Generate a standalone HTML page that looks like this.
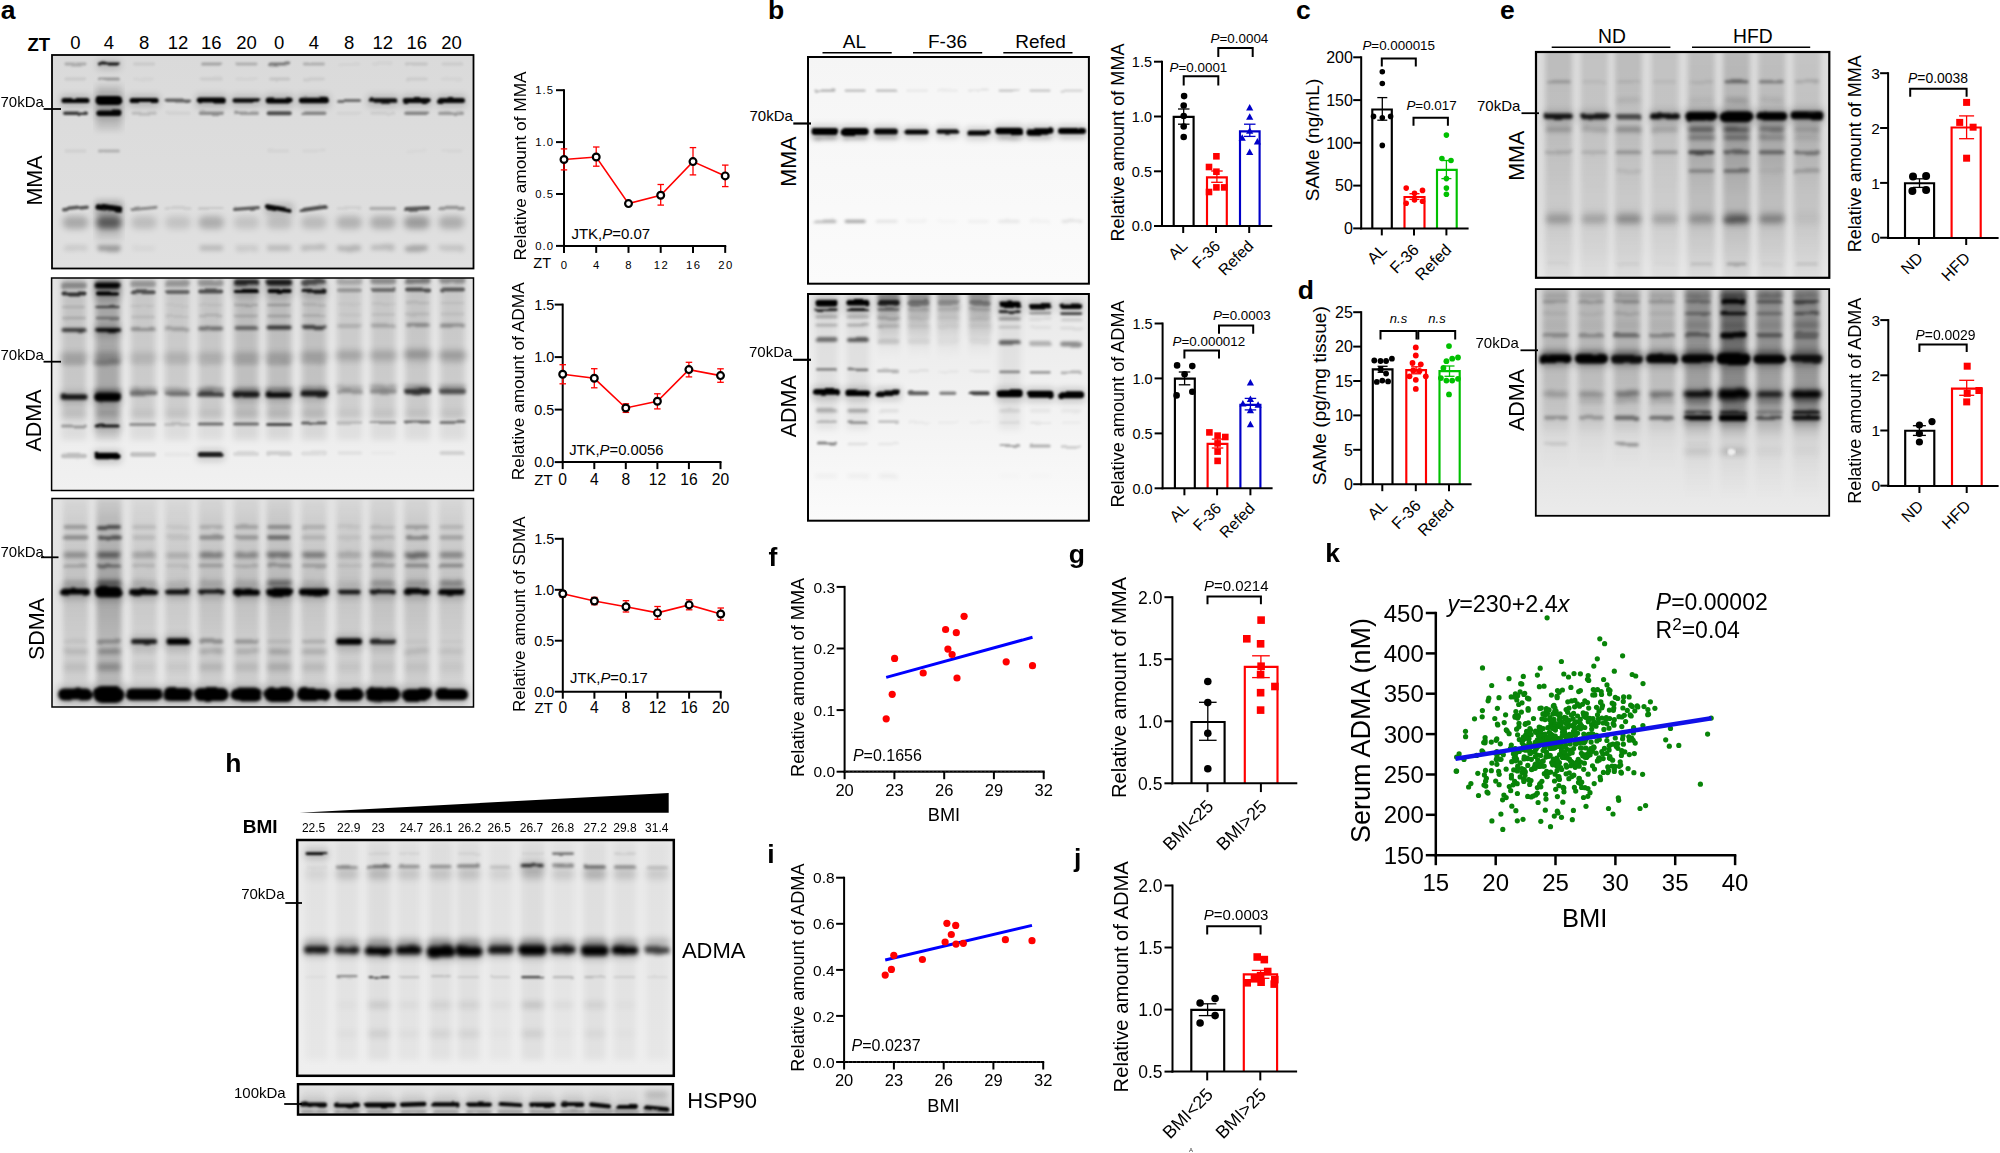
<!DOCTYPE html><html><head><meta charset="utf-8"><title>Figure</title><style>html,body{margin:0;padding:0;background:#fff;overflow:hidden}svg{display:block}</style></head><body>
<svg width="2000" height="1153" viewBox="0 0 2000 1153" font-family="Liberation Sans, Arial, sans-serif">
<defs>
<filter id="blur0.6" x="-10%" y="-400%" width="120%" height="900%" color-interpolation-filters="sRGB"><feTurbulence type="fractalNoise" baseFrequency="0.045 0.07" numOctaves="2" seed="6" result="n"/><feDisplacementMap in="SourceGraphic" in2="n" scale="3.2" xChannelSelector="R" yChannelSelector="G"/><feGaussianBlur stdDeviation="0.6"/></filter>
<filter id="blur0.8" x="-10%" y="-400%" width="120%" height="900%" color-interpolation-filters="sRGB"><feTurbulence type="fractalNoise" baseFrequency="0.045 0.07" numOctaves="2" seed="8" result="n"/><feDisplacementMap in="SourceGraphic" in2="n" scale="3.2" xChannelSelector="R" yChannelSelector="G"/><feGaussianBlur stdDeviation="0.8"/></filter>
<filter id="blur1" x="-10%" y="-400%" width="120%" height="900%" color-interpolation-filters="sRGB"><feTurbulence type="fractalNoise" baseFrequency="0.045 0.07" numOctaves="2" seed="10" result="n"/><feDisplacementMap in="SourceGraphic" in2="n" scale="3.2" xChannelSelector="R" yChannelSelector="G"/><feGaussianBlur stdDeviation="1"/></filter>
<filter id="blur1.2" x="-10%" y="-400%" width="120%" height="900%" color-interpolation-filters="sRGB"><feTurbulence type="fractalNoise" baseFrequency="0.045 0.07" numOctaves="2" seed="12" result="n"/><feDisplacementMap in="SourceGraphic" in2="n" scale="3.2" xChannelSelector="R" yChannelSelector="G"/><feGaussianBlur stdDeviation="1.2"/></filter>
<filter id="blur1.3" x="-10%" y="-400%" width="120%" height="900%" color-interpolation-filters="sRGB"><feTurbulence type="fractalNoise" baseFrequency="0.045 0.07" numOctaves="2" seed="13" result="n"/><feDisplacementMap in="SourceGraphic" in2="n" scale="3.2" xChannelSelector="R" yChannelSelector="G"/><feGaussianBlur stdDeviation="1.3"/></filter>
<filter id="blur1.4" x="-10%" y="-400%" width="120%" height="900%" color-interpolation-filters="sRGB"><feTurbulence type="fractalNoise" baseFrequency="0.045 0.07" numOctaves="2" seed="14" result="n"/><feDisplacementMap in="SourceGraphic" in2="n" scale="3.2" xChannelSelector="R" yChannelSelector="G"/><feGaussianBlur stdDeviation="1.4"/></filter>
<filter id="blur1.5" x="-10%" y="-400%" width="120%" height="900%" color-interpolation-filters="sRGB"><feTurbulence type="fractalNoise" baseFrequency="0.045 0.07" numOctaves="2" seed="15" result="n"/><feDisplacementMap in="SourceGraphic" in2="n" scale="3.2" xChannelSelector="R" yChannelSelector="G"/><feGaussianBlur stdDeviation="1.5"/></filter>
<filter id="blur1.6" x="-10%" y="-400%" width="120%" height="900%" color-interpolation-filters="sRGB"><feTurbulence type="fractalNoise" baseFrequency="0.045 0.07" numOctaves="2" seed="16" result="n"/><feDisplacementMap in="SourceGraphic" in2="n" scale="3.2" xChannelSelector="R" yChannelSelector="G"/><feGaussianBlur stdDeviation="1.6"/></filter>
<filter id="blur1.8" x="-10%" y="-400%" width="120%" height="900%" color-interpolation-filters="sRGB"><feTurbulence type="fractalNoise" baseFrequency="0.045 0.07" numOctaves="2" seed="18" result="n"/><feDisplacementMap in="SourceGraphic" in2="n" scale="3.2" xChannelSelector="R" yChannelSelector="G"/><feGaussianBlur stdDeviation="1.8"/></filter>
<filter id="blur2" x="-10%" y="-400%" width="120%" height="900%" color-interpolation-filters="sRGB"><feTurbulence type="fractalNoise" baseFrequency="0.045 0.07" numOctaves="2" seed="20" result="n"/><feDisplacementMap in="SourceGraphic" in2="n" scale="3.2" xChannelSelector="R" yChannelSelector="G"/><feGaussianBlur stdDeviation="2"/></filter>
<filter id="blur2.2" x="-10%" y="-400%" width="120%" height="900%" color-interpolation-filters="sRGB"><feTurbulence type="fractalNoise" baseFrequency="0.045 0.07" numOctaves="2" seed="22" result="n"/><feDisplacementMap in="SourceGraphic" in2="n" scale="3.2" xChannelSelector="R" yChannelSelector="G"/><feGaussianBlur stdDeviation="2.2"/></filter>
<filter id="blur2.5" x="-10%" y="-400%" width="120%" height="900%" color-interpolation-filters="sRGB"><feGaussianBlur stdDeviation="2.5"/></filter>
<filter id="blur3" x="-10%" y="-400%" width="120%" height="900%" color-interpolation-filters="sRGB"><feGaussianBlur stdDeviation="3"/></filter>
<filter id="blur3.5" x="-10%" y="-400%" width="120%" height="900%" color-interpolation-filters="sRGB"><feGaussianBlur stdDeviation="3.5"/></filter>
<filter id="blur4" x="-10%" y="-400%" width="120%" height="900%" color-interpolation-filters="sRGB"><feGaussianBlur stdDeviation="4"/></filter>
<filter id="blur5" x="-10%" y="-400%" width="120%" height="900%" color-interpolation-filters="sRGB"><feGaussianBlur stdDeviation="5"/></filter>
<filter id="blur6" x="-10%" y="-400%" width="120%" height="900%" color-interpolation-filters="sRGB"><feGaussianBlur stdDeviation="6"/></filter>
<filter id="blur3x" x="-5%" y="-5%" width="110%" height="110%"><feGaussianBlur stdDeviation="4 2"/></filter>
</defs>
<rect x="0.0" y="0.0" width="2000.0" height="1153.0" fill="#fff"/>
<text x="0.8" y="19.0" font-size="26.5" font-weight="bold">a</text>
<text x="27.5" y="50.5" font-size="18.5" font-weight="bold">ZT</text>
<text x="75.5" y="48.5" font-size="18.5" text-anchor="middle">0</text>
<text x="108.9" y="48.5" font-size="18.5" text-anchor="middle">4</text>
<text x="144.1" y="48.5" font-size="18.5" text-anchor="middle">8</text>
<text x="178.0" y="48.5" font-size="18.5" text-anchor="middle">12</text>
<text x="211.3" y="48.5" font-size="18.5" text-anchor="middle">16</text>
<text x="246.5" y="48.5" font-size="18.5" text-anchor="middle">20</text>
<text x="279.2" y="48.5" font-size="18.5" text-anchor="middle">0</text>
<text x="313.9" y="48.5" font-size="18.5" text-anchor="middle">4</text>
<text x="349.1" y="48.5" font-size="18.5" text-anchor="middle">8</text>
<text x="382.8" y="48.5" font-size="18.5" text-anchor="middle">12</text>
<text x="416.8" y="48.5" font-size="18.5" text-anchor="middle">16</text>
<text x="451.5" y="48.5" font-size="18.5" text-anchor="middle">20</text>
<clipPath id="cp1"><rect x="52" y="55" width="421.5" height="213.5"/></clipPath>
<linearGradient id="bg1" x1="0" y1="0" x2="0" y2="1"><stop offset="0" stop-color="#dadada"/><stop offset="1" stop-color="#e0e0e0"/></linearGradient>
<rect x="52.0" y="55.0" width="421.5" height="213.5" fill="url(#bg1)"/>
<g clip-path="url(#cp1)">
<g filter="url(#blur3)">
<rect x="95.9" y="85.0" width="26.0" height="45.0" fill="#000" opacity="0.12"/>
<rect x="95.9" y="200.0" width="26.0" height="40.0" fill="#000" opacity="0.12"/>
</g>
<g filter="url(#blur3)">
<rect x="96.9" y="59.1" width="24.0" height="10.8" rx="4" fill="#000" opacity="0.14"/>
<rect x="60.5" y="94.4" width="30.0" height="13.2" rx="4" fill="#000" opacity="0.16"/>
<rect x="94.4" y="92.5" width="29.0" height="17.0" rx="4" fill="#000" opacity="0.16"/>
<rect x="128.6" y="94.4" width="31.0" height="13.2" rx="4" fill="#000" opacity="0.16"/>
<rect x="195.8" y="94.0" width="31.0" height="14.0" rx="4" fill="#000" opacity="0.16"/>
<rect x="231.5" y="94.7" width="30.0" height="12.6" rx="4" fill="#000" opacity="0.15"/>
<rect x="264.7" y="94.0" width="29.0" height="14.0" rx="4" fill="#000" opacity="0.16"/>
<rect x="297.9" y="94.3" width="32.0" height="13.4" rx="4" fill="#000" opacity="0.16"/>
<rect x="367.3" y="94.7" width="31.0" height="12.6" rx="4" fill="#000" opacity="0.15"/>
<rect x="401.8" y="94.5" width="30.0" height="13.0" rx="4" fill="#000" opacity="0.15"/>
<rect x="437.0" y="94.5" width="29.0" height="13.0" rx="4" fill="#000" opacity="0.15"/>
<rect x="95.4" y="107.0" width="27.0" height="13.5" rx="4" fill="#000" opacity="0.16"/>
<rect x="94.4" y="202.2" width="29.0" height="13.5" rx="4" fill="#000" opacity="0.16"/>
<rect x="264.7" y="202.7" width="29.0" height="12.6" rx="4" fill="#000" opacity="0.16"/>
</g>
<g filter="url(#blur1.3)">
<rect x="64.5" y="62.6" width="22.0" height="2.8" rx="1.4" fill="#000" opacity="0.22"/>
<rect x="97.9" y="62.6" width="22.0" height="2.8" rx="1.4" fill="#000" opacity="0.90"/>
<rect x="133.1" y="62.6" width="22.0" height="2.8" rx="1.4" fill="#000" opacity="0.08"/>
<rect x="200.3" y="62.6" width="22.0" height="2.8" rx="1.4" fill="#000" opacity="0.25"/>
<rect x="235.5" y="62.6" width="22.0" height="2.8" rx="1.4" fill="#000" opacity="0.20"/>
<rect x="268.2" y="62.6" width="22.0" height="2.8" rx="1.4" fill="#000" opacity="0.45"/>
<rect x="302.9" y="62.6" width="22.0" height="2.8" rx="1.4" fill="#000" opacity="0.20"/>
<rect x="338.1" y="62.6" width="22.0" height="2.8" rx="1.4" fill="#000" opacity="0.04"/>
<rect x="371.8" y="62.6" width="22.0" height="2.8" rx="1.4" fill="#000" opacity="0.04"/>
<rect x="405.8" y="62.6" width="22.0" height="2.8" rx="1.4" fill="#000" opacity="0.10"/>
<rect x="440.5" y="62.6" width="22.0" height="2.8" rx="1.4" fill="#000" opacity="0.07"/>
</g>
<g filter="url(#blur1.3)">
<rect x="64.5" y="77.5" width="22.0" height="3.0" rx="1.5" fill="#000" opacity="0.08"/>
<rect x="97.9" y="77.5" width="22.0" height="3.0" rx="1.5" fill="#000" opacity="0.30"/>
<rect x="133.1" y="77.5" width="22.0" height="3.0" rx="1.5" fill="#000" opacity="0.03"/>
<rect x="200.3" y="77.5" width="22.0" height="3.0" rx="1.5" fill="#000" opacity="0.07"/>
<rect x="235.5" y="77.5" width="22.0" height="3.0" rx="1.5" fill="#000" opacity="0.04"/>
<rect x="268.2" y="77.5" width="22.0" height="3.0" rx="1.5" fill="#000" opacity="0.10"/>
<rect x="302.9" y="77.5" width="22.0" height="3.0" rx="1.5" fill="#000" opacity="0.07"/>
<rect x="405.8" y="77.5" width="22.0" height="3.0" rx="1.5" fill="#000" opacity="0.07"/>
<rect x="440.5" y="77.5" width="22.0" height="3.0" rx="1.5" fill="#000" opacity="0.03"/>
</g>
<g filter="url(#blur1.3)">
<rect x="61.5" y="97.9" width="28.0" height="5.2" rx="2.6" fill="#000" opacity="0.97"/>
<rect x="95.4" y="96.0" width="27.0" height="9.0" rx="4.5" fill="#000" opacity="1.00"/>
<rect x="129.6" y="97.9" width="29.0" height="5.2" rx="2.6" fill="#000" opacity="0.97"/>
<rect x="165.5" y="98.5" width="25.0" height="4.0" rx="2.0" fill="#000" opacity="0.55"/>
<rect x="196.8" y="97.5" width="29.0" height="6.0" rx="3.0" fill="#000" opacity="0.98"/>
<rect x="232.5" y="98.2" width="28.0" height="4.6" rx="2.3" fill="#000" opacity="0.93"/>
<rect x="265.7" y="97.5" width="27.0" height="6.0" rx="3.0" fill="#000" opacity="0.98"/>
<rect x="298.9" y="97.8" width="30.0" height="5.4" rx="2.7" fill="#000" opacity="0.97"/>
<rect x="337.1" y="98.9" width="24.0" height="3.2" rx="1.6" fill="#000" opacity="0.50"/>
<rect x="368.3" y="98.2" width="29.0" height="4.6" rx="2.3" fill="#000" opacity="0.93"/>
<rect x="402.8" y="98.0" width="28.0" height="5.0" rx="2.5" fill="#000" opacity="0.95"/>
<rect x="438.0" y="98.0" width="27.0" height="5.0" rx="2.5" fill="#000" opacity="0.95"/>
</g>
<g filter="url(#blur1.3)">
<rect x="63.0" y="111.5" width="25.0" height="3.6" rx="1.8" fill="#000" opacity="0.75"/>
<rect x="96.4" y="110.5" width="25.0" height="5.5" rx="2.8" fill="#000" opacity="0.97"/>
<rect x="131.6" y="111.8" width="25.0" height="3.0" rx="1.5" fill="#000" opacity="0.15"/>
<rect x="165.5" y="111.8" width="25.0" height="3.0" rx="1.5" fill="#000" opacity="0.05"/>
<rect x="198.8" y="111.5" width="25.0" height="3.6" rx="1.8" fill="#000" opacity="0.35"/>
<rect x="234.0" y="111.6" width="25.0" height="3.4" rx="1.7" fill="#000" opacity="0.30"/>
<rect x="266.7" y="111.3" width="25.0" height="4.0" rx="2.0" fill="#000" opacity="0.65"/>
<rect x="301.4" y="111.6" width="25.0" height="3.4" rx="1.7" fill="#000" opacity="0.40"/>
<rect x="336.6" y="111.8" width="25.0" height="3.0" rx="1.5" fill="#000" opacity="0.04"/>
<rect x="370.3" y="111.8" width="25.0" height="3.0" rx="1.5" fill="#000" opacity="0.07"/>
<rect x="404.3" y="111.5" width="25.0" height="3.6" rx="1.8" fill="#000" opacity="0.40"/>
<rect x="439.0" y="111.6" width="25.0" height="3.4" rx="1.7" fill="#000" opacity="0.30"/>
</g>
<g filter="url(#blur1.3)">
<rect x="64.5" y="149.5" width="22.0" height="3.0" rx="1.5" fill="#000" opacity="0.06"/>
<rect x="97.9" y="149.5" width="22.0" height="3.0" rx="1.5" fill="#000" opacity="0.20"/>
<rect x="268.2" y="149.5" width="22.0" height="3.0" rx="1.5" fill="#000" opacity="0.04"/>
<rect x="302.9" y="149.5" width="22.0" height="3.0" rx="1.5" fill="#000" opacity="0.03"/>
<rect x="405.8" y="149.5" width="22.0" height="3.0" rx="1.5" fill="#000" opacity="0.02"/>
<rect x="440.5" y="149.5" width="22.0" height="3.0" rx="1.5" fill="#000" opacity="0.03"/>
</g>
<g filter="url(#blur1.2)">
<rect x="62.0" y="206.8" width="27.0" height="3.4" rx="1.7" fill="#000" opacity="0.62" transform="rotate(-6 75.5 208.5)"/>
<rect x="95.4" y="205.8" width="27.0" height="5.5" rx="2.8" fill="#000" opacity="0.97" transform="rotate(8 108.9 208.5)"/>
<rect x="130.6" y="207.0" width="27.0" height="3.0" rx="1.5" fill="#000" opacity="0.38" transform="rotate(-6 144.1 208.5)"/>
<rect x="164.5" y="207.0" width="27.0" height="3.0" rx="1.5" fill="#000" opacity="0.08"/>
<rect x="197.8" y="207.0" width="27.0" height="3.0" rx="1.5" fill="#000" opacity="0.10"/>
<rect x="233.0" y="206.8" width="27.0" height="3.4" rx="1.7" fill="#000" opacity="0.60" transform="rotate(-4 246.5 208.5)"/>
<rect x="265.7" y="206.2" width="27.0" height="4.6" rx="2.3" fill="#000" opacity="0.97" transform="rotate(10 279.2 208.5)"/>
<rect x="300.4" y="206.7" width="27.0" height="3.6" rx="1.8" fill="#000" opacity="0.65" transform="rotate(-8 313.9 208.5)"/>
<rect x="335.6" y="207.0" width="27.0" height="3.0" rx="1.5" fill="#000" opacity="0.06"/>
<rect x="369.3" y="206.8" width="27.0" height="3.4" rx="1.7" fill="#000" opacity="0.22"/>
<rect x="403.3" y="206.5" width="27.0" height="4.0" rx="2.0" fill="#000" opacity="0.60" transform="rotate(-3 416.8 208.5)"/>
<rect x="438.0" y="206.8" width="27.0" height="3.4" rx="1.7" fill="#000" opacity="0.33"/>
</g>
<g filter="url(#blur3)">
<rect x="62.5" y="216.0" width="26.0" height="13.0" rx="6.5" fill="#000" opacity="0.24"/>
<rect x="95.9" y="216.0" width="26.0" height="13.0" rx="6.5" fill="#000" opacity="0.55"/>
<rect x="131.1" y="216.0" width="26.0" height="13.0" rx="6.5" fill="#000" opacity="0.15"/>
<rect x="165.0" y="216.0" width="26.0" height="13.0" rx="6.5" fill="#000" opacity="0.12"/>
<rect x="198.3" y="216.0" width="26.0" height="13.0" rx="6.5" fill="#000" opacity="0.22"/>
<rect x="233.5" y="216.0" width="26.0" height="13.0" rx="6.5" fill="#000" opacity="0.12"/>
<rect x="266.2" y="216.0" width="26.0" height="13.0" rx="6.5" fill="#000" opacity="0.15"/>
<rect x="300.9" y="216.0" width="26.0" height="13.0" rx="6.5" fill="#000" opacity="0.16"/>
<rect x="336.1" y="216.0" width="26.0" height="13.0" rx="6.5" fill="#000" opacity="0.20"/>
<rect x="369.8" y="216.0" width="26.0" height="13.0" rx="6.5" fill="#000" opacity="0.22"/>
<rect x="403.8" y="216.0" width="26.0" height="13.0" rx="6.5" fill="#000" opacity="0.30"/>
<rect x="438.5" y="216.0" width="26.0" height="13.0" rx="6.5" fill="#000" opacity="0.22"/>
</g>
<g filter="url(#blur2)">
<rect x="63.5" y="245.0" width="24.0" height="6.0" rx="3.0" fill="#000" opacity="0.09"/>
<rect x="96.9" y="245.0" width="24.0" height="6.0" rx="3.0" fill="#000" opacity="0.30"/>
<rect x="132.1" y="245.0" width="24.0" height="6.0" rx="3.0" fill="#000" opacity="0.04"/>
<rect x="199.3" y="245.0" width="24.0" height="6.0" rx="3.0" fill="#000" opacity="0.16"/>
<rect x="234.5" y="245.0" width="24.0" height="6.0" rx="3.0" fill="#000" opacity="0.09"/>
<rect x="267.2" y="245.0" width="24.0" height="6.0" rx="3.0" fill="#000" opacity="0.16"/>
<rect x="301.9" y="245.0" width="24.0" height="6.0" rx="3.0" fill="#000" opacity="0.17"/>
<rect x="337.1" y="245.0" width="24.0" height="6.0" rx="3.0" fill="#000" opacity="0.20"/>
<rect x="370.8" y="245.0" width="24.0" height="6.0" rx="3.0" fill="#000" opacity="0.17"/>
<rect x="404.8" y="245.0" width="24.0" height="6.0" rx="3.0" fill="#000" opacity="0.25"/>
<rect x="439.5" y="245.0" width="24.0" height="6.0" rx="3.0" fill="#000" opacity="0.12"/>
</g>
</g>
<rect x="52.0" y="55.0" width="421.5" height="213.5" fill="none" stroke="#000" stroke-width="1.8"/>
<text x="0.5" y="107.0" font-size="15">70kDa</text>
<line x1="43.5" y1="109.0" x2="61.0" y2="109.0" stroke="#000" stroke-width="1.8"/>
<text x="41.5" y="180.5" font-size="21.5" text-anchor="middle" transform="rotate(-90 41.5 180.5)">MMA</text>
<clipPath id="cp2"><rect x="51.6" y="278" width="421.9" height="212.5"/></clipPath>
<linearGradient id="bg2" x1="0" y1="0" x2="0" y2="1"><stop offset="0" stop-color="#e4e4e4"/><stop offset="1" stop-color="#f1f1f1"/></linearGradient>
<rect x="51.6" y="278.0" width="421.9" height="212.5" fill="url(#bg2)"/>
<g clip-path="url(#cp2)">
<g filter="url(#blur3)">
<rect x="61.5" y="276.0" width="25.0" height="142.0" fill="#000" opacity="0.15"/>
<rect x="95.1" y="276.0" width="25.0" height="142.0" fill="#000" opacity="0.28"/>
<rect x="130.6" y="276.0" width="25.0" height="142.0" fill="#000" opacity="0.13"/>
<rect x="164.7" y="276.0" width="25.0" height="142.0" fill="#000" opacity="0.13"/>
<rect x="198.2" y="276.0" width="25.0" height="142.0" fill="#000" opacity="0.14"/>
<rect x="233.6" y="276.0" width="25.0" height="142.0" fill="#000" opacity="0.18"/>
<rect x="266.6" y="276.0" width="25.0" height="142.0" fill="#000" opacity="0.18"/>
<rect x="301.5" y="276.0" width="25.0" height="142.0" fill="#000" opacity="0.17"/>
<rect x="336.9" y="276.0" width="25.0" height="142.0" fill="#000" opacity="0.12"/>
<rect x="370.8" y="276.0" width="25.0" height="142.0" fill="#000" opacity="0.13"/>
<rect x="405.1" y="276.0" width="25.0" height="142.0" fill="#000" opacity="0.14"/>
<rect x="440.0" y="276.0" width="25.0" height="142.0" fill="#000" opacity="0.13"/>
<rect x="61.5" y="410.0" width="25.0" height="30.0" fill="#000" opacity="0.07"/>
<rect x="95.1" y="410.0" width="25.0" height="30.0" fill="#000" opacity="0.14"/>
<rect x="130.6" y="410.0" width="25.0" height="30.0" fill="#000" opacity="0.07"/>
<rect x="164.7" y="410.0" width="25.0" height="30.0" fill="#000" opacity="0.07"/>
<rect x="198.2" y="410.0" width="25.0" height="30.0" fill="#000" opacity="0.07"/>
<rect x="233.6" y="410.0" width="25.0" height="30.0" fill="#000" opacity="0.09"/>
<rect x="266.6" y="410.0" width="25.0" height="30.0" fill="#000" opacity="0.09"/>
<rect x="301.5" y="410.0" width="25.0" height="30.0" fill="#000" opacity="0.09"/>
<rect x="336.9" y="410.0" width="25.0" height="30.0" fill="#000" opacity="0.06"/>
<rect x="370.8" y="410.0" width="25.0" height="30.0" fill="#000" opacity="0.07"/>
<rect x="405.1" y="410.0" width="25.0" height="30.0" fill="#000" opacity="0.07"/>
<rect x="440.0" y="410.0" width="25.0" height="30.0" fill="#000" opacity="0.07"/>
</g>
<g filter="url(#blur3)">
<rect x="93.6" y="279.0" width="28.0" height="14.0" rx="4" fill="#000" opacity="0.16"/>
<rect x="232.1" y="276.0" width="28.0" height="14.0" rx="4" fill="#000" opacity="0.13"/>
<rect x="265.1" y="276.0" width="28.0" height="14.0" rx="4" fill="#000" opacity="0.14"/>
<rect x="94.1" y="288.0" width="27.0" height="12.0" rx="4" fill="#000" opacity="0.16"/>
<rect x="232.6" y="285.6" width="27.0" height="12.0" rx="4" fill="#000" opacity="0.15"/>
<rect x="265.6" y="285.6" width="27.0" height="12.0" rx="4" fill="#000" opacity="0.15"/>
<rect x="300.5" y="285.2" width="27.0" height="12.0" rx="4" fill="#000" opacity="0.14"/>
<rect x="94.1" y="324.4" width="27.0" height="12.2" rx="4" fill="#000" opacity="0.15"/>
<rect x="59.5" y="390.8" width="29.0" height="13.5" rx="4" fill="#000" opacity="0.14"/>
<rect x="93.1" y="389.0" width="29.0" height="17.0" rx="4" fill="#000" opacity="0.16"/>
<rect x="231.6" y="388.0" width="29.0" height="14.0" rx="4" fill="#000" opacity="0.14"/>
<rect x="264.6" y="387.8" width="29.0" height="14.5" rx="4" fill="#000" opacity="0.15"/>
<rect x="299.5" y="387.0" width="29.0" height="14.0" rx="4" fill="#000" opacity="0.14"/>
<rect x="93.6" y="420.9" width="28.0" height="11.2" rx="4" fill="#000" opacity="0.14"/>
<rect x="93.6" y="449.2" width="28.0" height="14.5" rx="4" fill="#000" opacity="0.16"/>
<rect x="196.7" y="448.5" width="28.0" height="13.0" rx="4" fill="#000" opacity="0.14"/>
</g>
<g filter="url(#blur1.8)">
<rect x="61.0" y="282.5" width="26.0" height="6.0" rx="3.0" fill="#000" opacity="0.30"/>
<rect x="94.6" y="282.5" width="26.0" height="6.0" rx="3.0" fill="#000" opacity="1.00"/>
<rect x="130.1" y="281.0" width="26.0" height="6.0" rx="3.0" fill="#000" opacity="0.25"/>
<rect x="164.2" y="280.5" width="26.0" height="6.0" rx="3.0" fill="#000" opacity="0.25"/>
<rect x="197.7" y="280.0" width="26.0" height="6.0" rx="3.0" fill="#000" opacity="0.25"/>
<rect x="233.1" y="279.5" width="26.0" height="6.0" rx="3.0" fill="#000" opacity="0.80"/>
<rect x="266.1" y="279.5" width="26.0" height="6.0" rx="3.0" fill="#000" opacity="0.85"/>
<rect x="301.0" y="279.0" width="26.0" height="6.0" rx="3.0" fill="#000" opacity="0.60"/>
<rect x="336.4" y="278.5" width="26.0" height="6.0" rx="3.0" fill="#000" opacity="0.18"/>
<rect x="370.3" y="278.0" width="26.0" height="6.0" rx="3.0" fill="#000" opacity="0.30"/>
<rect x="404.6" y="277.5" width="26.0" height="6.0" rx="3.0" fill="#000" opacity="0.40"/>
<rect x="439.5" y="277.5" width="26.0" height="6.0" rx="3.0" fill="#000" opacity="0.30"/>
</g>
<g filter="url(#blur1.3)">
<rect x="61.5" y="291.5" width="25.0" height="4.0" rx="2.0" fill="#000" opacity="0.75"/>
<rect x="95.1" y="291.5" width="25.0" height="4.0" rx="2.0" fill="#000" opacity="1.00"/>
<rect x="130.6" y="290.3" width="25.0" height="4.0" rx="2.0" fill="#000" opacity="0.60"/>
<rect x="164.7" y="289.9" width="25.0" height="4.0" rx="2.0" fill="#000" opacity="0.50"/>
<rect x="198.2" y="289.5" width="25.0" height="4.0" rx="2.0" fill="#000" opacity="0.60"/>
<rect x="233.6" y="289.1" width="25.0" height="4.0" rx="2.0" fill="#000" opacity="0.95"/>
<rect x="266.6" y="289.1" width="25.0" height="4.0" rx="2.0" fill="#000" opacity="0.95"/>
<rect x="301.5" y="288.7" width="25.0" height="4.0" rx="2.0" fill="#000" opacity="0.85"/>
<rect x="336.9" y="288.3" width="25.0" height="4.0" rx="2.0" fill="#000" opacity="0.25"/>
<rect x="370.8" y="287.9" width="25.0" height="4.0" rx="2.0" fill="#000" opacity="0.45"/>
<rect x="405.1" y="287.5" width="25.0" height="4.0" rx="2.0" fill="#000" opacity="0.60"/>
<rect x="440.0" y="287.5" width="25.0" height="4.0" rx="2.0" fill="#000" opacity="0.55"/>
</g>
<g filter="url(#blur1.3)">
<rect x="62.0" y="305.8" width="24.0" height="2.5" rx="1.2" fill="#000" opacity="0.10"/>
<rect x="95.6" y="305.8" width="24.0" height="2.5" rx="1.2" fill="#000" opacity="0.55"/>
<rect x="131.1" y="304.8" width="24.0" height="2.5" rx="1.2" fill="#000" opacity="0.05"/>
<rect x="165.2" y="304.2" width="24.0" height="2.5" rx="1.2" fill="#000" opacity="0.03"/>
<rect x="198.7" y="303.8" width="24.0" height="2.5" rx="1.2" fill="#000" opacity="0.05"/>
<rect x="234.1" y="303.8" width="24.0" height="2.5" rx="1.2" fill="#000" opacity="0.15"/>
<rect x="267.1" y="303.8" width="24.0" height="2.5" rx="1.2" fill="#000" opacity="0.20"/>
<rect x="302.0" y="303.2" width="24.0" height="2.5" rx="1.2" fill="#000" opacity="0.10"/>
<rect x="337.4" y="302.8" width="24.0" height="2.5" rx="1.2" fill="#000" opacity="0.03"/>
<rect x="371.3" y="302.2" width="24.0" height="2.5" rx="1.2" fill="#000" opacity="0.05"/>
<rect x="405.6" y="301.8" width="24.0" height="2.5" rx="1.2" fill="#000" opacity="0.08"/>
<rect x="440.5" y="301.8" width="24.0" height="2.5" rx="1.2" fill="#000" opacity="0.05"/>
</g>
<g filter="url(#blur1.3)">
<rect x="62.0" y="316.5" width="24.0" height="3.0" rx="1.5" fill="#000" opacity="0.12"/>
<rect x="95.6" y="316.5" width="24.0" height="3.0" rx="1.5" fill="#000" opacity="0.30"/>
<rect x="131.1" y="315.5" width="24.0" height="3.0" rx="1.5" fill="#000" opacity="0.08"/>
<rect x="165.2" y="315.0" width="24.0" height="3.0" rx="1.5" fill="#000" opacity="0.06"/>
<rect x="198.7" y="314.5" width="24.0" height="3.0" rx="1.5" fill="#000" opacity="0.10"/>
<rect x="234.1" y="314.5" width="24.0" height="3.0" rx="1.5" fill="#000" opacity="0.12"/>
<rect x="267.1" y="314.5" width="24.0" height="3.0" rx="1.5" fill="#000" opacity="0.15"/>
<rect x="302.0" y="314.0" width="24.0" height="3.0" rx="1.5" fill="#000" opacity="0.10"/>
<rect x="337.4" y="313.5" width="24.0" height="3.0" rx="1.5" fill="#000" opacity="0.04"/>
<rect x="371.3" y="313.0" width="24.0" height="3.0" rx="1.5" fill="#000" opacity="0.06"/>
<rect x="405.6" y="312.5" width="24.0" height="3.0" rx="1.5" fill="#000" opacity="0.08"/>
<rect x="440.5" y="312.5" width="24.0" height="3.0" rx="1.5" fill="#000" opacity="0.06"/>
</g>
<g filter="url(#blur1.6)">
<rect x="61.5" y="327.9" width="25.0" height="4.2" rx="2.1" fill="#000" opacity="0.70"/>
<rect x="95.1" y="327.9" width="25.0" height="4.2" rx="2.1" fill="#000" opacity="0.95"/>
<rect x="130.6" y="326.9" width="25.0" height="4.2" rx="2.1" fill="#000" opacity="0.30"/>
<rect x="164.7" y="326.9" width="25.0" height="4.2" rx="2.1" fill="#000" opacity="0.22"/>
<rect x="198.2" y="326.4" width="25.0" height="4.2" rx="2.1" fill="#000" opacity="0.45"/>
<rect x="233.6" y="325.9" width="25.0" height="4.2" rx="2.1" fill="#000" opacity="0.50"/>
<rect x="266.6" y="325.4" width="25.0" height="4.2" rx="2.1" fill="#000" opacity="0.75"/>
<rect x="301.5" y="324.9" width="25.0" height="4.2" rx="2.1" fill="#000" opacity="0.70"/>
<rect x="336.9" y="323.9" width="25.0" height="4.2" rx="2.1" fill="#000" opacity="0.14"/>
<rect x="370.8" y="323.4" width="25.0" height="4.2" rx="2.1" fill="#000" opacity="0.20"/>
<rect x="405.1" y="322.9" width="25.0" height="4.2" rx="2.1" fill="#000" opacity="0.32"/>
<rect x="440.0" y="323.4" width="25.0" height="4.2" rx="2.1" fill="#000" opacity="0.32"/>
</g>
<g filter="url(#blur3)">
<rect x="60.0" y="352.5" width="28.0" height="10.0" rx="5.0" fill="#000" opacity="0.20"/>
<rect x="93.6" y="352.5" width="28.0" height="10.0" rx="5.0" fill="#000" opacity="0.23"/>
<rect x="129.1" y="352.5" width="28.0" height="10.0" rx="5.0" fill="#000" opacity="0.12"/>
<rect x="163.2" y="352.5" width="28.0" height="10.0" rx="5.0" fill="#000" opacity="0.14"/>
<rect x="196.7" y="352.5" width="28.0" height="10.0" rx="5.0" fill="#000" opacity="0.15"/>
<rect x="232.1" y="352.5" width="28.0" height="10.0" rx="5.0" fill="#000" opacity="0.19"/>
<rect x="265.1" y="352.5" width="28.0" height="10.0" rx="5.0" fill="#000" opacity="0.20"/>
<rect x="300.0" y="351.5" width="28.0" height="10.0" rx="5.0" fill="#000" opacity="0.20"/>
<rect x="335.4" y="350.5" width="28.0" height="10.0" rx="5.0" fill="#000" opacity="0.20"/>
<rect x="369.3" y="350.5" width="28.0" height="10.0" rx="5.0" fill="#000" opacity="0.19"/>
<rect x="403.6" y="349.5" width="28.0" height="10.0" rx="5.0" fill="#000" opacity="0.27"/>
<rect x="438.5" y="350.5" width="28.0" height="10.0" rx="5.0" fill="#000" opacity="0.24"/>
</g>
<g filter="url(#blur2)">
<rect x="61.0" y="361.0" width="26.0" height="4.0" rx="2.0" fill="#000" opacity="0.12"/>
<rect x="94.6" y="361.0" width="26.0" height="4.0" rx="2.0" fill="#000" opacity="0.30"/>
<rect x="130.1" y="361.0" width="26.0" height="4.0" rx="2.0" fill="#000" opacity="0.04"/>
<rect x="164.2" y="361.0" width="26.0" height="4.0" rx="2.0" fill="#000" opacity="0.04"/>
<rect x="197.7" y="361.0" width="26.0" height="4.0" rx="2.0" fill="#000" opacity="0.05"/>
<rect x="233.1" y="361.0" width="26.0" height="4.0" rx="2.0" fill="#000" opacity="0.08"/>
<rect x="266.1" y="361.0" width="26.0" height="4.0" rx="2.0" fill="#000" opacity="0.12"/>
<rect x="301.0" y="361.0" width="26.0" height="4.0" rx="2.0" fill="#000" opacity="0.08"/>
<rect x="336.4" y="361.0" width="26.0" height="4.0" rx="2.0" fill="#000" opacity="0.02"/>
<rect x="370.3" y="361.0" width="26.0" height="4.0" rx="2.0" fill="#000" opacity="0.02"/>
<rect x="404.6" y="361.0" width="26.0" height="4.0" rx="2.0" fill="#000" opacity="0.03"/>
<rect x="439.5" y="361.0" width="26.0" height="4.0" rx="2.0" fill="#000" opacity="0.03"/>
</g>
<g filter="url(#blur2)">
<rect x="94.1" y="389.0" width="27.0" height="4.0" rx="2.0" fill="#000" opacity="0.30"/>
<rect x="129.6" y="388.0" width="27.0" height="4.0" rx="2.0" fill="#000" opacity="0.30"/>
<rect x="163.7" y="388.0" width="27.0" height="4.0" rx="2.0" fill="#000" opacity="0.28"/>
<rect x="197.2" y="388.0" width="27.0" height="4.0" rx="2.0" fill="#000" opacity="0.40"/>
<rect x="232.6" y="388.0" width="27.0" height="4.0" rx="2.0" fill="#000" opacity="0.35"/>
<rect x="265.6" y="388.0" width="27.0" height="4.0" rx="2.0" fill="#000" opacity="0.35"/>
<rect x="300.5" y="387.0" width="27.0" height="4.0" rx="2.0" fill="#000" opacity="0.30"/>
<rect x="335.9" y="386.0" width="27.0" height="4.0" rx="2.0" fill="#000" opacity="0.22"/>
<rect x="369.8" y="385.0" width="27.0" height="4.0" rx="2.0" fill="#000" opacity="0.30"/>
<rect x="404.1" y="385.0" width="27.0" height="4.0" rx="2.0" fill="#000" opacity="0.35"/>
<rect x="439.0" y="385.0" width="27.0" height="4.0" rx="2.0" fill="#000" opacity="0.30"/>
</g>
<g filter="url(#blur1.6)">
<rect x="60.5" y="394.2" width="27.0" height="5.5" rx="2.8" fill="#000" opacity="0.88"/>
<rect x="94.1" y="392.5" width="27.0" height="9.0" rx="4.5" fill="#000" opacity="1.00"/>
<rect x="129.6" y="391.8" width="27.0" height="4.5" rx="2.2" fill="#000" opacity="0.42"/>
<rect x="163.7" y="391.8" width="27.0" height="4.5" rx="2.2" fill="#000" opacity="0.40"/>
<rect x="197.2" y="391.2" width="27.0" height="5.5" rx="2.8" fill="#000" opacity="0.68"/>
<rect x="232.6" y="391.5" width="27.0" height="6.0" rx="3.0" fill="#000" opacity="0.85"/>
<rect x="265.6" y="391.2" width="27.0" height="6.5" rx="3.2" fill="#000" opacity="0.95"/>
<rect x="300.5" y="390.5" width="27.0" height="6.0" rx="3.0" fill="#000" opacity="0.85"/>
<rect x="335.9" y="389.8" width="27.0" height="4.5" rx="2.2" fill="#000" opacity="0.25"/>
<rect x="369.8" y="389.2" width="27.0" height="4.5" rx="2.2" fill="#000" opacity="0.30"/>
<rect x="404.1" y="387.8" width="27.0" height="6.5" rx="3.2" fill="#000" opacity="0.75"/>
<rect x="439.0" y="388.8" width="27.0" height="5.5" rx="2.8" fill="#000" opacity="0.60"/>
</g>
<g filter="url(#blur1.3)">
<rect x="61.0" y="424.4" width="26.0" height="3.2" rx="1.6" fill="#000" opacity="0.30"/>
<rect x="94.6" y="424.4" width="26.0" height="3.2" rx="1.6" fill="#000" opacity="0.85"/>
<rect x="130.1" y="422.9" width="26.0" height="3.2" rx="1.6" fill="#000" opacity="0.35"/>
<rect x="164.2" y="422.9" width="26.0" height="3.2" rx="1.6" fill="#000" opacity="0.15"/>
<rect x="197.7" y="422.4" width="26.0" height="3.2" rx="1.6" fill="#000" opacity="0.50"/>
<rect x="233.1" y="422.4" width="26.0" height="3.2" rx="1.6" fill="#000" opacity="0.50"/>
<rect x="266.1" y="422.9" width="26.0" height="3.2" rx="1.6" fill="#000" opacity="0.65"/>
<rect x="301.0" y="421.4" width="26.0" height="3.2" rx="1.6" fill="#000" opacity="0.55"/>
<rect x="336.4" y="420.9" width="26.0" height="3.2" rx="1.6" fill="#000" opacity="0.15"/>
<rect x="370.3" y="420.9" width="26.0" height="3.2" rx="1.6" fill="#000" opacity="0.30"/>
<rect x="404.6" y="420.4" width="26.0" height="3.2" rx="1.6" fill="#000" opacity="0.50"/>
<rect x="439.5" y="420.9" width="26.0" height="3.2" rx="1.6" fill="#000" opacity="0.45"/>
</g>
<g filter="url(#blur1.3)">
<rect x="61.0" y="453.8" width="26.0" height="4.5" rx="2.2" fill="#000" opacity="0.20"/>
<rect x="94.6" y="452.8" width="26.0" height="6.5" rx="3.2" fill="#000" opacity="1.00"/>
<rect x="130.1" y="452.2" width="26.0" height="4.5" rx="2.2" fill="#000" opacity="0.20"/>
<rect x="164.2" y="452.5" width="26.0" height="4.0" rx="2.0" fill="#000" opacity="0.03"/>
<rect x="197.7" y="452.0" width="26.0" height="5.0" rx="2.5" fill="#000" opacity="0.85"/>
<rect x="233.1" y="452.0" width="26.0" height="4.0" rx="2.0" fill="#000" opacity="0.10"/>
<rect x="266.1" y="452.0" width="26.0" height="4.0" rx="2.0" fill="#000" opacity="0.13"/>
<rect x="301.0" y="451.5" width="26.0" height="4.0" rx="2.0" fill="#000" opacity="0.08"/>
<rect x="336.4" y="451.0" width="26.0" height="4.0" rx="2.0" fill="#000" opacity="0.05"/>
<rect x="370.3" y="451.0" width="26.0" height="4.0" rx="2.0" fill="#000" opacity="0.02"/>
<rect x="439.5" y="451.0" width="26.0" height="4.0" rx="2.0" fill="#000" opacity="0.12"/>
</g>
</g>
<rect x="51.6" y="278.0" width="421.9" height="212.5" fill="none" stroke="#000" stroke-width="1.5"/>
<text x="0.5" y="360.0" font-size="15">70kDa</text>
<line x1="43.5" y1="361.7" x2="61.0" y2="361.7" stroke="#000" stroke-width="1.8"/>
<text x="40.5" y="420.5" font-size="21.5" text-anchor="middle" transform="rotate(-90 40.5 420.5)">ADMA</text>
<clipPath id="cp3"><rect x="52" y="498.5" width="421.5" height="208.5"/></clipPath>
<linearGradient id="bg3" x1="0" y1="0" x2="0" y2="1"><stop offset="-0.002" stop-color="#e3e3e3"/><stop offset="0.487" stop-color="#e2e2e2"/><stop offset="1.000" stop-color="#e8e8e8"/></linearGradient>
<rect x="52.0" y="498.5" width="421.5" height="208.5" fill="url(#bg3)"/>
<g clip-path="url(#cp3)">
<g filter="url(#blur2.5)">
<linearGradient id="lp3_0" gradientUnits="userSpaceOnUse" x1="0" y1="498" x2="0" y2="707"><stop offset="0.000" stop-color="#000" stop-opacity="0.050"/><stop offset="0.105" stop-color="#000" stop-opacity="0.090"/><stop offset="0.297" stop-color="#000" stop-opacity="0.120"/><stop offset="0.416" stop-color="#000" stop-opacity="0.150"/><stop offset="0.488" stop-color="#000" stop-opacity="0.130"/><stop offset="0.656" stop-color="#000" stop-opacity="0.100"/><stop offset="0.847" stop-color="#000" stop-opacity="0.110"/><stop offset="0.909" stop-color="#000" stop-opacity="0.060"/><stop offset="1.000" stop-color="#000" stop-opacity="0.030"/></linearGradient>
<rect x="63.0" y="498" width="25.0" height="209" fill="url(#lp3_0)"/>
<linearGradient id="lp3_1" gradientUnits="userSpaceOnUse" x1="0" y1="498" x2="0" y2="707"><stop offset="0.000" stop-color="#000" stop-opacity="0.100"/><stop offset="0.105" stop-color="#000" stop-opacity="0.180"/><stop offset="0.297" stop-color="#000" stop-opacity="0.240"/><stop offset="0.416" stop-color="#000" stop-opacity="0.300"/><stop offset="0.488" stop-color="#000" stop-opacity="0.260"/><stop offset="0.656" stop-color="#000" stop-opacity="0.200"/><stop offset="0.847" stop-color="#000" stop-opacity="0.220"/><stop offset="0.909" stop-color="#000" stop-opacity="0.120"/><stop offset="1.000" stop-color="#000" stop-opacity="0.060"/></linearGradient>
<rect x="96.4" y="498" width="25.0" height="209" fill="url(#lp3_1)"/>
<linearGradient id="lp3_2" gradientUnits="userSpaceOnUse" x1="0" y1="498" x2="0" y2="707"><stop offset="0.000" stop-color="#000" stop-opacity="0.043"/><stop offset="0.105" stop-color="#000" stop-opacity="0.076"/><stop offset="0.297" stop-color="#000" stop-opacity="0.102"/><stop offset="0.416" stop-color="#000" stop-opacity="0.128"/><stop offset="0.488" stop-color="#000" stop-opacity="0.111"/><stop offset="0.656" stop-color="#000" stop-opacity="0.085"/><stop offset="0.847" stop-color="#000" stop-opacity="0.093"/><stop offset="0.909" stop-color="#000" stop-opacity="0.051"/><stop offset="1.000" stop-color="#000" stop-opacity="0.025"/></linearGradient>
<rect x="131.6" y="498" width="25.0" height="209" fill="url(#lp3_2)"/>
<linearGradient id="lp3_3" gradientUnits="userSpaceOnUse" x1="0" y1="498" x2="0" y2="707"><stop offset="0.000" stop-color="#000" stop-opacity="0.043"/><stop offset="0.105" stop-color="#000" stop-opacity="0.076"/><stop offset="0.297" stop-color="#000" stop-opacity="0.102"/><stop offset="0.416" stop-color="#000" stop-opacity="0.128"/><stop offset="0.488" stop-color="#000" stop-opacity="0.111"/><stop offset="0.656" stop-color="#000" stop-opacity="0.085"/><stop offset="0.847" stop-color="#000" stop-opacity="0.093"/><stop offset="0.909" stop-color="#000" stop-opacity="0.051"/><stop offset="1.000" stop-color="#000" stop-opacity="0.025"/></linearGradient>
<rect x="165.5" y="498" width="25.0" height="209" fill="url(#lp3_3)"/>
<linearGradient id="lp3_4" gradientUnits="userSpaceOnUse" x1="0" y1="498" x2="0" y2="707"><stop offset="0.000" stop-color="#000" stop-opacity="0.055"/><stop offset="0.105" stop-color="#000" stop-opacity="0.099"/><stop offset="0.297" stop-color="#000" stop-opacity="0.132"/><stop offset="0.416" stop-color="#000" stop-opacity="0.165"/><stop offset="0.488" stop-color="#000" stop-opacity="0.143"/><stop offset="0.656" stop-color="#000" stop-opacity="0.110"/><stop offset="0.847" stop-color="#000" stop-opacity="0.121"/><stop offset="0.909" stop-color="#000" stop-opacity="0.066"/><stop offset="1.000" stop-color="#000" stop-opacity="0.033"/></linearGradient>
<rect x="198.8" y="498" width="25.0" height="209" fill="url(#lp3_4)"/>
<linearGradient id="lp3_5" gradientUnits="userSpaceOnUse" x1="0" y1="498" x2="0" y2="707"><stop offset="0.000" stop-color="#000" stop-opacity="0.055"/><stop offset="0.105" stop-color="#000" stop-opacity="0.099"/><stop offset="0.297" stop-color="#000" stop-opacity="0.132"/><stop offset="0.416" stop-color="#000" stop-opacity="0.165"/><stop offset="0.488" stop-color="#000" stop-opacity="0.143"/><stop offset="0.656" stop-color="#000" stop-opacity="0.110"/><stop offset="0.847" stop-color="#000" stop-opacity="0.121"/><stop offset="0.909" stop-color="#000" stop-opacity="0.066"/><stop offset="1.000" stop-color="#000" stop-opacity="0.033"/></linearGradient>
<rect x="234.0" y="498" width="25.0" height="209" fill="url(#lp3_5)"/>
<linearGradient id="lp3_6" gradientUnits="userSpaceOnUse" x1="0" y1="498" x2="0" y2="707"><stop offset="0.000" stop-color="#000" stop-opacity="0.065"/><stop offset="0.105" stop-color="#000" stop-opacity="0.117"/><stop offset="0.297" stop-color="#000" stop-opacity="0.156"/><stop offset="0.416" stop-color="#000" stop-opacity="0.195"/><stop offset="0.488" stop-color="#000" stop-opacity="0.169"/><stop offset="0.656" stop-color="#000" stop-opacity="0.130"/><stop offset="0.847" stop-color="#000" stop-opacity="0.143"/><stop offset="0.909" stop-color="#000" stop-opacity="0.078"/><stop offset="1.000" stop-color="#000" stop-opacity="0.039"/></linearGradient>
<rect x="266.7" y="498" width="25.0" height="209" fill="url(#lp3_6)"/>
<linearGradient id="lp3_7" gradientUnits="userSpaceOnUse" x1="0" y1="498" x2="0" y2="707"><stop offset="0.000" stop-color="#000" stop-opacity="0.050"/><stop offset="0.105" stop-color="#000" stop-opacity="0.090"/><stop offset="0.297" stop-color="#000" stop-opacity="0.120"/><stop offset="0.416" stop-color="#000" stop-opacity="0.150"/><stop offset="0.488" stop-color="#000" stop-opacity="0.130"/><stop offset="0.656" stop-color="#000" stop-opacity="0.100"/><stop offset="0.847" stop-color="#000" stop-opacity="0.110"/><stop offset="0.909" stop-color="#000" stop-opacity="0.060"/><stop offset="1.000" stop-color="#000" stop-opacity="0.030"/></linearGradient>
<rect x="301.4" y="498" width="25.0" height="209" fill="url(#lp3_7)"/>
<linearGradient id="lp3_8" gradientUnits="userSpaceOnUse" x1="0" y1="498" x2="0" y2="707"><stop offset="0.000" stop-color="#000" stop-opacity="0.048"/><stop offset="0.105" stop-color="#000" stop-opacity="0.085"/><stop offset="0.297" stop-color="#000" stop-opacity="0.114"/><stop offset="0.416" stop-color="#000" stop-opacity="0.142"/><stop offset="0.488" stop-color="#000" stop-opacity="0.123"/><stop offset="0.656" stop-color="#000" stop-opacity="0.095"/><stop offset="0.847" stop-color="#000" stop-opacity="0.104"/><stop offset="0.909" stop-color="#000" stop-opacity="0.057"/><stop offset="1.000" stop-color="#000" stop-opacity="0.028"/></linearGradient>
<rect x="336.6" y="498" width="25.0" height="209" fill="url(#lp3_8)"/>
<linearGradient id="lp3_9" gradientUnits="userSpaceOnUse" x1="0" y1="498" x2="0" y2="707"><stop offset="0.000" stop-color="#000" stop-opacity="0.055"/><stop offset="0.105" stop-color="#000" stop-opacity="0.099"/><stop offset="0.297" stop-color="#000" stop-opacity="0.132"/><stop offset="0.416" stop-color="#000" stop-opacity="0.165"/><stop offset="0.488" stop-color="#000" stop-opacity="0.143"/><stop offset="0.656" stop-color="#000" stop-opacity="0.110"/><stop offset="0.847" stop-color="#000" stop-opacity="0.121"/><stop offset="0.909" stop-color="#000" stop-opacity="0.066"/><stop offset="1.000" stop-color="#000" stop-opacity="0.033"/></linearGradient>
<rect x="370.3" y="498" width="25.0" height="209" fill="url(#lp3_9)"/>
<linearGradient id="lp3_10" gradientUnits="userSpaceOnUse" x1="0" y1="498" x2="0" y2="707"><stop offset="0.000" stop-color="#000" stop-opacity="0.055"/><stop offset="0.105" stop-color="#000" stop-opacity="0.099"/><stop offset="0.297" stop-color="#000" stop-opacity="0.132"/><stop offset="0.416" stop-color="#000" stop-opacity="0.165"/><stop offset="0.488" stop-color="#000" stop-opacity="0.143"/><stop offset="0.656" stop-color="#000" stop-opacity="0.110"/><stop offset="0.847" stop-color="#000" stop-opacity="0.121"/><stop offset="0.909" stop-color="#000" stop-opacity="0.066"/><stop offset="1.000" stop-color="#000" stop-opacity="0.033"/></linearGradient>
<rect x="404.3" y="498" width="25.0" height="209" fill="url(#lp3_10)"/>
<linearGradient id="lp3_11" gradientUnits="userSpaceOnUse" x1="0" y1="498" x2="0" y2="707"><stop offset="0.000" stop-color="#000" stop-opacity="0.048"/><stop offset="0.105" stop-color="#000" stop-opacity="0.085"/><stop offset="0.297" stop-color="#000" stop-opacity="0.114"/><stop offset="0.416" stop-color="#000" stop-opacity="0.142"/><stop offset="0.488" stop-color="#000" stop-opacity="0.123"/><stop offset="0.656" stop-color="#000" stop-opacity="0.095"/><stop offset="0.847" stop-color="#000" stop-opacity="0.104"/><stop offset="0.909" stop-color="#000" stop-opacity="0.057"/><stop offset="1.000" stop-color="#000" stop-opacity="0.028"/></linearGradient>
<rect x="439.0" y="498" width="25.0" height="209" fill="url(#lp3_11)"/>
</g>
<g filter="url(#blur3)">
<rect x="60.0" y="585.0" width="31.0" height="15.0" rx="4" fill="#000" opacity="0.16"/>
<rect x="93.9" y="583.0" width="30.0" height="19.0" rx="4" fill="#000" opacity="0.16"/>
<rect x="128.1" y="585.5" width="32.0" height="14.0" rx="4" fill="#000" opacity="0.16"/>
<rect x="165.0" y="586.0" width="26.0" height="13.0" rx="4" fill="#000" opacity="0.15"/>
<rect x="196.8" y="586.0" width="29.0" height="13.0" rx="4" fill="#000" opacity="0.14"/>
<rect x="232.0" y="585.0" width="29.0" height="15.0" rx="4" fill="#000" opacity="0.16"/>
<rect x="265.2" y="584.2" width="28.0" height="16.5" rx="4" fill="#000" opacity="0.16"/>
<rect x="297.9" y="585.0" width="32.0" height="15.0" rx="4" fill="#000" opacity="0.16"/>
<rect x="336.6" y="586.2" width="25.0" height="12.5" rx="4" fill="#000" opacity="0.14"/>
<rect x="368.8" y="586.1" width="28.0" height="12.8" rx="4" fill="#000" opacity="0.14"/>
<rect x="402.8" y="585.5" width="28.0" height="14.0" rx="4" fill="#000" opacity="0.16"/>
<rect x="437.5" y="585.5" width="28.0" height="14.0" rx="4" fill="#000" opacity="0.16"/>
<rect x="130.1" y="635.5" width="28.0" height="13.0" rx="4" fill="#000" opacity="0.14"/>
<rect x="164.5" y="634.8" width="27.0" height="14.5" rx="4" fill="#000" opacity="0.16"/>
<rect x="335.1" y="634.8" width="28.0" height="14.5" rx="4" fill="#000" opacity="0.16"/>
<rect x="368.8" y="635.2" width="28.0" height="13.5" rx="4" fill="#000" opacity="0.13"/>
<rect x="57.0" y="685.0" width="37.0" height="20.0" rx="4" fill="#000" opacity="0.16"/>
<rect x="92.4" y="682.5" width="33.0" height="25.0" rx="4" fill="#000" opacity="0.16"/>
<rect x="124.6" y="685.0" width="39.0" height="20.0" rx="4" fill="#000" opacity="0.16"/>
<rect x="162.5" y="684.5" width="31.0" height="21.0" rx="4" fill="#000" opacity="0.16"/>
<rect x="192.8" y="684.5" width="37.0" height="21.0" rx="4" fill="#000" opacity="0.16"/>
<rect x="229.5" y="684.0" width="34.0" height="22.0" rx="4" fill="#000" opacity="0.16"/>
<rect x="263.2" y="683.5" width="32.0" height="23.0" rx="4" fill="#000" opacity="0.16"/>
<rect x="295.9" y="684.5" width="36.0" height="21.0" rx="4" fill="#000" opacity="0.16"/>
<rect x="333.6" y="684.5" width="31.0" height="21.0" rx="4" fill="#000" opacity="0.16"/>
<rect x="364.3" y="684.0" width="37.0" height="22.0" rx="4" fill="#000" opacity="0.16"/>
<rect x="400.3" y="684.5" width="33.0" height="21.0" rx="4" fill="#000" opacity="0.16"/>
<rect x="434.0" y="685.5" width="35.0" height="19.0" rx="4" fill="#000" opacity="0.16"/>
</g>
<g filter="url(#blur1.8)">
<rect x="63.5" y="525.0" width="24.0" height="4.0" rx="2.0" fill="#000" opacity="0.25"/>
<rect x="96.9" y="525.0" width="24.0" height="4.0" rx="2.0" fill="#000" opacity="0.60"/>
<rect x="132.1" y="525.0" width="24.0" height="4.0" rx="2.0" fill="#000" opacity="0.10"/>
<rect x="166.0" y="525.0" width="24.0" height="4.0" rx="2.0" fill="#000" opacity="0.06"/>
<rect x="199.3" y="525.0" width="24.0" height="4.0" rx="2.0" fill="#000" opacity="0.15"/>
<rect x="234.5" y="525.0" width="24.0" height="4.0" rx="2.0" fill="#000" opacity="0.20"/>
<rect x="267.2" y="525.0" width="24.0" height="4.0" rx="2.0" fill="#000" opacity="0.30"/>
<rect x="301.9" y="525.0" width="24.0" height="4.0" rx="2.0" fill="#000" opacity="0.15"/>
<rect x="337.1" y="525.0" width="24.0" height="4.0" rx="2.0" fill="#000" opacity="0.06"/>
<rect x="370.8" y="525.0" width="24.0" height="4.0" rx="2.0" fill="#000" opacity="0.10"/>
<rect x="404.8" y="525.0" width="24.0" height="4.0" rx="2.0" fill="#000" opacity="0.22"/>
<rect x="439.5" y="525.0" width="24.0" height="4.0" rx="2.0" fill="#000" opacity="0.12"/>
</g>
<g filter="url(#blur1.8)">
<rect x="63.5" y="535.2" width="24.0" height="4.5" rx="2.2" fill="#000" opacity="0.30"/>
<rect x="96.9" y="535.2" width="24.0" height="4.5" rx="2.2" fill="#000" opacity="0.55"/>
<rect x="132.1" y="535.2" width="24.0" height="4.5" rx="2.2" fill="#000" opacity="0.10"/>
<rect x="166.0" y="535.2" width="24.0" height="4.5" rx="2.2" fill="#000" opacity="0.07"/>
<rect x="199.3" y="535.2" width="24.0" height="4.5" rx="2.2" fill="#000" opacity="0.30"/>
<rect x="234.5" y="535.2" width="24.0" height="4.5" rx="2.2" fill="#000" opacity="0.25"/>
<rect x="267.2" y="535.2" width="24.0" height="4.5" rx="2.2" fill="#000" opacity="0.45"/>
<rect x="301.9" y="535.2" width="24.0" height="4.5" rx="2.2" fill="#000" opacity="0.12"/>
<rect x="337.1" y="535.2" width="24.0" height="4.5" rx="2.2" fill="#000" opacity="0.06"/>
<rect x="370.8" y="535.2" width="24.0" height="4.5" rx="2.2" fill="#000" opacity="0.12"/>
<rect x="404.8" y="535.2" width="24.0" height="4.5" rx="2.2" fill="#000" opacity="0.35"/>
<rect x="439.5" y="535.2" width="24.0" height="4.5" rx="2.2" fill="#000" opacity="0.20"/>
</g>
<g filter="url(#blur2)">
<rect x="63.5" y="552.0" width="24.0" height="6.0" rx="3.0" fill="#000" opacity="0.30"/>
<rect x="96.9" y="552.0" width="24.0" height="6.0" rx="3.0" fill="#000" opacity="0.50"/>
<rect x="132.1" y="552.0" width="24.0" height="6.0" rx="3.0" fill="#000" opacity="0.22"/>
<rect x="166.0" y="552.0" width="24.0" height="6.0" rx="3.0" fill="#000" opacity="0.18"/>
<rect x="199.3" y="552.0" width="24.0" height="6.0" rx="3.0" fill="#000" opacity="0.40"/>
<rect x="234.5" y="552.0" width="24.0" height="6.0" rx="3.0" fill="#000" opacity="0.35"/>
<rect x="267.2" y="552.0" width="24.0" height="6.0" rx="3.0" fill="#000" opacity="0.45"/>
<rect x="301.9" y="552.0" width="24.0" height="6.0" rx="3.0" fill="#000" opacity="0.40"/>
<rect x="337.1" y="552.0" width="24.0" height="6.0" rx="3.0" fill="#000" opacity="0.18"/>
<rect x="370.8" y="552.0" width="24.0" height="6.0" rx="3.0" fill="#000" opacity="0.30"/>
<rect x="404.8" y="552.0" width="24.0" height="6.0" rx="3.0" fill="#000" opacity="0.50"/>
<rect x="439.5" y="552.0" width="24.0" height="6.0" rx="3.0" fill="#000" opacity="0.35"/>
</g>
<g filter="url(#blur1.8)">
<rect x="63.5" y="563.5" width="24.0" height="4.0" rx="2.0" fill="#000" opacity="0.20"/>
<rect x="96.9" y="563.5" width="24.0" height="4.0" rx="2.0" fill="#000" opacity="0.42"/>
<rect x="132.1" y="563.5" width="24.0" height="4.0" rx="2.0" fill="#000" opacity="0.12"/>
<rect x="166.0" y="563.5" width="24.0" height="4.0" rx="2.0" fill="#000" opacity="0.08"/>
<rect x="199.3" y="563.5" width="24.0" height="4.0" rx="2.0" fill="#000" opacity="0.20"/>
<rect x="234.5" y="563.5" width="24.0" height="4.0" rx="2.0" fill="#000" opacity="0.15"/>
<rect x="267.2" y="563.5" width="24.0" height="4.0" rx="2.0" fill="#000" opacity="0.25"/>
<rect x="301.9" y="563.5" width="24.0" height="4.0" rx="2.0" fill="#000" opacity="0.20"/>
<rect x="337.1" y="563.5" width="24.0" height="4.0" rx="2.0" fill="#000" opacity="0.08"/>
<rect x="370.8" y="563.5" width="24.0" height="4.0" rx="2.0" fill="#000" opacity="0.20"/>
<rect x="404.8" y="563.5" width="24.0" height="4.0" rx="2.0" fill="#000" opacity="0.30"/>
<rect x="439.5" y="563.5" width="24.0" height="4.0" rx="2.0" fill="#000" opacity="0.30"/>
</g>
<g filter="url(#blur2.2)">
<rect x="63.5" y="580.0" width="24.0" height="6.0" rx="3.0" fill="#000" opacity="0.15"/>
<rect x="96.9" y="580.0" width="24.0" height="6.0" rx="3.0" fill="#000" opacity="0.45"/>
<rect x="132.1" y="580.0" width="24.0" height="6.0" rx="3.0" fill="#000" opacity="0.10"/>
<rect x="166.0" y="580.0" width="24.0" height="6.0" rx="3.0" fill="#000" opacity="0.08"/>
<rect x="199.3" y="580.0" width="24.0" height="6.0" rx="3.0" fill="#000" opacity="0.12"/>
<rect x="234.5" y="580.0" width="24.0" height="6.0" rx="3.0" fill="#000" opacity="0.10"/>
<rect x="267.2" y="580.0" width="24.0" height="6.0" rx="3.0" fill="#000" opacity="0.42"/>
<rect x="301.9" y="580.0" width="24.0" height="6.0" rx="3.0" fill="#000" opacity="0.08"/>
<rect x="337.1" y="580.0" width="24.0" height="6.0" rx="3.0" fill="#000" opacity="0.05"/>
<rect x="370.8" y="580.0" width="24.0" height="6.0" rx="3.0" fill="#000" opacity="0.22"/>
<rect x="404.8" y="580.0" width="24.0" height="6.0" rx="3.0" fill="#000" opacity="0.18"/>
<rect x="439.5" y="580.0" width="24.0" height="6.0" rx="3.0" fill="#000" opacity="0.32"/>
</g>
<g filter="url(#blur1.5)">
<rect x="61.0" y="588.5" width="29.0" height="7.0" rx="3.5" fill="#000" opacity="1.00"/>
<rect x="94.9" y="586.5" width="28.0" height="11.0" rx="5.5" fill="#000" opacity="1.00"/>
<rect x="129.1" y="589.0" width="30.0" height="6.0" rx="3.0" fill="#000" opacity="0.97"/>
<rect x="166.0" y="589.5" width="24.0" height="5.0" rx="2.5" fill="#000" opacity="0.93"/>
<rect x="197.8" y="589.5" width="27.0" height="5.0" rx="2.5" fill="#000" opacity="0.90"/>
<rect x="233.0" y="588.5" width="27.0" height="7.0" rx="3.5" fill="#000" opacity="1.00"/>
<rect x="266.2" y="587.8" width="26.0" height="8.5" rx="4.2" fill="#000" opacity="1.00"/>
<rect x="298.9" y="588.5" width="30.0" height="7.0" rx="3.5" fill="#000" opacity="1.00"/>
<rect x="337.6" y="589.8" width="23.0" height="4.5" rx="2.2" fill="#000" opacity="0.88"/>
<rect x="369.8" y="589.6" width="26.0" height="4.8" rx="2.4" fill="#000" opacity="0.88"/>
<rect x="403.8" y="589.0" width="26.0" height="6.0" rx="3.0" fill="#000" opacity="0.97"/>
<rect x="438.5" y="589.0" width="26.0" height="6.0" rx="3.0" fill="#000" opacity="0.97"/>
</g>
<g filter="url(#blur1.5)">
<rect x="63.5" y="639.5" width="24.0" height="4.0" rx="2.0" fill="#000" opacity="0.05"/>
<rect x="96.9" y="639.5" width="24.0" height="4.0" rx="2.0" fill="#000" opacity="0.25"/>
<rect x="131.1" y="639.0" width="26.0" height="5.0" rx="2.5" fill="#000" opacity="0.85"/>
<rect x="165.5" y="638.2" width="25.0" height="6.5" rx="3.2" fill="#000" opacity="1.00"/>
<rect x="199.3" y="639.2" width="24.0" height="4.5" rx="2.2" fill="#000" opacity="0.30"/>
<rect x="234.5" y="639.2" width="24.0" height="4.5" rx="2.2" fill="#000" opacity="0.25"/>
<rect x="267.2" y="639.5" width="24.0" height="4.0" rx="2.0" fill="#000" opacity="0.08"/>
<rect x="301.9" y="639.5" width="24.0" height="4.0" rx="2.0" fill="#000" opacity="0.15"/>
<rect x="336.1" y="638.2" width="26.0" height="6.5" rx="3.2" fill="#000" opacity="1.00"/>
<rect x="369.8" y="638.8" width="26.0" height="5.5" rx="2.8" fill="#000" opacity="0.80"/>
<rect x="404.8" y="639.5" width="24.0" height="4.0" rx="2.0" fill="#000" opacity="0.03"/>
<rect x="439.5" y="639.5" width="24.0" height="4.0" rx="2.0" fill="#000" opacity="0.02"/>
</g>
<g filter="url(#blur2)">
<rect x="63.5" y="649.2" width="24.0" height="4.5" rx="2.2" fill="#000" opacity="0.12"/>
<rect x="96.9" y="649.2" width="24.0" height="4.5" rx="2.2" fill="#000" opacity="0.30"/>
<rect x="132.1" y="649.2" width="24.0" height="4.5" rx="2.2" fill="#000" opacity="0.05"/>
<rect x="166.0" y="649.2" width="24.0" height="4.5" rx="2.2" fill="#000" opacity="0.03"/>
<rect x="199.3" y="649.2" width="24.0" height="4.5" rx="2.2" fill="#000" opacity="0.20"/>
<rect x="234.5" y="649.2" width="24.0" height="4.5" rx="2.2" fill="#000" opacity="0.18"/>
<rect x="267.2" y="649.2" width="24.0" height="4.5" rx="2.2" fill="#000" opacity="0.22"/>
<rect x="301.9" y="649.2" width="24.0" height="4.5" rx="2.2" fill="#000" opacity="0.18"/>
<rect x="337.1" y="649.2" width="24.0" height="4.5" rx="2.2" fill="#000" opacity="0.03"/>
<rect x="370.8" y="649.2" width="24.0" height="4.5" rx="2.2" fill="#000" opacity="0.03"/>
<rect x="404.8" y="649.2" width="24.0" height="4.5" rx="2.2" fill="#000" opacity="0.12"/>
<rect x="439.5" y="649.2" width="24.0" height="4.5" rx="2.2" fill="#000" opacity="0.08"/>
</g>
<g filter="url(#blur2.5)">
<rect x="63.5" y="663.5" width="24.0" height="7.0" rx="3.5" fill="#000" opacity="0.08"/>
<rect x="96.9" y="663.5" width="24.0" height="7.0" rx="3.5" fill="#000" opacity="0.25"/>
<rect x="132.1" y="663.5" width="24.0" height="7.0" rx="3.5" fill="#000" opacity="0.05"/>
<rect x="166.0" y="663.5" width="24.0" height="7.0" rx="3.5" fill="#000" opacity="0.05"/>
<rect x="199.3" y="663.5" width="24.0" height="7.0" rx="3.5" fill="#000" opacity="0.12"/>
<rect x="234.5" y="663.5" width="24.0" height="7.0" rx="3.5" fill="#000" opacity="0.10"/>
<rect x="267.2" y="663.5" width="24.0" height="7.0" rx="3.5" fill="#000" opacity="0.15"/>
<rect x="301.9" y="663.5" width="24.0" height="7.0" rx="3.5" fill="#000" opacity="0.10"/>
<rect x="337.1" y="663.5" width="24.0" height="7.0" rx="3.5" fill="#000" opacity="0.05"/>
<rect x="370.8" y="663.5" width="24.0" height="7.0" rx="3.5" fill="#000" opacity="0.05"/>
<rect x="404.8" y="663.5" width="24.0" height="7.0" rx="3.5" fill="#000" opacity="0.06"/>
<rect x="439.5" y="663.5" width="24.0" height="7.0" rx="3.5" fill="#000" opacity="0.04"/>
</g>
<g filter="url(#blur1.6)">
<rect x="58.0" y="688.5" width="35.0" height="12.0" rx="6.0" fill="#000" opacity="1.00"/>
<rect x="93.4" y="686.0" width="31.0" height="17.0" rx="8.5" fill="#000" opacity="1.00"/>
<rect x="125.6" y="688.5" width="37.0" height="12.0" rx="6.0" fill="#000" opacity="1.00"/>
<rect x="163.5" y="688.0" width="29.0" height="13.0" rx="6.5" fill="#000" opacity="1.00"/>
<rect x="193.8" y="688.0" width="35.0" height="13.0" rx="6.5" fill="#000" opacity="1.00"/>
<rect x="230.5" y="687.5" width="32.0" height="14.0" rx="7.0" fill="#000" opacity="1.00"/>
<rect x="264.2" y="687.0" width="30.0" height="15.0" rx="7.5" fill="#000" opacity="1.00"/>
<rect x="296.9" y="688.0" width="34.0" height="13.0" rx="6.5" fill="#000" opacity="1.00"/>
<rect x="334.6" y="688.0" width="29.0" height="13.0" rx="6.5" fill="#000" opacity="1.00"/>
<rect x="365.3" y="687.5" width="35.0" height="14.0" rx="7.0" fill="#000" opacity="1.00"/>
<rect x="401.3" y="688.0" width="31.0" height="13.0" rx="6.5" fill="#000" opacity="1.00"/>
<rect x="435.0" y="689.0" width="33.0" height="11.0" rx="5.5" fill="#000" opacity="1.00"/>
</g>
</g>
<rect x="52.0" y="498.5" width="421.5" height="208.5" fill="none" stroke="#000" stroke-width="1.5"/>
<text x="0.5" y="556.5" font-size="15">70kDa</text>
<line x1="41.0" y1="557.3" x2="58.5" y2="557.3" stroke="#000" stroke-width="1.8"/>
<text x="43.5" y="629.0" font-size="21.5" text-anchor="middle" transform="rotate(-90 43.5 629.0)">SDMA</text>
<line x1="564.0" y1="89.2" x2="564.0" y2="246.9" stroke="#000" stroke-width="2"/>
<line x1="563.0" y1="245.9" x2="726.2" y2="245.9" stroke="#000" stroke-width="2"/>
<line x1="564.0" y1="245.9" x2="564.0" y2="252.9" stroke="#000" stroke-width="2"/>
<line x1="596.2" y1="245.9" x2="596.2" y2="252.9" stroke="#000" stroke-width="2"/>
<line x1="628.5" y1="245.9" x2="628.5" y2="252.9" stroke="#000" stroke-width="2"/>
<line x1="660.7" y1="245.9" x2="660.7" y2="252.9" stroke="#000" stroke-width="2"/>
<line x1="693.0" y1="245.9" x2="693.0" y2="252.9" stroke="#000" stroke-width="2"/>
<line x1="725.2" y1="245.9" x2="725.2" y2="252.9" stroke="#000" stroke-width="2"/>
<line x1="556.0" y1="245.9" x2="564.0" y2="245.9" stroke="#000" stroke-width="2"/>
<text x="554.0" y="249.9" font-size="11.3" text-anchor="end" letter-spacing="1">0.0</text>
<line x1="556.0" y1="194.0" x2="564.0" y2="194.0" stroke="#000" stroke-width="2"/>
<text x="554.0" y="198.0" font-size="11.3" text-anchor="end" letter-spacing="1">0.5</text>
<line x1="556.0" y1="142.1" x2="564.0" y2="142.1" stroke="#000" stroke-width="2"/>
<text x="554.0" y="146.1" font-size="11.3" text-anchor="end" letter-spacing="1">1.0</text>
<line x1="556.0" y1="90.2" x2="564.0" y2="90.2" stroke="#000" stroke-width="2"/>
<text x="554.0" y="94.2" font-size="11.3" text-anchor="end" letter-spacing="1">1.5</text>
<text x="564.7" y="268.8" font-size="11.3" text-anchor="middle" letter-spacing="1.4">0</text>
<text x="596.9" y="268.8" font-size="11.3" text-anchor="middle" letter-spacing="1.4">4</text>
<text x="629.2" y="268.8" font-size="11.3" text-anchor="middle" letter-spacing="1.4">8</text>
<text x="661.4" y="268.8" font-size="11.3" text-anchor="middle" letter-spacing="1.4">12</text>
<text x="693.7" y="268.8" font-size="11.3" text-anchor="middle" letter-spacing="1.4">16</text>
<text x="725.9" y="268.8" font-size="11.3" text-anchor="middle" letter-spacing="1.4">20</text>
<text x="551.0" y="267.8" font-size="14.5" text-anchor="end">ZT</text>
<text x="526.0" y="166.0" font-size="17.3" text-anchor="middle" transform="rotate(-90 526.0 166.0)">Relative amount of MMA</text>
<text x="571.4" y="239.0" font-size="15">JTK,<tspan font-style="italic">P</tspan>=0.07</text>
<line x1="564.0" y1="148.9" x2="564.0" y2="169.9" stroke="#ff0000" stroke-width="1.3"/>
<line x1="560.8" y1="148.9" x2="567.2" y2="148.9" stroke="#ff0000" stroke-width="1.3"/>
<line x1="560.8" y1="169.9" x2="567.2" y2="169.9" stroke="#ff0000" stroke-width="1.3"/>
<line x1="596.2" y1="147.0" x2="596.2" y2="166.2" stroke="#ff0000" stroke-width="1.3"/>
<line x1="593.0" y1="147.0" x2="599.5" y2="147.0" stroke="#ff0000" stroke-width="1.3"/>
<line x1="593.0" y1="166.2" x2="599.5" y2="166.2" stroke="#ff0000" stroke-width="1.3"/>
<line x1="660.7" y1="184.5" x2="660.7" y2="205.1" stroke="#ff0000" stroke-width="1.3"/>
<line x1="657.5" y1="184.5" x2="664.0" y2="184.5" stroke="#ff0000" stroke-width="1.3"/>
<line x1="657.5" y1="205.1" x2="664.0" y2="205.1" stroke="#ff0000" stroke-width="1.3"/>
<line x1="693.0" y1="147.6" x2="693.0" y2="174.9" stroke="#ff0000" stroke-width="1.3"/>
<line x1="689.7" y1="147.6" x2="696.2" y2="147.6" stroke="#ff0000" stroke-width="1.3"/>
<line x1="689.7" y1="174.9" x2="696.2" y2="174.9" stroke="#ff0000" stroke-width="1.3"/>
<line x1="725.2" y1="165.1" x2="725.2" y2="186.6" stroke="#ff0000" stroke-width="1.3"/>
<line x1="722.0" y1="165.1" x2="728.5" y2="165.1" stroke="#ff0000" stroke-width="1.3"/>
<line x1="722.0" y1="186.6" x2="728.5" y2="186.6" stroke="#ff0000" stroke-width="1.3"/>
<polyline points="564.0,159.5 596.2,157.0 628.5,203.6 660.7,195.3 693.0,161.6 725.2,175.9" fill="none" stroke="#ff0000" stroke-width="1.6"/>
<circle cx="564.0" cy="159.5" r="3.4" fill="#fff" stroke="#000" stroke-width="2.2"/>
<circle cx="596.2" cy="157.0" r="3.4" fill="#fff" stroke="#000" stroke-width="2.2"/>
<circle cx="628.5" cy="203.6" r="3.4" fill="#fff" stroke="#000" stroke-width="2.2"/>
<circle cx="660.7" cy="195.3" r="3.4" fill="#fff" stroke="#000" stroke-width="2.2"/>
<circle cx="693.0" cy="161.6" r="3.4" fill="#fff" stroke="#000" stroke-width="2.2"/>
<circle cx="725.2" cy="175.9" r="3.4" fill="#fff" stroke="#000" stroke-width="2.2"/>
<line x1="562.7" y1="303.6" x2="562.7" y2="463.1" stroke="#000" stroke-width="2"/>
<line x1="561.7" y1="462.1" x2="721.5" y2="462.1" stroke="#000" stroke-width="2"/>
<line x1="562.7" y1="462.1" x2="562.7" y2="469.1" stroke="#000" stroke-width="2"/>
<line x1="594.3" y1="462.1" x2="594.3" y2="469.1" stroke="#000" stroke-width="2"/>
<line x1="625.8" y1="462.1" x2="625.8" y2="469.1" stroke="#000" stroke-width="2"/>
<line x1="657.4" y1="462.1" x2="657.4" y2="469.1" stroke="#000" stroke-width="2"/>
<line x1="688.9" y1="462.1" x2="688.9" y2="469.1" stroke="#000" stroke-width="2"/>
<line x1="720.5" y1="462.1" x2="720.5" y2="469.1" stroke="#000" stroke-width="2"/>
<line x1="554.7" y1="462.1" x2="562.7" y2="462.1" stroke="#000" stroke-width="2"/>
<text x="554.2" y="467.3" font-size="14.4" text-anchor="end">0.0</text>
<line x1="554.7" y1="409.6" x2="562.7" y2="409.6" stroke="#000" stroke-width="2"/>
<text x="554.2" y="414.8" font-size="14.4" text-anchor="end">0.5</text>
<line x1="554.7" y1="357.1" x2="562.7" y2="357.1" stroke="#000" stroke-width="2"/>
<text x="554.2" y="362.3" font-size="14.4" text-anchor="end">1.0</text>
<line x1="554.7" y1="304.6" x2="562.7" y2="304.6" stroke="#000" stroke-width="2"/>
<text x="554.2" y="309.8" font-size="14.4" text-anchor="end">1.5</text>
<text x="562.7" y="484.5" font-size="15.6" text-anchor="middle">0</text>
<text x="594.3" y="484.5" font-size="15.6" text-anchor="middle">4</text>
<text x="625.8" y="484.5" font-size="15.6" text-anchor="middle">8</text>
<text x="657.4" y="484.5" font-size="15.6" text-anchor="middle">12</text>
<text x="688.9" y="484.5" font-size="15.6" text-anchor="middle">16</text>
<text x="720.5" y="484.5" font-size="15.6" text-anchor="middle">20</text>
<text x="552.7" y="484.5" font-size="15" text-anchor="end">ZT</text>
<text x="524.5" y="381.2" font-size="17.3" text-anchor="middle" transform="rotate(-90 524.5 381.2)">Relative amount of ADMA</text>
<text x="569.2" y="454.8" font-size="14.8">JTK,<tspan font-style="italic">P</tspan>=0.0056</text>
<line x1="562.7" y1="364.7" x2="562.7" y2="383.8" stroke="#ff0000" stroke-width="1.3"/>
<line x1="559.5" y1="364.7" x2="566.0" y2="364.7" stroke="#ff0000" stroke-width="1.3"/>
<line x1="559.5" y1="383.8" x2="566.0" y2="383.8" stroke="#ff0000" stroke-width="1.3"/>
<line x1="594.3" y1="368.7" x2="594.3" y2="387.8" stroke="#ff0000" stroke-width="1.3"/>
<line x1="591.0" y1="368.7" x2="597.5" y2="368.7" stroke="#ff0000" stroke-width="1.3"/>
<line x1="591.0" y1="387.8" x2="597.5" y2="387.8" stroke="#ff0000" stroke-width="1.3"/>
<line x1="625.8" y1="403.8" x2="625.8" y2="412.4" stroke="#ff0000" stroke-width="1.3"/>
<line x1="622.6" y1="403.8" x2="629.1" y2="403.8" stroke="#ff0000" stroke-width="1.3"/>
<line x1="622.6" y1="412.4" x2="629.1" y2="412.4" stroke="#ff0000" stroke-width="1.3"/>
<line x1="657.4" y1="393.8" x2="657.4" y2="408.9" stroke="#ff0000" stroke-width="1.3"/>
<line x1="654.1" y1="393.8" x2="660.6" y2="393.8" stroke="#ff0000" stroke-width="1.3"/>
<line x1="654.1" y1="408.9" x2="660.6" y2="408.9" stroke="#ff0000" stroke-width="1.3"/>
<line x1="688.9" y1="362.3" x2="688.9" y2="376.9" stroke="#ff0000" stroke-width="1.3"/>
<line x1="685.7" y1="362.3" x2="692.2" y2="362.3" stroke="#ff0000" stroke-width="1.3"/>
<line x1="685.7" y1="376.9" x2="692.2" y2="376.9" stroke="#ff0000" stroke-width="1.3"/>
<line x1="720.5" y1="368.8" x2="720.5" y2="382.3" stroke="#ff0000" stroke-width="1.3"/>
<line x1="717.2" y1="368.8" x2="723.8" y2="368.8" stroke="#ff0000" stroke-width="1.3"/>
<line x1="717.2" y1="382.3" x2="723.8" y2="382.3" stroke="#ff0000" stroke-width="1.3"/>
<polyline points="562.7,374.3 594.3,378.3 625.8,408.0 657.4,401.3 688.9,369.6 720.5,375.6" fill="none" stroke="#ff0000" stroke-width="1.6"/>
<circle cx="562.7" cy="374.3" r="3.4" fill="#fff" stroke="#000" stroke-width="2.2"/>
<circle cx="594.3" cy="378.3" r="3.4" fill="#fff" stroke="#000" stroke-width="2.2"/>
<circle cx="625.8" cy="408.0" r="3.4" fill="#fff" stroke="#000" stroke-width="2.2"/>
<circle cx="657.4" cy="401.3" r="3.4" fill="#fff" stroke="#000" stroke-width="2.2"/>
<circle cx="688.9" cy="369.6" r="3.4" fill="#fff" stroke="#000" stroke-width="2.2"/>
<circle cx="720.5" cy="375.6" r="3.4" fill="#fff" stroke="#000" stroke-width="2.2"/>
<line x1="562.8" y1="537.8" x2="562.8" y2="692.7" stroke="#000" stroke-width="2"/>
<line x1="561.8" y1="691.7" x2="721.7" y2="691.7" stroke="#000" stroke-width="2"/>
<line x1="562.8" y1="691.7" x2="562.8" y2="698.7" stroke="#000" stroke-width="2"/>
<line x1="594.4" y1="691.7" x2="594.4" y2="698.7" stroke="#000" stroke-width="2"/>
<line x1="626.0" y1="691.7" x2="626.0" y2="698.7" stroke="#000" stroke-width="2"/>
<line x1="657.5" y1="691.7" x2="657.5" y2="698.7" stroke="#000" stroke-width="2"/>
<line x1="689.1" y1="691.7" x2="689.1" y2="698.7" stroke="#000" stroke-width="2"/>
<line x1="720.7" y1="691.7" x2="720.7" y2="698.7" stroke="#000" stroke-width="2"/>
<line x1="554.8" y1="691.7" x2="562.8" y2="691.7" stroke="#000" stroke-width="2"/>
<text x="554.3" y="696.9" font-size="14.4" text-anchor="end">0.0</text>
<line x1="554.8" y1="640.7" x2="562.8" y2="640.7" stroke="#000" stroke-width="2"/>
<text x="554.3" y="645.9" font-size="14.4" text-anchor="end">0.5</text>
<line x1="554.8" y1="589.8" x2="562.8" y2="589.8" stroke="#000" stroke-width="2"/>
<text x="554.3" y="595.0" font-size="14.4" text-anchor="end">1.0</text>
<line x1="554.8" y1="538.8" x2="562.8" y2="538.8" stroke="#000" stroke-width="2"/>
<text x="554.3" y="544.0" font-size="14.4" text-anchor="end">1.5</text>
<text x="562.8" y="713.0" font-size="15.6" text-anchor="middle">0</text>
<text x="594.4" y="713.0" font-size="15.6" text-anchor="middle">4</text>
<text x="626.0" y="713.0" font-size="15.6" text-anchor="middle">8</text>
<text x="657.5" y="713.0" font-size="15.6" text-anchor="middle">12</text>
<text x="689.1" y="713.0" font-size="15.6" text-anchor="middle">16</text>
<text x="720.7" y="713.0" font-size="15.6" text-anchor="middle">20</text>
<text x="552.8" y="713.0" font-size="15" text-anchor="end">ZT</text>
<text x="525.0" y="614.2" font-size="17.0" text-anchor="middle" transform="rotate(-90 525.0 614.2)">Relative amount of SDMA</text>
<text x="570.0" y="683.0" font-size="14.8">JTK,<tspan font-style="italic">P</tspan>=0.17</text>
<line x1="562.8" y1="590.7" x2="562.8" y2="597.0" stroke="#ff0000" stroke-width="1.3"/>
<line x1="559.5" y1="590.7" x2="566.0" y2="590.7" stroke="#ff0000" stroke-width="1.3"/>
<line x1="559.5" y1="597.0" x2="566.0" y2="597.0" stroke="#ff0000" stroke-width="1.3"/>
<line x1="594.4" y1="597.4" x2="594.4" y2="604.7" stroke="#ff0000" stroke-width="1.3"/>
<line x1="591.1" y1="597.4" x2="597.6" y2="597.4" stroke="#ff0000" stroke-width="1.3"/>
<line x1="591.1" y1="604.7" x2="597.6" y2="604.7" stroke="#ff0000" stroke-width="1.3"/>
<line x1="626.0" y1="600.7" x2="626.0" y2="612.0" stroke="#ff0000" stroke-width="1.3"/>
<line x1="622.7" y1="600.7" x2="629.2" y2="600.7" stroke="#ff0000" stroke-width="1.3"/>
<line x1="622.7" y1="612.0" x2="629.2" y2="612.0" stroke="#ff0000" stroke-width="1.3"/>
<line x1="657.5" y1="606.5" x2="657.5" y2="619.3" stroke="#ff0000" stroke-width="1.3"/>
<line x1="654.3" y1="606.5" x2="660.8" y2="606.5" stroke="#ff0000" stroke-width="1.3"/>
<line x1="654.3" y1="619.3" x2="660.8" y2="619.3" stroke="#ff0000" stroke-width="1.3"/>
<line x1="689.1" y1="599.8" x2="689.1" y2="609.8" stroke="#ff0000" stroke-width="1.3"/>
<line x1="685.9" y1="599.8" x2="692.4" y2="599.8" stroke="#ff0000" stroke-width="1.3"/>
<line x1="685.9" y1="609.8" x2="692.4" y2="609.8" stroke="#ff0000" stroke-width="1.3"/>
<line x1="720.7" y1="608.0" x2="720.7" y2="620.2" stroke="#ff0000" stroke-width="1.3"/>
<line x1="717.5" y1="608.0" x2="724.0" y2="608.0" stroke="#ff0000" stroke-width="1.3"/>
<line x1="717.5" y1="620.2" x2="724.0" y2="620.2" stroke="#ff0000" stroke-width="1.3"/>
<polyline points="562.8,593.8 594.4,601.0 626.0,606.7 657.5,612.9 689.1,604.9 720.7,614.0" fill="none" stroke="#ff0000" stroke-width="1.6"/>
<circle cx="562.8" cy="593.8" r="3.4" fill="#fff" stroke="#000" stroke-width="2.2"/>
<circle cx="594.4" cy="601.0" r="3.4" fill="#fff" stroke="#000" stroke-width="2.2"/>
<circle cx="626.0" cy="606.7" r="3.4" fill="#fff" stroke="#000" stroke-width="2.2"/>
<circle cx="657.5" cy="612.9" r="3.4" fill="#fff" stroke="#000" stroke-width="2.2"/>
<circle cx="689.1" cy="604.9" r="3.4" fill="#fff" stroke="#000" stroke-width="2.2"/>
<circle cx="720.7" cy="614.0" r="3.4" fill="#fff" stroke="#000" stroke-width="2.2"/>
<text x="768.0" y="19.0" font-size="26.5" font-weight="bold">b</text>
<text x="854.4" y="47.8" font-size="19" text-anchor="middle">AL</text>
<line x1="822.5" y1="52.8" x2="891.7" y2="52.8" stroke="#000" stroke-width="1.6"/>
<text x="947.5" y="47.8" font-size="19" text-anchor="middle">F-36</text>
<line x1="913.0" y1="52.8" x2="982.2" y2="52.8" stroke="#000" stroke-width="1.6"/>
<text x="1040.6" y="47.8" font-size="19" text-anchor="middle">Refed</text>
<line x1="1003.3" y1="52.8" x2="1072.5" y2="52.8" stroke="#000" stroke-width="1.6"/>
<clipPath id="cp4"><rect x="808" y="57" width="280.9000000000001" height="226.7"/></clipPath>
<linearGradient id="bg4" x1="0" y1="0" x2="0" y2="1"><stop offset="0" stop-color="#f5f5f5"/><stop offset="1" stop-color="#fbfbfb"/></linearGradient>
<rect x="808.0" y="57.0" width="280.9" height="226.7" fill="url(#bg4)"/>
<g clip-path="url(#cp4)">
<g filter="url(#blur3)">
<rect x="810.5" y="124.5" width="29.0" height="15.0" rx="4" fill="#000" opacity="0.16"/>
<rect x="840.7" y="124.5" width="29.0" height="15.0" rx="4" fill="#000" opacity="0.16"/>
<rect x="872.9" y="125.0" width="27.0" height="14.0" rx="4" fill="#000" opacity="0.16"/>
<rect x="903.6" y="126.0" width="26.0" height="13.0" rx="4" fill="#000" opacity="0.16"/>
<rect x="935.5" y="125.8" width="24.0" height="12.5" rx="4" fill="#000" opacity="0.15"/>
<rect x="965.4" y="127.0" width="26.0" height="13.0" rx="4" fill="#000" opacity="0.16"/>
<rect x="994.1" y="124.2" width="30.0" height="15.5" rx="4" fill="#000" opacity="0.16"/>
<rect x="1025.5" y="124.8" width="29.0" height="14.5" rx="4" fill="#000" opacity="0.16"/>
<rect x="1057.0" y="124.5" width="30.0" height="14.0" rx="4" fill="#000" opacity="0.16"/>
</g>
<g filter="url(#blur1.3)">
<rect x="814.5" y="89.4" width="21.0" height="2.4" rx="1.2" fill="#000" opacity="0.28"/>
<rect x="844.7" y="89.4" width="21.0" height="2.4" rx="1.2" fill="#000" opacity="0.24"/>
<rect x="875.9" y="89.4" width="21.0" height="2.4" rx="1.2" fill="#000" opacity="0.24"/>
<rect x="906.1" y="89.4" width="21.0" height="2.4" rx="1.2" fill="#000" opacity="0.06"/>
<rect x="937.0" y="89.4" width="21.0" height="2.4" rx="1.2" fill="#000" opacity="0.05"/>
<rect x="967.9" y="89.4" width="21.0" height="2.4" rx="1.2" fill="#000" opacity="0.08"/>
<rect x="998.6" y="89.4" width="21.0" height="2.4" rx="1.2" fill="#000" opacity="0.20"/>
<rect x="1029.5" y="89.4" width="21.0" height="2.4" rx="1.2" fill="#000" opacity="0.20"/>
<rect x="1061.5" y="89.4" width="21.0" height="2.4" rx="1.2" fill="#000" opacity="0.14"/>
</g>
<g filter="url(#blur1.3)">
<rect x="811.5" y="128.0" width="27.0" height="7.0" rx="3.5" fill="#000" opacity="1.00"/>
<rect x="841.7" y="128.0" width="27.0" height="7.0" rx="3.5" fill="#000" opacity="1.00"/>
<rect x="873.9" y="128.5" width="25.0" height="6.0" rx="3.0" fill="#000" opacity="0.97"/>
<rect x="904.6" y="129.5" width="24.0" height="5.0" rx="2.5" fill="#000" opacity="0.97"/>
<rect x="936.5" y="129.2" width="22.0" height="4.5" rx="2.2" fill="#000" opacity="0.93"/>
<rect x="966.4" y="130.5" width="24.0" height="5.0" rx="2.5" fill="#000" opacity="0.97"/>
<rect x="995.1" y="127.8" width="28.0" height="7.5" rx="3.8" fill="#000" opacity="1.00"/>
<rect x="1026.5" y="128.2" width="27.0" height="6.5" rx="3.2" fill="#000" opacity="1.00"/>
<rect x="1058.0" y="128.0" width="28.0" height="6.0" rx="3.0" fill="#000" opacity="1.00"/>
</g>
<g filter="url(#blur2)">
<rect x="813.0" y="135.0" width="24.0" height="4.0" rx="2.0" fill="#000" opacity="0.30"/>
<rect x="843.2" y="135.0" width="24.0" height="4.0" rx="2.0" fill="#000" opacity="0.25"/>
<rect x="874.4" y="135.0" width="24.0" height="4.0" rx="2.0" fill="#000" opacity="0.20"/>
<rect x="997.1" y="135.0" width="24.0" height="4.0" rx="2.0" fill="#000" opacity="0.20"/>
<rect x="1028.0" y="135.0" width="24.0" height="4.0" rx="2.0" fill="#000" opacity="0.12"/>
<rect x="1060.0" y="135.0" width="24.0" height="4.0" rx="2.0" fill="#000" opacity="0.06"/>
</g>
<g filter="url(#blur1.6)">
<rect x="814.5" y="219.7" width="21.0" height="3.2" rx="1.6" fill="#000" opacity="0.28"/>
<rect x="844.7" y="219.7" width="21.0" height="3.2" rx="1.6" fill="#000" opacity="0.33"/>
<rect x="875.9" y="219.7" width="21.0" height="3.2" rx="1.6" fill="#000" opacity="0.08"/>
<rect x="906.1" y="219.7" width="21.0" height="3.2" rx="1.6" fill="#000" opacity="0.03"/>
<rect x="937.0" y="219.7" width="21.0" height="3.2" rx="1.6" fill="#000" opacity="0.02"/>
<rect x="967.9" y="219.7" width="21.0" height="3.2" rx="1.6" fill="#000" opacity="0.04"/>
<rect x="998.6" y="219.7" width="21.0" height="3.2" rx="1.6" fill="#000" opacity="0.07"/>
<rect x="1029.5" y="219.7" width="21.0" height="3.2" rx="1.6" fill="#000" opacity="0.03"/>
<rect x="1061.5" y="219.7" width="21.0" height="3.2" rx="1.6" fill="#000" opacity="0.09"/>
</g>
</g>
<rect x="808.0" y="57.0" width="280.9" height="226.7" fill="none" stroke="#000" stroke-width="2"/>
<text x="749.5" y="120.7" font-size="15">70kDa</text>
<line x1="793.3" y1="123.5" x2="811.0" y2="123.5" stroke="#000" stroke-width="2.2"/>
<text x="796.5" y="161.6" font-size="21.5" text-anchor="middle" transform="rotate(-90 796.5 161.6)">MMA</text>
<clipPath id="cp5"><rect x="808" y="294" width="280.9000000000001" height="226.70000000000005"/></clipPath>
<linearGradient id="bg5" x1="0" y1="0" x2="0" y2="1"><stop offset="0" stop-color="#e9e9e9"/><stop offset="1" stop-color="#fbfbfb"/></linearGradient>
<rect x="808.0" y="294.0" width="280.9" height="226.7" fill="url(#bg5)"/>
<g clip-path="url(#cp5)">
<g filter="url(#blur2)">
<linearGradient id="lp5_0" gradientUnits="userSpaceOnUse" x1="0" y1="292" x2="0" y2="360"><stop offset="0.000" stop-color="#000" stop-opacity="0.420"/><stop offset="0.162" stop-color="#000" stop-opacity="0.360"/><stop offset="0.294" stop-color="#000" stop-opacity="0.240"/><stop offset="0.559" stop-color="#000" stop-opacity="0.130"/><stop offset="0.824" stop-color="#000" stop-opacity="0.020"/><stop offset="1.000" stop-color="#000" stop-opacity="0.000"/></linearGradient>
<rect x="877.5" y="292" width="22.0" height="68" fill="url(#lp5_0)"/>
<linearGradient id="lp5_1" gradientUnits="userSpaceOnUse" x1="0" y1="292" x2="0" y2="360"><stop offset="0.000" stop-color="#000" stop-opacity="0.399"/><stop offset="0.162" stop-color="#000" stop-opacity="0.342"/><stop offset="0.294" stop-color="#000" stop-opacity="0.228"/><stop offset="0.559" stop-color="#000" stop-opacity="0.123"/><stop offset="0.824" stop-color="#000" stop-opacity="0.020"/><stop offset="1.000" stop-color="#000" stop-opacity="0.000"/></linearGradient>
<rect x="907.8" y="292" width="22.0" height="68" fill="url(#lp5_1)"/>
<linearGradient id="lp5_2" gradientUnits="userSpaceOnUse" x1="0" y1="292" x2="0" y2="360"><stop offset="0.000" stop-color="#000" stop-opacity="0.315"/><stop offset="0.162" stop-color="#000" stop-opacity="0.270"/><stop offset="0.294" stop-color="#000" stop-opacity="0.180"/><stop offset="0.559" stop-color="#000" stop-opacity="0.098"/><stop offset="0.824" stop-color="#000" stop-opacity="0.020"/><stop offset="1.000" stop-color="#000" stop-opacity="0.000"/></linearGradient>
<rect x="937.3" y="292" width="22.0" height="68" fill="url(#lp5_2)"/>
<linearGradient id="lp5_3" gradientUnits="userSpaceOnUse" x1="0" y1="292" x2="0" y2="360"><stop offset="0.000" stop-color="#000" stop-opacity="0.399"/><stop offset="0.162" stop-color="#000" stop-opacity="0.342"/><stop offset="0.294" stop-color="#000" stop-opacity="0.228"/><stop offset="0.559" stop-color="#000" stop-opacity="0.123"/><stop offset="0.824" stop-color="#000" stop-opacity="0.020"/><stop offset="1.000" stop-color="#000" stop-opacity="0.000"/></linearGradient>
<rect x="968.7" y="292" width="22.0" height="68" fill="url(#lp5_3)"/>
</g>
<g filter="url(#blur3)">
<rect x="815.5" y="296.0" width="22.0" height="134.0" fill="#000" opacity="0.06"/>
<rect x="846.9" y="296.0" width="22.0" height="134.0" fill="#000" opacity="0.06"/>
<rect x="998.7" y="296.0" width="22.0" height="134.0" fill="#000" opacity="0.05"/>
</g>
<g filter="url(#blur3)">
<rect x="814.5" y="296.6" width="24.0" height="13.4" rx="4" fill="#000" opacity="0.16"/>
<rect x="845.4" y="296.6" width="25.0" height="13.4" rx="4" fill="#000" opacity="0.16"/>
<rect x="876.5" y="296.6" width="24.0" height="13.4" rx="4" fill="#000" opacity="0.13"/>
<rect x="997.7" y="298.1" width="24.0" height="13.4" rx="4" fill="#000" opacity="0.16"/>
<rect x="1027.7" y="299.6" width="25.0" height="13.4" rx="4" fill="#000" opacity="0.16"/>
<rect x="1059.2" y="300.1" width="24.0" height="13.4" rx="4" fill="#000" opacity="0.16"/>
<rect x="814.5" y="304.7" width="24.0" height="10.8" rx="4" fill="#000" opacity="0.13"/>
<rect x="845.9" y="304.7" width="24.0" height="10.8" rx="4" fill="#000" opacity="0.14"/>
<rect x="997.7" y="306.7" width="24.0" height="10.8" rx="4" fill="#000" opacity="0.13"/>
<rect x="812.0" y="385.4" width="29.0" height="14.8" rx="4" fill="#000" opacity="0.16"/>
<rect x="844.4" y="386.1" width="27.0" height="14.5" rx="4" fill="#000" opacity="0.16"/>
<rect x="875.5" y="387.1" width="26.0" height="13.5" rx="4" fill="#000" opacity="0.16"/>
<rect x="995.7" y="386.8" width="28.0" height="15.0" rx="4" fill="#000" opacity="0.16"/>
<rect x="1025.7" y="387.3" width="29.0" height="15.0" rx="4" fill="#000" opacity="0.16"/>
<rect x="1057.2" y="387.8" width="28.0" height="15.0" rx="4" fill="#000" opacity="0.16"/>
</g>
<g filter="url(#blur1.3)">
<rect x="815.5" y="300.1" width="22.0" height="5.4" rx="2.7" fill="#000" opacity="1.00"/>
<rect x="846.4" y="300.1" width="23.0" height="5.4" rx="2.7" fill="#000" opacity="1.00"/>
<rect x="877.5" y="300.1" width="22.0" height="5.4" rx="2.7" fill="#000" opacity="0.80"/>
<rect x="908.3" y="300.1" width="21.0" height="5.4" rx="2.7" fill="#000" opacity="0.30"/>
<rect x="937.8" y="300.1" width="21.0" height="5.4" rx="2.7" fill="#000" opacity="0.20"/>
<rect x="969.2" y="300.1" width="21.0" height="5.4" rx="2.7" fill="#000" opacity="0.28"/>
<rect x="998.7" y="301.6" width="22.0" height="5.4" rx="2.7" fill="#000" opacity="1.00"/>
<rect x="1028.7" y="303.1" width="23.0" height="5.4" rx="2.7" fill="#000" opacity="0.97"/>
<rect x="1060.2" y="303.6" width="22.0" height="5.4" rx="2.7" fill="#000" opacity="0.97"/>
</g>
<g filter="url(#blur1.3)">
<rect x="815.5" y="308.2" width="22.0" height="2.8" rx="1.4" fill="#000" opacity="0.80"/>
<rect x="846.9" y="308.2" width="22.0" height="2.8" rx="1.4" fill="#000" opacity="0.90"/>
<rect x="877.5" y="308.2" width="22.0" height="2.8" rx="1.4" fill="#000" opacity="0.35"/>
<rect x="907.8" y="308.2" width="22.0" height="2.8" rx="1.4" fill="#000" opacity="0.10"/>
<rect x="937.3" y="308.2" width="22.0" height="2.8" rx="1.4" fill="#000" opacity="0.08"/>
<rect x="968.7" y="308.2" width="22.0" height="2.8" rx="1.4" fill="#000" opacity="0.10"/>
<rect x="998.7" y="310.2" width="22.0" height="2.8" rx="1.4" fill="#000" opacity="0.80"/>
<rect x="1029.2" y="311.7" width="22.0" height="2.8" rx="1.4" fill="#000" opacity="0.30"/>
<rect x="1060.2" y="312.2" width="22.0" height="2.8" rx="1.4" fill="#000" opacity="0.70"/>
</g>
<g filter="url(#blur1.6)">
<rect x="815.5" y="315.7" width="22.0" height="2.4" rx="1.2" fill="#000" opacity="0.30"/>
<rect x="846.9" y="315.7" width="22.0" height="2.4" rx="1.2" fill="#000" opacity="0.25"/>
<rect x="877.5" y="316.7" width="22.0" height="2.4" rx="1.2" fill="#000" opacity="0.25"/>
<rect x="907.8" y="316.7" width="22.0" height="2.4" rx="1.2" fill="#000" opacity="0.08"/>
<rect x="937.3" y="316.7" width="22.0" height="2.4" rx="1.2" fill="#000" opacity="0.06"/>
<rect x="968.7" y="316.7" width="22.0" height="2.4" rx="1.2" fill="#000" opacity="0.08"/>
<rect x="998.7" y="317.7" width="22.0" height="2.4" rx="1.2" fill="#000" opacity="0.40"/>
<rect x="1029.2" y="318.2" width="22.0" height="2.4" rx="1.2" fill="#000" opacity="0.10"/>
<rect x="1060.2" y="318.7" width="22.0" height="2.4" rx="1.2" fill="#000" opacity="0.18"/>
</g>
<g filter="url(#blur1.6)">
<rect x="815.5" y="323.9" width="22.0" height="2.4" rx="1.2" fill="#000" opacity="0.28"/>
<rect x="846.9" y="323.9" width="22.0" height="2.4" rx="1.2" fill="#000" opacity="0.30"/>
<rect x="877.5" y="324.9" width="22.0" height="2.4" rx="1.2" fill="#000" opacity="0.20"/>
<rect x="907.8" y="324.9" width="22.0" height="2.4" rx="1.2" fill="#000" opacity="0.06"/>
<rect x="937.3" y="324.9" width="22.0" height="2.4" rx="1.2" fill="#000" opacity="0.05"/>
<rect x="968.7" y="324.9" width="22.0" height="2.4" rx="1.2" fill="#000" opacity="0.05"/>
<rect x="998.7" y="325.9" width="22.0" height="2.4" rx="1.2" fill="#000" opacity="0.18"/>
<rect x="1029.2" y="326.4" width="22.0" height="2.4" rx="1.2" fill="#000" opacity="0.07"/>
<rect x="1060.2" y="326.9" width="22.0" height="2.4" rx="1.2" fill="#000" opacity="0.10"/>
</g>
<g filter="url(#blur1.6)">
<rect x="815.5" y="337.1" width="22.0" height="5.0" rx="2.5" fill="#000" opacity="0.50"/>
<rect x="846.9" y="337.1" width="22.0" height="5.0" rx="2.5" fill="#000" opacity="0.60"/>
<rect x="877.5" y="339.1" width="22.0" height="5.0" rx="2.5" fill="#000" opacity="0.12"/>
<rect x="907.8" y="339.1" width="22.0" height="5.0" rx="2.5" fill="#000" opacity="0.05"/>
<rect x="937.3" y="339.1" width="22.0" height="5.0" rx="2.5" fill="#000" opacity="0.02"/>
<rect x="968.7" y="339.1" width="22.0" height="5.0" rx="2.5" fill="#000" opacity="0.03"/>
<rect x="998.7" y="340.1" width="22.0" height="5.0" rx="2.5" fill="#000" opacity="0.55"/>
<rect x="1029.2" y="341.1" width="22.0" height="5.0" rx="2.5" fill="#000" opacity="0.25"/>
<rect x="1060.2" y="341.6" width="22.0" height="5.0" rx="2.5" fill="#000" opacity="0.40"/>
</g>
<g filter="url(#blur1.3)">
<rect x="816.0" y="368.1" width="21.0" height="2.6" rx="1.3" fill="#000" opacity="0.40"/>
<rect x="847.4" y="368.6" width="21.0" height="2.6" rx="1.3" fill="#000" opacity="0.45"/>
<rect x="878.0" y="369.6" width="21.0" height="2.6" rx="1.3" fill="#000" opacity="0.25"/>
<rect x="908.3" y="370.1" width="21.0" height="2.6" rx="1.3" fill="#000" opacity="0.06"/>
<rect x="937.8" y="370.1" width="21.0" height="2.6" rx="1.3" fill="#000" opacity="0.04"/>
<rect x="969.2" y="370.1" width="21.0" height="2.6" rx="1.3" fill="#000" opacity="0.08"/>
<rect x="999.2" y="370.6" width="21.0" height="2.6" rx="1.3" fill="#000" opacity="0.40"/>
<rect x="1029.7" y="371.1" width="21.0" height="2.6" rx="1.3" fill="#000" opacity="0.35"/>
<rect x="1060.7" y="371.6" width="21.0" height="2.6" rx="1.3" fill="#000" opacity="0.25"/>
</g>
<g filter="url(#blur1.3)">
<rect x="813.0" y="388.9" width="27.0" height="6.8" rx="3.4" fill="#000" opacity="1.00"/>
<rect x="845.4" y="389.6" width="25.0" height="6.5" rx="3.2" fill="#000" opacity="1.00"/>
<rect x="876.5" y="390.6" width="24.0" height="5.5" rx="2.8" fill="#000" opacity="0.97"/>
<rect x="908.8" y="391.3" width="20.0" height="4.0" rx="2.0" fill="#000" opacity="0.60"/>
<rect x="939.3" y="391.5" width="18.0" height="3.6" rx="1.8" fill="#000" opacity="0.45"/>
<rect x="969.7" y="391.3" width="20.0" height="4.0" rx="2.0" fill="#000" opacity="0.72"/>
<rect x="996.7" y="390.3" width="26.0" height="7.0" rx="3.5" fill="#000" opacity="1.00"/>
<rect x="1026.7" y="390.8" width="27.0" height="7.0" rx="3.5" fill="#000" opacity="1.00"/>
<rect x="1058.2" y="391.3" width="26.0" height="7.0" rx="3.5" fill="#000" opacity="1.00"/>
</g>
<g filter="url(#blur1.6)">
<rect x="816.0" y="409.1" width="21.0" height="3.5" rx="1.8" fill="#000" opacity="0.25"/>
<rect x="847.4" y="409.1" width="21.0" height="3.5" rx="1.8" fill="#000" opacity="0.30"/>
<rect x="878.0" y="409.1" width="21.0" height="3.5" rx="1.8" fill="#000" opacity="0.08"/>
<rect x="999.2" y="409.1" width="21.0" height="3.5" rx="1.8" fill="#000" opacity="0.10"/>
<rect x="1029.7" y="409.1" width="21.0" height="3.5" rx="1.8" fill="#000" opacity="0.06"/>
<rect x="1060.7" y="409.1" width="21.0" height="3.5" rx="1.8" fill="#000" opacity="0.05"/>
</g>
<g filter="url(#blur1.3)">
<rect x="816.0" y="421.3" width="21.0" height="2.8" rx="1.4" fill="#000" opacity="0.20"/>
<rect x="847.4" y="421.3" width="21.0" height="2.8" rx="1.4" fill="#000" opacity="0.35"/>
<rect x="878.0" y="421.3" width="21.0" height="2.8" rx="1.4" fill="#000" opacity="0.20"/>
<rect x="908.3" y="421.3" width="21.0" height="2.8" rx="1.4" fill="#000" opacity="0.04"/>
<rect x="937.8" y="421.3" width="21.0" height="2.8" rx="1.4" fill="#000" opacity="0.03"/>
<rect x="969.2" y="421.3" width="21.0" height="2.8" rx="1.4" fill="#000" opacity="0.03"/>
<rect x="999.2" y="421.3" width="21.0" height="2.8" rx="1.4" fill="#000" opacity="0.05"/>
<rect x="1029.7" y="421.3" width="21.0" height="2.8" rx="1.4" fill="#000" opacity="0.06"/>
<rect x="1060.7" y="421.3" width="21.0" height="2.8" rx="1.4" fill="#000" opacity="0.03"/>
</g>
<g filter="url(#blur1.3)">
<rect x="816.0" y="441.4" width="21.0" height="3.2" rx="1.6" fill="#000" opacity="0.45"/>
<rect x="847.4" y="442.4" width="21.0" height="3.2" rx="1.6" fill="#000" opacity="0.08"/>
<rect x="878.0" y="442.4" width="21.0" height="3.2" rx="1.6" fill="#000" opacity="0.05"/>
<rect x="999.2" y="443.9" width="21.0" height="3.2" rx="1.6" fill="#000" opacity="0.30"/>
<rect x="1029.7" y="444.4" width="21.0" height="3.2" rx="1.6" fill="#000" opacity="0.28"/>
<rect x="1060.7" y="444.9" width="21.0" height="3.2" rx="1.6" fill="#000" opacity="0.15"/>
</g>
<g filter="url(#blur2)">
<rect x="816.0" y="474.5" width="21.0" height="3.0" rx="1.5" fill="#000" opacity="0.05"/>
<rect x="847.4" y="474.5" width="21.0" height="3.0" rx="1.5" fill="#000" opacity="0.06"/>
<rect x="878.0" y="474.5" width="21.0" height="3.0" rx="1.5" fill="#000" opacity="0.07"/>
<rect x="999.2" y="474.5" width="21.0" height="3.0" rx="1.5" fill="#000" opacity="0.02"/>
<rect x="1029.7" y="474.5" width="21.0" height="3.0" rx="1.5" fill="#000" opacity="0.02"/>
</g>
</g>
<rect x="808.0" y="294.0" width="280.9" height="226.7" fill="none" stroke="#000" stroke-width="2"/>
<text x="749.0" y="357.0" font-size="15">70kDa</text>
<line x1="793.0" y1="359.8" x2="811.0" y2="359.8" stroke="#000" stroke-width="2.2"/>
<text x="796.4" y="406.3" font-size="21.5" text-anchor="middle" transform="rotate(-90 796.4 406.3)">ADMA</text>
<polyline points="1173.7,226.0 1173.7,116.8 1193.6,116.8 1193.6,226.0" fill="none" stroke="#000" stroke-width="2.15"/>
<polyline points="1207.0,226.0 1207.0,177.4 1226.8,177.4 1226.8,226.0" fill="none" stroke="#ff0000" stroke-width="2.15"/>
<polyline points="1240.0,226.0 1240.0,131.3 1259.6,131.3 1259.6,226.0" fill="none" stroke="#0000c8" stroke-width="2.15"/>
<line x1="1162.0" y1="60.7" x2="1162.0" y2="227.0" stroke="#000" stroke-width="2"/>
<line x1="1161.0" y1="226.0" x2="1272.2" y2="226.0" stroke="#000" stroke-width="2"/>
<line x1="1154.0" y1="226.0" x2="1162.0" y2="226.0" stroke="#000" stroke-width="2"/>
<text x="1152.0" y="231.2" font-size="14.5" text-anchor="end">0.0</text>
<line x1="1154.0" y1="171.3" x2="1162.0" y2="171.3" stroke="#000" stroke-width="2"/>
<text x="1152.0" y="176.5" font-size="14.5" text-anchor="end">0.5</text>
<line x1="1154.0" y1="116.5" x2="1162.0" y2="116.5" stroke="#000" stroke-width="2"/>
<text x="1152.0" y="121.7" font-size="14.5" text-anchor="end">1.0</text>
<line x1="1154.0" y1="61.7" x2="1162.0" y2="61.7" stroke="#000" stroke-width="2"/>
<text x="1152.0" y="66.9" font-size="14.5" text-anchor="end">1.5</text>
<line x1="1183.2" y1="226.0" x2="1183.2" y2="233.0" stroke="#000" stroke-width="2"/>
<text x="1188.4" y="247.0" font-size="15.7" text-anchor="end" transform="rotate(-45 1188.4 247.0)">AL</text>
<line x1="1216.0" y1="226.0" x2="1216.0" y2="233.0" stroke="#000" stroke-width="2"/>
<text x="1221.2" y="247.0" font-size="15.7" text-anchor="end" transform="rotate(-45 1221.2 247.0)">F-36</text>
<line x1="1249.2" y1="226.0" x2="1249.2" y2="233.0" stroke="#000" stroke-width="2"/>
<text x="1254.4" y="247.0" font-size="15.7" text-anchor="end" transform="rotate(-45 1254.4 247.0)">Refed</text>
<text x="1123.5" y="142.5" font-size="18.1" text-anchor="middle" transform="rotate(-90 1123.5 142.5)">Relative amount of MMA</text>
<line x1="1183.7" y1="109.0" x2="1183.7" y2="124.2" stroke="#000" stroke-width="1.3"/>
<line x1="1178.0" y1="109.0" x2="1189.5" y2="109.0" stroke="#000" stroke-width="1.3"/>
<line x1="1178.0" y1="124.2" x2="1189.5" y2="124.2" stroke="#000" stroke-width="1.3"/>
<line x1="1216.9" y1="171.0" x2="1216.9" y2="182.3" stroke="#ff0000" stroke-width="1.3"/>
<line x1="1211.2" y1="171.0" x2="1222.7" y2="171.0" stroke="#ff0000" stroke-width="1.3"/>
<line x1="1211.2" y1="182.3" x2="1222.7" y2="182.3" stroke="#ff0000" stroke-width="1.3"/>
<line x1="1249.8" y1="124.2" x2="1249.8" y2="136.4" stroke="#0000c8" stroke-width="1.3"/>
<line x1="1244.0" y1="124.2" x2="1255.5" y2="124.2" stroke="#0000c8" stroke-width="1.3"/>
<line x1="1244.0" y1="136.4" x2="1255.5" y2="136.4" stroke="#0000c8" stroke-width="1.3"/>
<circle cx="1184.1" cy="96.1" r="3.3" fill="#000"/>
<circle cx="1183.7" cy="105.5" r="3.3" fill="#000"/>
<circle cx="1183.7" cy="116.0" r="3.3" fill="#000"/>
<circle cx="1183.7" cy="126.5" r="3.3" fill="#000"/>
<circle cx="1183.7" cy="137.0" r="3.3" fill="#000"/>
<rect x="1213.1" y="153.0" width="6.6" height="6.6" fill="#ff0000"/>
<rect x="1205.7" y="163.7" width="6.6" height="6.6" fill="#ff0000"/>
<rect x="1213.1" y="168.4" width="6.6" height="6.6" fill="#ff0000"/>
<rect x="1205.7" y="188.7" width="6.6" height="6.6" fill="#ff0000"/>
<rect x="1213.1" y="184.1" width="6.6" height="6.6" fill="#ff0000"/>
<rect x="1220.9" y="184.1" width="6.6" height="6.6" fill="#ff0000"/>
<polygon points="1249.7,103.9 1246.1,110.4 1253.3,110.4" fill="#0000c8"/>
<polygon points="1249.7,113.3 1246.1,119.8 1253.3,119.8" fill="#0000c8"/>
<polygon points="1249.7,127.3 1246.1,133.8 1253.3,133.8" fill="#0000c8"/>
<polygon points="1242.2,134.3 1238.6,140.8 1245.8,140.8" fill="#0000c8"/>
<polygon points="1257.4,137.9 1253.8,144.4 1261.0,144.4" fill="#0000c8"/>
<polygon points="1249.7,148.4 1246.1,154.9 1253.3,154.9" fill="#0000c8"/>
<text x="1169.6" y="71.5" font-size="13.4"><tspan font-style="italic">P</tspan>=0.0001</text>
<polyline points="1183.7,85.6 1183.7,76.2 1218.3,76.2 1218.3,85.6" fill="none" stroke="#000" stroke-width="2"/>
<text x="1210.6" y="43.4" font-size="13.4"><tspan font-style="italic">P</tspan>=0.0004</text>
<polyline points="1218.3,57.0 1218.3,48.1 1252.7,48.1 1252.7,57.0" fill="none" stroke="#000" stroke-width="2"/>
<polyline points="1174.9,488.3 1174.9,378.6 1194.8,378.6 1194.8,488.3" fill="none" stroke="#000" stroke-width="2.15"/>
<polyline points="1207.6,488.3 1207.6,443.9 1227.4,443.9 1227.4,488.3" fill="none" stroke="#ff0000" stroke-width="2.15"/>
<polyline points="1240.4,488.3 1240.4,404.8 1260.4,404.8 1260.4,488.3" fill="none" stroke="#0000c8" stroke-width="2.15"/>
<line x1="1162.6" y1="322.5" x2="1162.6" y2="489.3" stroke="#000" stroke-width="2"/>
<line x1="1161.6" y1="488.3" x2="1272.6" y2="488.3" stroke="#000" stroke-width="2"/>
<line x1="1154.6" y1="488.3" x2="1162.6" y2="488.3" stroke="#000" stroke-width="2"/>
<text x="1152.6" y="493.5" font-size="14.5" text-anchor="end">0.0</text>
<line x1="1154.6" y1="433.4" x2="1162.6" y2="433.4" stroke="#000" stroke-width="2"/>
<text x="1152.6" y="438.6" font-size="14.5" text-anchor="end">0.5</text>
<line x1="1154.6" y1="378.4" x2="1162.6" y2="378.4" stroke="#000" stroke-width="2"/>
<text x="1152.6" y="383.6" font-size="14.5" text-anchor="end">1.0</text>
<line x1="1154.6" y1="323.5" x2="1162.6" y2="323.5" stroke="#000" stroke-width="2"/>
<text x="1152.6" y="328.7" font-size="14.5" text-anchor="end">1.5</text>
<line x1="1184.4" y1="488.3" x2="1184.4" y2="495.3" stroke="#000" stroke-width="2"/>
<text x="1189.6" y="509.3" font-size="15.7" text-anchor="end" transform="rotate(-45 1189.6 509.3)">AL</text>
<line x1="1217.1" y1="488.3" x2="1217.1" y2="495.3" stroke="#000" stroke-width="2"/>
<text x="1222.3" y="509.3" font-size="15.7" text-anchor="end" transform="rotate(-45 1222.3 509.3)">F-36</text>
<line x1="1250.4" y1="488.3" x2="1250.4" y2="495.3" stroke="#000" stroke-width="2"/>
<text x="1255.6" y="509.3" font-size="15.7" text-anchor="end" transform="rotate(-45 1255.6 509.3)">Refed</text>
<text x="1123.5" y="404.0" font-size="18.1" text-anchor="middle" transform="rotate(-90 1123.5 404.0)">Relative amount of ADMA</text>
<line x1="1184.6" y1="372.0" x2="1184.6" y2="384.8" stroke="#000" stroke-width="1.3"/>
<line x1="1178.8" y1="372.0" x2="1190.3" y2="372.0" stroke="#000" stroke-width="1.3"/>
<line x1="1178.8" y1="384.8" x2="1190.3" y2="384.8" stroke="#000" stroke-width="1.3"/>
<line x1="1217.6" y1="439.1" x2="1217.6" y2="448.0" stroke="#ff0000" stroke-width="1.3"/>
<line x1="1211.8" y1="439.1" x2="1223.3" y2="439.1" stroke="#ff0000" stroke-width="1.3"/>
<line x1="1211.8" y1="448.0" x2="1223.3" y2="448.0" stroke="#ff0000" stroke-width="1.3"/>
<line x1="1250.4" y1="398.4" x2="1250.4" y2="409.9" stroke="#0000c8" stroke-width="1.3"/>
<line x1="1244.7" y1="398.4" x2="1256.2" y2="398.4" stroke="#0000c8" stroke-width="1.3"/>
<line x1="1244.7" y1="409.9" x2="1256.2" y2="409.9" stroke="#0000c8" stroke-width="1.3"/>
<circle cx="1177.1" cy="365.4" r="3.3" fill="#000"/>
<circle cx="1192.3" cy="366.1" r="3.3" fill="#000"/>
<circle cx="1184.6" cy="374.3" r="3.3" fill="#000"/>
<circle cx="1192.3" cy="391.8" r="3.3" fill="#000"/>
<circle cx="1176.6" cy="395.4" r="3.3" fill="#000"/>
<rect x="1206.1" y="429.1" width="6.6" height="6.6" fill="#ff0000"/>
<rect x="1214.3" y="432.3" width="6.6" height="6.6" fill="#ff0000"/>
<rect x="1222.0" y="433.7" width="6.6" height="6.6" fill="#ff0000"/>
<rect x="1214.3" y="440.1" width="6.6" height="6.6" fill="#ff0000"/>
<rect x="1214.3" y="448.3" width="6.6" height="6.6" fill="#ff0000"/>
<rect x="1214.3" y="457.6" width="6.6" height="6.6" fill="#ff0000"/>
<polygon points="1250.4,379.1 1246.8,385.6 1254.0,385.6" fill="#0000c8"/>
<polygon points="1250.4,395.4 1246.8,401.9 1254.0,401.9" fill="#0000c8"/>
<polygon points="1242.9,400.1 1239.3,406.6 1246.5,406.6" fill="#0000c8"/>
<polygon points="1258.1,401.3 1254.5,407.8 1261.7,407.8" fill="#0000c8"/>
<polygon points="1250.4,406.7 1246.8,413.2 1254.0,413.2" fill="#0000c8"/>
<polygon points="1250.4,420.7 1246.8,427.2 1254.0,427.2" fill="#0000c8"/>
<text x="1172.6" y="345.7" font-size="13.4"><tspan font-style="italic">P</tspan>=0.000012</text>
<polyline points="1184.4,358.4 1184.4,350.4 1219.0,350.4 1219.0,358.4" fill="none" stroke="#000" stroke-width="2"/>
<text x="1212.9" y="320.4" font-size="13.4"><tspan font-style="italic">P</tspan>=0.0003</text>
<polyline points="1219.0,333.8 1219.0,325.6 1253.2,325.6 1253.2,333.8" fill="none" stroke="#000" stroke-width="2"/>
<text x="1296.0" y="19.0" font-size="26.5" font-weight="bold">c</text>
<polyline points="1372.3,228.4 1372.3,109.5 1391.8,109.5 1391.8,228.4" fill="none" stroke="#000" stroke-width="2.15"/>
<polyline points="1404.5,228.4 1404.5,197.0 1424.5,197.0 1424.5,228.4" fill="none" stroke="#ff0000" stroke-width="2.15"/>
<polyline points="1437.0,228.4 1437.0,169.9 1456.7,169.9 1456.7,228.4" fill="none" stroke="#00c000" stroke-width="2.15"/>
<line x1="1361.2" y1="56.3" x2="1361.2" y2="229.4" stroke="#000" stroke-width="2"/>
<line x1="1360.2" y1="228.4" x2="1468.6" y2="228.4" stroke="#000" stroke-width="2"/>
<line x1="1353.2" y1="228.4" x2="1361.2" y2="228.4" stroke="#000" stroke-width="2"/>
<text x="1352.9" y="234.2" font-size="16" text-anchor="end">0</text>
<line x1="1353.2" y1="185.6" x2="1361.2" y2="185.6" stroke="#000" stroke-width="2"/>
<text x="1352.9" y="191.4" font-size="16" text-anchor="end">50</text>
<line x1="1353.2" y1="142.8" x2="1361.2" y2="142.8" stroke="#000" stroke-width="2"/>
<text x="1352.9" y="148.6" font-size="16" text-anchor="end">100</text>
<line x1="1353.2" y1="100.1" x2="1361.2" y2="100.1" stroke="#000" stroke-width="2"/>
<text x="1352.9" y="105.9" font-size="16" text-anchor="end">150</text>
<line x1="1353.2" y1="57.3" x2="1361.2" y2="57.3" stroke="#000" stroke-width="2"/>
<text x="1352.9" y="63.1" font-size="16" text-anchor="end">200</text>
<line x1="1381.8" y1="228.4" x2="1381.8" y2="235.4" stroke="#000" stroke-width="2"/>
<text x="1387.8" y="250.9" font-size="16.2" text-anchor="end" transform="rotate(-45 1387.8 250.9)">AL</text>
<line x1="1414.0" y1="228.4" x2="1414.0" y2="235.4" stroke="#000" stroke-width="2"/>
<text x="1420.0" y="250.9" font-size="16.2" text-anchor="end" transform="rotate(-45 1420.0 250.9)">F-36</text>
<line x1="1446.4" y1="228.4" x2="1446.4" y2="235.4" stroke="#000" stroke-width="2"/>
<text x="1452.4" y="250.9" font-size="16.2" text-anchor="end" transform="rotate(-45 1452.4 250.9)">Refed</text>
<text x="1318.8" y="140.0" font-size="19" text-anchor="middle" transform="rotate(-90 1318.8 140.0)">SAMe (ng/mL)</text>
<line x1="1382.3" y1="97.6" x2="1382.3" y2="120.2" stroke="#000" stroke-width="1.3"/>
<line x1="1377.3" y1="97.6" x2="1387.3" y2="97.6" stroke="#000" stroke-width="1.3"/>
<line x1="1377.3" y1="120.2" x2="1387.3" y2="120.2" stroke="#000" stroke-width="1.3"/>
<line x1="1414.5" y1="193.7" x2="1414.5" y2="199.4" stroke="#ff0000" stroke-width="1.3"/>
<line x1="1409.5" y1="193.7" x2="1419.5" y2="193.7" stroke="#ff0000" stroke-width="1.3"/>
<line x1="1409.5" y1="199.4" x2="1419.5" y2="199.4" stroke="#ff0000" stroke-width="1.3"/>
<line x1="1446.4" y1="160.5" x2="1446.4" y2="178.6" stroke="#00c000" stroke-width="1.3"/>
<line x1="1441.4" y1="160.5" x2="1451.4" y2="160.5" stroke="#00c000" stroke-width="1.3"/>
<line x1="1441.4" y1="178.6" x2="1451.4" y2="178.6" stroke="#00c000" stroke-width="1.3"/>
<circle cx="1382.3" cy="71.7" r="2.8" fill="#000"/>
<circle cx="1382.3" cy="83.5" r="2.8" fill="#000"/>
<circle cx="1373.5" cy="116.4" r="2.8" fill="#000"/>
<circle cx="1382.3" cy="117.7" r="2.8" fill="#000"/>
<circle cx="1390.6" cy="116.4" r="2.8" fill="#000"/>
<circle cx="1382.3" cy="145.4" r="2.8" fill="#000"/>
<circle cx="1406.2" cy="188.1" r="2.8" fill="#ff0000"/>
<circle cx="1414.5" cy="193.2" r="2.8" fill="#ff0000"/>
<circle cx="1422.5" cy="190.4" r="2.8" fill="#ff0000"/>
<circle cx="1414.5" cy="200.0" r="2.8" fill="#ff0000"/>
<circle cx="1406.2" cy="203.2" r="2.8" fill="#ff0000"/>
<circle cx="1422.5" cy="201.2" r="2.8" fill="#ff0000"/>
<circle cx="1446.4" cy="135.1" r="2.8" fill="#00c000"/>
<circle cx="1441.9" cy="158.5" r="2.8" fill="#00c000"/>
<circle cx="1451.0" cy="160.5" r="2.8" fill="#00c000"/>
<circle cx="1446.4" cy="178.6" r="2.8" fill="#00c000"/>
<circle cx="1446.4" cy="188.1" r="2.8" fill="#00c000"/>
<circle cx="1446.4" cy="194.2" r="2.8" fill="#00c000"/>
<text x="1362.4" y="49.5" font-size="13.4"><tspan font-style="italic">P</tspan>=0.000015</text>
<polyline points="1381.8,66.6 1381.8,58.4 1415.8,58.4 1415.8,66.6" fill="none" stroke="#000" stroke-width="2"/>
<text x="1406.4" y="109.9" font-size="13.4"><tspan font-style="italic">P</tspan>=0.017</text>
<polyline points="1413.5,125.8 1413.5,117.7 1447.9,117.7 1447.9,125.8" fill="none" stroke="#000" stroke-width="2"/>
<text x="1297.8" y="299.0" font-size="26.5" font-weight="bold">d</text>
<polyline points="1372.8,484.2 1372.8,369.4 1392.5,369.4 1392.5,484.2" fill="none" stroke="#000" stroke-width="2.15"/>
<polyline points="1406.3,484.2 1406.3,370.1 1426.0,370.1 1426.0,484.2" fill="none" stroke="#ff0000" stroke-width="2.15"/>
<polyline points="1439.5,484.2 1439.5,371.1 1459.7,371.1 1459.7,484.2" fill="none" stroke="#00c000" stroke-width="2.15"/>
<line x1="1361.2" y1="311.2" x2="1361.2" y2="485.2" stroke="#000" stroke-width="2"/>
<line x1="1360.2" y1="484.2" x2="1471.6" y2="484.2" stroke="#000" stroke-width="2"/>
<line x1="1353.2" y1="484.2" x2="1361.2" y2="484.2" stroke="#000" stroke-width="2"/>
<text x="1352.9" y="490.0" font-size="16" text-anchor="end">0</text>
<line x1="1353.2" y1="449.8" x2="1361.2" y2="449.8" stroke="#000" stroke-width="2"/>
<text x="1352.9" y="455.6" font-size="16" text-anchor="end">5</text>
<line x1="1353.2" y1="415.4" x2="1361.2" y2="415.4" stroke="#000" stroke-width="2"/>
<text x="1352.9" y="421.2" font-size="16" text-anchor="end">10</text>
<line x1="1353.2" y1="381.0" x2="1361.2" y2="381.0" stroke="#000" stroke-width="2"/>
<text x="1352.9" y="386.8" font-size="16" text-anchor="end">15</text>
<line x1="1353.2" y1="346.6" x2="1361.2" y2="346.6" stroke="#000" stroke-width="2"/>
<text x="1352.9" y="352.4" font-size="16" text-anchor="end">20</text>
<line x1="1353.2" y1="312.2" x2="1361.2" y2="312.2" stroke="#000" stroke-width="2"/>
<text x="1352.9" y="318.0" font-size="16" text-anchor="end">25</text>
<line x1="1382.3" y1="484.2" x2="1382.3" y2="491.2" stroke="#000" stroke-width="2"/>
<text x="1388.3" y="506.7" font-size="16.2" text-anchor="end" transform="rotate(-45 1388.3 506.7)">AL</text>
<line x1="1415.8" y1="484.2" x2="1415.8" y2="491.2" stroke="#000" stroke-width="2"/>
<text x="1421.8" y="506.7" font-size="16.2" text-anchor="end" transform="rotate(-45 1421.8 506.7)">F-36</text>
<line x1="1449.0" y1="484.2" x2="1449.0" y2="491.2" stroke="#000" stroke-width="2"/>
<text x="1455.0" y="506.7" font-size="16.2" text-anchor="end" transform="rotate(-45 1455.0 506.7)">Refed</text>
<text x="1326.5" y="395.7" font-size="19.2" text-anchor="middle" transform="rotate(-90 1326.5 395.7)">SAMe (pg/mg tissue)</text>
<line x1="1382.6" y1="366.3" x2="1382.6" y2="372.3" stroke="#000" stroke-width="1.3"/>
<line x1="1377.6" y1="366.3" x2="1387.6" y2="366.3" stroke="#000" stroke-width="1.3"/>
<line x1="1377.6" y1="372.3" x2="1387.6" y2="372.3" stroke="#000" stroke-width="1.3"/>
<line x1="1416.1" y1="366.8" x2="1416.1" y2="373.8" stroke="#ff0000" stroke-width="1.3"/>
<line x1="1411.1" y1="366.8" x2="1421.1" y2="366.8" stroke="#ff0000" stroke-width="1.3"/>
<line x1="1411.1" y1="373.8" x2="1421.1" y2="373.8" stroke="#ff0000" stroke-width="1.3"/>
<line x1="1449.5" y1="366.0" x2="1449.5" y2="376.3" stroke="#00c000" stroke-width="1.3"/>
<line x1="1444.5" y1="366.0" x2="1454.5" y2="366.0" stroke="#00c000" stroke-width="1.3"/>
<line x1="1444.5" y1="376.3" x2="1454.5" y2="376.3" stroke="#00c000" stroke-width="1.3"/>
<circle cx="1374.3" cy="360.5" r="2.9" fill="#000"/>
<circle cx="1380.5" cy="361.0" r="2.9" fill="#000"/>
<circle cx="1386.1" cy="361.0" r="2.9" fill="#000"/>
<circle cx="1391.9" cy="358.7" r="2.9" fill="#000"/>
<circle cx="1380.5" cy="369.3" r="2.9" fill="#000"/>
<circle cx="1386.1" cy="373.6" r="2.9" fill="#000"/>
<circle cx="1376.8" cy="381.9" r="2.9" fill="#000"/>
<circle cx="1382.3" cy="380.6" r="2.9" fill="#000"/>
<circle cx="1388.1" cy="381.4" r="2.9" fill="#000"/>
<circle cx="1415.8" cy="347.4" r="2.9" fill="#ff0000"/>
<circle cx="1415.8" cy="355.5" r="2.9" fill="#ff0000"/>
<circle cx="1412.5" cy="363.0" r="2.9" fill="#ff0000"/>
<circle cx="1420.8" cy="364.3" r="2.9" fill="#ff0000"/>
<circle cx="1409.5" cy="376.3" r="2.9" fill="#ff0000"/>
<circle cx="1425.8" cy="376.3" r="2.9" fill="#ff0000"/>
<circle cx="1415.8" cy="379.8" r="2.9" fill="#ff0000"/>
<circle cx="1415.8" cy="388.9" r="2.9" fill="#ff0000"/>
<circle cx="1413.2" cy="370.5" r="2.9" fill="#ff0000"/>
<circle cx="1419.5" cy="371.0" r="2.9" fill="#ff0000"/>
<circle cx="1449.0" cy="346.1" r="2.9" fill="#00c000"/>
<circle cx="1446.4" cy="361.2" r="2.9" fill="#00c000"/>
<circle cx="1452.2" cy="358.7" r="2.9" fill="#00c000"/>
<circle cx="1458.0" cy="357.5" r="2.9" fill="#00c000"/>
<circle cx="1443.4" cy="368.0" r="2.9" fill="#00c000"/>
<circle cx="1440.9" cy="378.1" r="2.9" fill="#00c000"/>
<circle cx="1446.4" cy="380.6" r="2.9" fill="#00c000"/>
<circle cx="1452.2" cy="380.6" r="2.9" fill="#00c000"/>
<circle cx="1458.0" cy="378.8" r="2.9" fill="#00c000"/>
<circle cx="1449.0" cy="394.4" r="2.9" fill="#00c000"/>
<text x="1389.8" y="322.8" font-size="13" font-style="italic">n.s</text>
<polyline points="1380.5,339.6 1380.5,331.1 1416.5,331.1 1416.5,339.6" fill="none" stroke="#000" stroke-width="2"/>
<text x="1428.3" y="322.8" font-size="13" font-style="italic">n.s</text>
<polyline points="1418.3,339.6 1418.3,331.1 1455.2,331.1 1455.2,339.6" fill="none" stroke="#000" stroke-width="2"/>
<text x="1499.9" y="19.0" font-size="26.5" font-weight="bold">e</text>
<text x="1612.0" y="43.3" font-size="19.3" text-anchor="middle">ND</text>
<line x1="1551.7" y1="47.3" x2="1670.4" y2="47.3" stroke="#000" stroke-width="1.6"/>
<text x="1752.9" y="43.3" font-size="19.3" text-anchor="middle">HFD</text>
<line x1="1692.0" y1="47.3" x2="1810.2" y2="47.3" stroke="#000" stroke-width="1.6"/>
<clipPath id="cp6"><rect x="1536" y="52" width="293.29999999999995" height="225.8"/></clipPath>
<linearGradient id="bg6" x1="0" y1="0" x2="0" y2="1"><stop offset="0.000" stop-color="#dcdcdc"/><stop offset="0.655" stop-color="#dddddd"/><stop offset="0.877" stop-color="#e2e2e2"/><stop offset="1.001" stop-color="#e8e8e8"/></linearGradient>
<rect x="1536.0" y="52.0" width="293.3" height="225.8" fill="url(#bg6)"/>
<g clip-path="url(#cp6)">
<g filter="url(#blur2.5)">
<linearGradient id="lp6_0" gradientUnits="userSpaceOnUse" x1="0" y1="50" x2="0" y2="280"><stop offset="0.000" stop-color="#000" stop-opacity="0.143"/><stop offset="0.261" stop-color="#000" stop-opacity="0.132"/><stop offset="0.326" stop-color="#000" stop-opacity="0.154"/><stop offset="0.478" stop-color="#000" stop-opacity="0.121"/><stop offset="0.652" stop-color="#000" stop-opacity="0.088"/><stop offset="0.717" stop-color="#000" stop-opacity="0.110"/><stop offset="0.826" stop-color="#000" stop-opacity="0.077"/><stop offset="1.000" stop-color="#000" stop-opacity="0.044"/></linearGradient>
<rect x="1545.2" y="50" width="27.0" height="230" fill="url(#lp6_0)"/>
<linearGradient id="lp6_1" gradientUnits="userSpaceOnUse" x1="0" y1="50" x2="0" y2="280"><stop offset="0.000" stop-color="#000" stop-opacity="0.117"/><stop offset="0.261" stop-color="#000" stop-opacity="0.108"/><stop offset="0.326" stop-color="#000" stop-opacity="0.126"/><stop offset="0.478" stop-color="#000" stop-opacity="0.099"/><stop offset="0.652" stop-color="#000" stop-opacity="0.072"/><stop offset="0.717" stop-color="#000" stop-opacity="0.090"/><stop offset="0.826" stop-color="#000" stop-opacity="0.063"/><stop offset="1.000" stop-color="#000" stop-opacity="0.036"/></linearGradient>
<rect x="1580.9" y="50" width="27.0" height="230" fill="url(#lp6_1)"/>
<linearGradient id="lp6_2" gradientUnits="userSpaceOnUse" x1="0" y1="50" x2="0" y2="280"><stop offset="0.000" stop-color="#000" stop-opacity="0.143"/><stop offset="0.261" stop-color="#000" stop-opacity="0.132"/><stop offset="0.326" stop-color="#000" stop-opacity="0.154"/><stop offset="0.478" stop-color="#000" stop-opacity="0.121"/><stop offset="0.652" stop-color="#000" stop-opacity="0.088"/><stop offset="0.717" stop-color="#000" stop-opacity="0.110"/><stop offset="0.826" stop-color="#000" stop-opacity="0.077"/><stop offset="1.000" stop-color="#000" stop-opacity="0.044"/></linearGradient>
<rect x="1614.9" y="50" width="27.0" height="230" fill="url(#lp6_2)"/>
<linearGradient id="lp6_3" gradientUnits="userSpaceOnUse" x1="0" y1="50" x2="0" y2="280"><stop offset="0.000" stop-color="#000" stop-opacity="0.117"/><stop offset="0.261" stop-color="#000" stop-opacity="0.108"/><stop offset="0.326" stop-color="#000" stop-opacity="0.126"/><stop offset="0.478" stop-color="#000" stop-opacity="0.099"/><stop offset="0.652" stop-color="#000" stop-opacity="0.072"/><stop offset="0.717" stop-color="#000" stop-opacity="0.090"/><stop offset="0.826" stop-color="#000" stop-opacity="0.063"/><stop offset="1.000" stop-color="#000" stop-opacity="0.036"/></linearGradient>
<rect x="1651.4" y="50" width="27.0" height="230" fill="url(#lp6_3)"/>
<linearGradient id="lp6_4" gradientUnits="userSpaceOnUse" x1="0" y1="50" x2="0" y2="280"><stop offset="0.000" stop-color="#000" stop-opacity="0.130"/><stop offset="0.252" stop-color="#000" stop-opacity="0.150"/><stop offset="0.322" stop-color="#000" stop-opacity="0.240"/><stop offset="0.478" stop-color="#000" stop-opacity="0.220"/><stop offset="0.565" stop-color="#000" stop-opacity="0.170"/><stop offset="0.652" stop-color="#000" stop-opacity="0.140"/><stop offset="0.717" stop-color="#000" stop-opacity="0.150"/><stop offset="0.826" stop-color="#000" stop-opacity="0.100"/><stop offset="1.000" stop-color="#000" stop-opacity="0.050"/></linearGradient>
<rect x="1687.8" y="50" width="27.0" height="230" fill="url(#lp6_4)"/>
<linearGradient id="lp6_5" gradientUnits="userSpaceOnUse" x1="0" y1="50" x2="0" y2="280"><stop offset="0.000" stop-color="#000" stop-opacity="0.156"/><stop offset="0.252" stop-color="#000" stop-opacity="0.180"/><stop offset="0.322" stop-color="#000" stop-opacity="0.288"/><stop offset="0.478" stop-color="#000" stop-opacity="0.264"/><stop offset="0.565" stop-color="#000" stop-opacity="0.204"/><stop offset="0.652" stop-color="#000" stop-opacity="0.168"/><stop offset="0.717" stop-color="#000" stop-opacity="0.180"/><stop offset="0.826" stop-color="#000" stop-opacity="0.120"/><stop offset="1.000" stop-color="#000" stop-opacity="0.060"/></linearGradient>
<rect x="1723.0" y="50" width="27.0" height="230" fill="url(#lp6_5)"/>
<linearGradient id="lp6_6" gradientUnits="userSpaceOnUse" x1="0" y1="50" x2="0" y2="280"><stop offset="0.000" stop-color="#000" stop-opacity="0.130"/><stop offset="0.252" stop-color="#000" stop-opacity="0.150"/><stop offset="0.322" stop-color="#000" stop-opacity="0.240"/><stop offset="0.478" stop-color="#000" stop-opacity="0.220"/><stop offset="0.565" stop-color="#000" stop-opacity="0.170"/><stop offset="0.652" stop-color="#000" stop-opacity="0.140"/><stop offset="0.717" stop-color="#000" stop-opacity="0.150"/><stop offset="0.826" stop-color="#000" stop-opacity="0.100"/><stop offset="1.000" stop-color="#000" stop-opacity="0.050"/></linearGradient>
<rect x="1758.3" y="50" width="27.0" height="230" fill="url(#lp6_6)"/>
<linearGradient id="lp6_7" gradientUnits="userSpaceOnUse" x1="0" y1="50" x2="0" y2="280"><stop offset="0.000" stop-color="#000" stop-opacity="0.104"/><stop offset="0.252" stop-color="#000" stop-opacity="0.120"/><stop offset="0.322" stop-color="#000" stop-opacity="0.192"/><stop offset="0.478" stop-color="#000" stop-opacity="0.176"/><stop offset="0.565" stop-color="#000" stop-opacity="0.136"/><stop offset="0.652" stop-color="#000" stop-opacity="0.112"/><stop offset="0.717" stop-color="#000" stop-opacity="0.120"/><stop offset="0.826" stop-color="#000" stop-opacity="0.080"/><stop offset="1.000" stop-color="#000" stop-opacity="0.040"/></linearGradient>
<rect x="1793.5" y="50" width="27.0" height="230" fill="url(#lp6_7)"/>
</g>
<g filter="url(#blur3)">
<rect x="1543.7" y="110.0" width="30.0" height="13.5" rx="4" fill="#000" opacity="0.14"/>
<rect x="1578.9" y="109.7" width="31.0" height="14.0" rx="4" fill="#000" opacity="0.14"/>
<rect x="1648.9" y="109.7" width="32.0" height="14.0" rx="4" fill="#000" opacity="0.15"/>
<rect x="1684.3" y="108.2" width="34.0" height="17.0" rx="4" fill="#000" opacity="0.16"/>
<rect x="1718.5" y="107.7" width="36.0" height="19.0" rx="4" fill="#000" opacity="0.16"/>
<rect x="1755.3" y="108.5" width="33.0" height="16.5" rx="4" fill="#000" opacity="0.16"/>
<rect x="1789.5" y="107.7" width="35.0" height="16.0" rx="4" fill="#000" opacity="0.16"/>
</g>
<g filter="url(#blur1.6)">
<rect x="1546.7" y="80.2" width="24.0" height="3.0" rx="1.5" fill="#000" opacity="0.22"/>
<rect x="1582.4" y="80.2" width="24.0" height="3.0" rx="1.5" fill="#000" opacity="0.06"/>
<rect x="1616.4" y="80.2" width="24.0" height="3.0" rx="1.5" fill="#000" opacity="0.08"/>
<rect x="1652.9" y="80.2" width="24.0" height="3.0" rx="1.5" fill="#000" opacity="0.06"/>
<rect x="1689.3" y="80.2" width="24.0" height="3.0" rx="1.5" fill="#000" opacity="0.08"/>
<rect x="1724.5" y="80.2" width="24.0" height="3.0" rx="1.5" fill="#000" opacity="0.45"/>
<rect x="1759.8" y="80.2" width="24.0" height="3.0" rx="1.5" fill="#000" opacity="0.38"/>
<rect x="1795.0" y="80.2" width="24.0" height="3.0" rx="1.5" fill="#000" opacity="0.14"/>
</g>
<g filter="url(#blur2)">
<rect x="1616.4" y="97.5" width="24.0" height="5.0" rx="2.5" fill="#000" opacity="0.08"/>
<rect x="1689.3" y="97.5" width="24.0" height="5.0" rx="2.5" fill="#000" opacity="0.05"/>
<rect x="1724.5" y="97.5" width="24.0" height="5.0" rx="2.5" fill="#000" opacity="0.15"/>
<rect x="1759.8" y="97.5" width="24.0" height="5.0" rx="2.5" fill="#000" opacity="0.08"/>
</g>
<g filter="url(#blur1.4)">
<rect x="1544.7" y="113.5" width="28.0" height="5.5" rx="2.8" fill="#000" opacity="0.88"/>
<rect x="1579.9" y="113.2" width="29.0" height="6.0" rx="3.0" fill="#000" opacity="0.88"/>
<rect x="1615.4" y="114.0" width="26.0" height="5.5" rx="2.8" fill="#000" opacity="0.62"/>
<rect x="1649.9" y="113.2" width="30.0" height="6.0" rx="3.0" fill="#000" opacity="0.92"/>
<rect x="1685.3" y="111.7" width="32.0" height="9.0" rx="4.5" fill="#000" opacity="1.00"/>
<rect x="1719.5" y="111.2" width="34.0" height="11.0" rx="5.5" fill="#000" opacity="1.00"/>
<rect x="1756.3" y="112.0" width="31.0" height="8.5" rx="4.2" fill="#000" opacity="1.00"/>
<rect x="1790.5" y="111.2" width="33.0" height="8.0" rx="4.0" fill="#000" opacity="1.00"/>
</g>
<g filter="url(#blur2)">
<rect x="1545.7" y="127.0" width="26.0" height="5.0" rx="2.5" fill="#000" opacity="0.22"/>
<rect x="1581.4" y="127.0" width="26.0" height="5.0" rx="2.5" fill="#000" opacity="0.18"/>
<rect x="1615.4" y="127.0" width="26.0" height="5.0" rx="2.5" fill="#000" opacity="0.28"/>
<rect x="1651.9" y="127.0" width="26.0" height="5.0" rx="2.5" fill="#000" opacity="0.18"/>
<rect x="1688.3" y="127.0" width="26.0" height="5.0" rx="2.5" fill="#000" opacity="0.50"/>
<rect x="1723.5" y="127.0" width="26.0" height="5.0" rx="2.5" fill="#000" opacity="0.55"/>
<rect x="1758.8" y="127.0" width="26.0" height="5.0" rx="2.5" fill="#000" opacity="0.42"/>
<rect x="1794.0" y="127.0" width="26.0" height="5.0" rx="2.5" fill="#000" opacity="0.18"/>
</g>
<g filter="url(#blur2)">
<rect x="1688.3" y="135.5" width="26.0" height="4.0" rx="2.0" fill="#000" opacity="0.40"/>
<rect x="1723.5" y="135.5" width="26.0" height="4.0" rx="2.0" fill="#000" opacity="0.45"/>
<rect x="1758.8" y="135.5" width="26.0" height="4.0" rx="2.0" fill="#000" opacity="0.28"/>
<rect x="1794.0" y="135.5" width="26.0" height="4.0" rx="2.0" fill="#000" opacity="0.12"/>
</g>
<g filter="url(#blur1.6)">
<rect x="1545.7" y="150.2" width="26.0" height="4.0" rx="2.0" fill="#000" opacity="0.13"/>
<rect x="1581.4" y="150.2" width="26.0" height="4.0" rx="2.0" fill="#000" opacity="0.10"/>
<rect x="1615.4" y="150.2" width="26.0" height="4.0" rx="2.0" fill="#000" opacity="0.22"/>
<rect x="1651.9" y="150.2" width="26.0" height="4.0" rx="2.0" fill="#000" opacity="0.22"/>
<rect x="1688.3" y="150.2" width="26.0" height="4.0" rx="2.0" fill="#000" opacity="0.60"/>
<rect x="1723.5" y="150.2" width="26.0" height="4.0" rx="2.0" fill="#000" opacity="0.42"/>
<rect x="1758.8" y="150.2" width="26.0" height="4.0" rx="2.0" fill="#000" opacity="0.42"/>
<rect x="1794.0" y="150.2" width="26.0" height="4.0" rx="2.0" fill="#000" opacity="0.38"/>
</g>
<g filter="url(#blur1.6)">
<rect x="1615.4" y="169.2" width="26.0" height="3.5" rx="1.8" fill="#000" opacity="0.07"/>
<rect x="1688.3" y="169.2" width="26.0" height="3.5" rx="1.8" fill="#000" opacity="0.28"/>
<rect x="1723.5" y="169.2" width="26.0" height="3.5" rx="1.8" fill="#000" opacity="0.38"/>
<rect x="1758.8" y="169.2" width="26.0" height="3.5" rx="1.8" fill="#000" opacity="0.04"/>
<rect x="1794.0" y="169.2" width="26.0" height="3.5" rx="1.8" fill="#000" opacity="0.18"/>
</g>
<g filter="url(#blur3)">
<rect x="1545.7" y="213.3" width="26.0" height="11.0" rx="5.5" fill="#000" opacity="0.20"/>
<rect x="1581.4" y="213.3" width="26.0" height="11.0" rx="5.5" fill="#000" opacity="0.16"/>
<rect x="1615.4" y="213.3" width="26.0" height="11.0" rx="5.5" fill="#000" opacity="0.25"/>
<rect x="1651.9" y="213.3" width="26.0" height="11.0" rx="5.5" fill="#000" opacity="0.16"/>
<rect x="1688.3" y="213.3" width="26.0" height="11.0" rx="5.5" fill="#000" opacity="0.20"/>
<rect x="1723.5" y="213.3" width="26.0" height="11.0" rx="5.5" fill="#000" opacity="0.42"/>
<rect x="1758.8" y="213.3" width="26.0" height="11.0" rx="5.5" fill="#000" opacity="0.25"/>
<rect x="1794.0" y="213.3" width="26.0" height="11.0" rx="5.5" fill="#000" opacity="0.04"/>
</g>
<g filter="url(#blur2)">
<rect x="1546.7" y="217.5" width="24.0" height="4.0" rx="2.0" fill="#000" opacity="0.05"/>
<rect x="1582.4" y="217.5" width="24.0" height="4.0" rx="2.0" fill="#000" opacity="0.05"/>
<rect x="1616.4" y="217.5" width="24.0" height="4.0" rx="2.0" fill="#000" opacity="0.08"/>
<rect x="1652.9" y="217.5" width="24.0" height="4.0" rx="2.0" fill="#000" opacity="0.05"/>
<rect x="1689.3" y="217.5" width="24.0" height="4.0" rx="2.0" fill="#000" opacity="0.08"/>
<rect x="1724.5" y="217.5" width="24.0" height="4.0" rx="2.0" fill="#000" opacity="0.30"/>
<rect x="1759.8" y="217.5" width="24.0" height="4.0" rx="2.0" fill="#000" opacity="0.12"/>
</g>
<g filter="url(#blur1.6)">
<rect x="1547.7" y="262.5" width="22.0" height="3.0" rx="1.5" fill="#000" opacity="0.03"/>
<rect x="1617.4" y="262.5" width="22.0" height="3.0" rx="1.5" fill="#000" opacity="0.05"/>
<rect x="1653.9" y="262.5" width="22.0" height="3.0" rx="1.5" fill="#000" opacity="0.02"/>
<rect x="1690.3" y="262.5" width="22.0" height="3.0" rx="1.5" fill="#000" opacity="0.10"/>
<rect x="1725.5" y="262.5" width="22.0" height="3.0" rx="1.5" fill="#000" opacity="0.22"/>
<rect x="1760.8" y="262.5" width="22.0" height="3.0" rx="1.5" fill="#000" opacity="0.03"/>
<rect x="1796.0" y="262.5" width="22.0" height="3.0" rx="1.5" fill="#000" opacity="0.10"/>
</g>
</g>
<rect x="1536.0" y="52.0" width="293.3" height="225.8" fill="none" stroke="#000" stroke-width="2.2"/>
<text x="1477.0" y="110.7" font-size="15">70kDa</text>
<line x1="1521.5" y1="113.2" x2="1539.0" y2="113.2" stroke="#000" stroke-width="1.8"/>
<text x="1524.5" y="155.7" font-size="21.5" text-anchor="middle" transform="rotate(-90 1524.5 155.7)">MMA</text>
<clipPath id="cp7"><rect x="1535.8" y="289.1" width="293.4000000000001" height="226.69999999999993"/></clipPath>
<linearGradient id="bg7" x1="0" y1="0" x2="0" y2="1"><stop offset="-0.000" stop-color="#dadada"/><stop offset="0.577" stop-color="#dcdcdc"/><stop offset="0.710" stop-color="#e2e2e2"/><stop offset="1.001" stop-color="#ebebeb"/></linearGradient>
<rect x="1535.8" y="289.1" width="293.4" height="226.7" fill="url(#bg7)"/>
<g clip-path="url(#cp7)">
<g filter="url(#blur2.5)">
<linearGradient id="lp7_0" gradientUnits="userSpaceOnUse" x1="0" y1="287" x2="0" y2="470"><stop offset="0.000" stop-color="#000" stop-opacity="0.170"/><stop offset="0.355" stop-color="#000" stop-opacity="0.170"/><stop offset="0.426" stop-color="#000" stop-opacity="0.150"/><stop offset="0.552" stop-color="#000" stop-opacity="0.130"/><stop offset="0.617" stop-color="#000" stop-opacity="0.120"/><stop offset="0.683" stop-color="#000" stop-opacity="0.100"/><stop offset="0.749" stop-color="#000" stop-opacity="0.080"/><stop offset="0.814" stop-color="#000" stop-opacity="0.020"/><stop offset="1.000" stop-color="#000" stop-opacity="0.000"/></linearGradient>
<rect x="1542.6" y="287" width="26.0" height="183" fill="url(#lp7_0)"/>
<linearGradient id="lp7_1" gradientUnits="userSpaceOnUse" x1="0" y1="287" x2="0" y2="470"><stop offset="0.000" stop-color="#000" stop-opacity="0.170"/><stop offset="0.355" stop-color="#000" stop-opacity="0.170"/><stop offset="0.426" stop-color="#000" stop-opacity="0.150"/><stop offset="0.552" stop-color="#000" stop-opacity="0.130"/><stop offset="0.617" stop-color="#000" stop-opacity="0.120"/><stop offset="0.683" stop-color="#000" stop-opacity="0.100"/><stop offset="0.749" stop-color="#000" stop-opacity="0.080"/><stop offset="0.814" stop-color="#000" stop-opacity="0.020"/><stop offset="1.000" stop-color="#000" stop-opacity="0.000"/></linearGradient>
<rect x="1578.4" y="287" width="26.0" height="183" fill="url(#lp7_1)"/>
<linearGradient id="lp7_2" gradientUnits="userSpaceOnUse" x1="0" y1="287" x2="0" y2="470"><stop offset="0.000" stop-color="#000" stop-opacity="0.187"/><stop offset="0.355" stop-color="#000" stop-opacity="0.187"/><stop offset="0.426" stop-color="#000" stop-opacity="0.165"/><stop offset="0.552" stop-color="#000" stop-opacity="0.143"/><stop offset="0.617" stop-color="#000" stop-opacity="0.132"/><stop offset="0.683" stop-color="#000" stop-opacity="0.110"/><stop offset="0.749" stop-color="#000" stop-opacity="0.088"/><stop offset="0.814" stop-color="#000" stop-opacity="0.022"/><stop offset="1.000" stop-color="#000" stop-opacity="0.000"/></linearGradient>
<rect x="1613.9" y="287" width="26.0" height="183" fill="url(#lp7_2)"/>
<linearGradient id="lp7_3" gradientUnits="userSpaceOnUse" x1="0" y1="287" x2="0" y2="470"><stop offset="0.000" stop-color="#000" stop-opacity="0.170"/><stop offset="0.355" stop-color="#000" stop-opacity="0.170"/><stop offset="0.426" stop-color="#000" stop-opacity="0.150"/><stop offset="0.552" stop-color="#000" stop-opacity="0.130"/><stop offset="0.617" stop-color="#000" stop-opacity="0.120"/><stop offset="0.683" stop-color="#000" stop-opacity="0.100"/><stop offset="0.749" stop-color="#000" stop-opacity="0.080"/><stop offset="0.814" stop-color="#000" stop-opacity="0.020"/><stop offset="1.000" stop-color="#000" stop-opacity="0.000"/></linearGradient>
<rect x="1649.0" y="287" width="26.0" height="183" fill="url(#lp7_3)"/>
<linearGradient id="lp7_4" gradientUnits="userSpaceOnUse" x1="0" y1="287" x2="0" y2="500"><stop offset="0.000" stop-color="#000" stop-opacity="0.360"/><stop offset="0.305" stop-color="#000" stop-opacity="0.340"/><stop offset="0.366" stop-color="#000" stop-opacity="0.300"/><stop offset="0.474" stop-color="#000" stop-opacity="0.260"/><stop offset="0.531" stop-color="#000" stop-opacity="0.300"/><stop offset="0.587" stop-color="#000" stop-opacity="0.300"/><stop offset="0.643" stop-color="#000" stop-opacity="0.180"/><stop offset="0.709" stop-color="#000" stop-opacity="0.050"/><stop offset="0.859" stop-color="#000" stop-opacity="0.020"/><stop offset="1.000" stop-color="#000" stop-opacity="0.000"/></linearGradient>
<rect x="1684.9" y="287" width="26.0" height="213" fill="url(#lp7_4)"/>
<linearGradient id="lp7_5" gradientUnits="userSpaceOnUse" x1="0" y1="287" x2="0" y2="500"><stop offset="0.000" stop-color="#000" stop-opacity="0.486"/><stop offset="0.305" stop-color="#000" stop-opacity="0.459"/><stop offset="0.366" stop-color="#000" stop-opacity="0.405"/><stop offset="0.474" stop-color="#000" stop-opacity="0.351"/><stop offset="0.531" stop-color="#000" stop-opacity="0.405"/><stop offset="0.587" stop-color="#000" stop-opacity="0.405"/><stop offset="0.643" stop-color="#000" stop-opacity="0.243"/><stop offset="0.709" stop-color="#000" stop-opacity="0.068"/><stop offset="0.859" stop-color="#000" stop-opacity="0.027"/><stop offset="1.000" stop-color="#000" stop-opacity="0.000"/></linearGradient>
<rect x="1720.5" y="287" width="26.0" height="213" fill="url(#lp7_5)"/>
<linearGradient id="lp7_6" gradientUnits="userSpaceOnUse" x1="0" y1="287" x2="0" y2="500"><stop offset="0.000" stop-color="#000" stop-opacity="0.360"/><stop offset="0.305" stop-color="#000" stop-opacity="0.340"/><stop offset="0.366" stop-color="#000" stop-opacity="0.300"/><stop offset="0.474" stop-color="#000" stop-opacity="0.260"/><stop offset="0.531" stop-color="#000" stop-opacity="0.300"/><stop offset="0.587" stop-color="#000" stop-opacity="0.300"/><stop offset="0.643" stop-color="#000" stop-opacity="0.180"/><stop offset="0.709" stop-color="#000" stop-opacity="0.050"/><stop offset="0.859" stop-color="#000" stop-opacity="0.020"/><stop offset="1.000" stop-color="#000" stop-opacity="0.000"/></linearGradient>
<rect x="1756.4" y="287" width="26.0" height="213" fill="url(#lp7_6)"/>
<linearGradient id="lp7_7" gradientUnits="userSpaceOnUse" x1="0" y1="287" x2="0" y2="500"><stop offset="0.000" stop-color="#000" stop-opacity="0.396"/><stop offset="0.305" stop-color="#000" stop-opacity="0.374"/><stop offset="0.366" stop-color="#000" stop-opacity="0.330"/><stop offset="0.474" stop-color="#000" stop-opacity="0.286"/><stop offset="0.531" stop-color="#000" stop-opacity="0.330"/><stop offset="0.587" stop-color="#000" stop-opacity="0.330"/><stop offset="0.643" stop-color="#000" stop-opacity="0.198"/><stop offset="0.709" stop-color="#000" stop-opacity="0.055"/><stop offset="0.859" stop-color="#000" stop-opacity="0.022"/><stop offset="1.000" stop-color="#000" stop-opacity="0.000"/></linearGradient>
<rect x="1793.3" y="287" width="26.0" height="213" fill="url(#lp7_7)"/>
</g>
<g filter="url(#blur3)">
<rect x="1719.5" y="295.3" width="28.0" height="14.0" rx="4" fill="#000" opacity="0.16"/>
<rect x="1719.5" y="308.5" width="28.0" height="11.0" rx="4" fill="#000" opacity="0.15"/>
<rect x="1719.5" y="328.9" width="28.0" height="14.0" rx="4" fill="#000" opacity="0.16"/>
<rect x="1538.6" y="350.9" width="34.0" height="16.5" rx="4" fill="#000" opacity="0.16"/>
<rect x="1573.9" y="350.4" width="35.0" height="17.5" rx="4" fill="#000" opacity="0.16"/>
<rect x="1609.9" y="351.4" width="34.0" height="16.5" rx="4" fill="#000" opacity="0.14"/>
<rect x="1645.0" y="350.9" width="34.0" height="16.5" rx="4" fill="#000" opacity="0.16"/>
<rect x="1680.4" y="350.9" width="35.0" height="16.5" rx="4" fill="#000" opacity="0.16"/>
<rect x="1715.5" y="349.6" width="36.0" height="19.0" rx="4" fill="#000" opacity="0.16"/>
<rect x="1752.4" y="351.4" width="34.0" height="16.5" rx="4" fill="#000" opacity="0.16"/>
<rect x="1789.3" y="351.4" width="34.0" height="15.5" rx="4" fill="#000" opacity="0.14"/>
<rect x="1682.9" y="387.6" width="30.0" height="14.5" rx="4" fill="#000" opacity="0.16"/>
<rect x="1717.0" y="385.8" width="33.0" height="18.0" rx="4" fill="#000" opacity="0.16"/>
<rect x="1755.4" y="388.1" width="28.0" height="13.5" rx="4" fill="#000" opacity="0.14"/>
<rect x="1790.3" y="386.8" width="32.0" height="16.0" rx="4" fill="#000" opacity="0.16"/>
<rect x="1719.0" y="407.3" width="29.0" height="11.0" rx="4" fill="#000" opacity="0.13"/>
<rect x="1791.8" y="407.3" width="29.0" height="11.0" rx="4" fill="#000" opacity="0.15"/>
<rect x="1682.9" y="411.8" width="30.0" height="13.0" rx="4" fill="#000" opacity="0.16"/>
<rect x="1718.0" y="411.1" width="31.0" height="14.5" rx="4" fill="#000" opacity="0.16"/>
<rect x="1791.3" y="411.8" width="30.0" height="13.0" rx="4" fill="#000" opacity="0.14"/>
</g>
<g filter="url(#blur2)">
<rect x="1542.6" y="294.0" width="26.0" height="4.0" rx="2.0" fill="#000" opacity="0.15"/>
<rect x="1578.4" y="294.0" width="26.0" height="4.0" rx="2.0" fill="#000" opacity="0.15"/>
<rect x="1613.9" y="294.0" width="26.0" height="4.0" rx="2.0" fill="#000" opacity="0.18"/>
<rect x="1649.0" y="294.0" width="26.0" height="4.0" rx="2.0" fill="#000" opacity="0.15"/>
<rect x="1684.9" y="294.0" width="26.0" height="4.0" rx="2.0" fill="#000" opacity="0.25"/>
<rect x="1720.5" y="294.0" width="26.0" height="4.0" rx="2.0" fill="#000" opacity="0.50"/>
<rect x="1756.4" y="294.0" width="26.0" height="4.0" rx="2.0" fill="#000" opacity="0.35"/>
<rect x="1793.3" y="294.0" width="26.0" height="4.0" rx="2.0" fill="#000" opacity="0.25"/>
</g>
<g filter="url(#blur1.6)">
<rect x="1542.6" y="300.1" width="26.0" height="3.5" rx="1.8" fill="#000" opacity="0.20"/>
<rect x="1578.4" y="300.1" width="26.0" height="3.5" rx="1.8" fill="#000" opacity="0.20"/>
<rect x="1613.9" y="300.1" width="26.0" height="3.5" rx="1.8" fill="#000" opacity="0.26"/>
<rect x="1649.0" y="300.1" width="26.0" height="3.5" rx="1.8" fill="#000" opacity="0.20"/>
<rect x="1684.9" y="300.1" width="26.0" height="3.5" rx="1.8" fill="#000" opacity="0.30"/>
<rect x="1720.5" y="298.8" width="26.0" height="6.0" rx="3.0" fill="#000" opacity="0.97"/>
<rect x="1756.4" y="300.1" width="26.0" height="3.5" rx="1.8" fill="#000" opacity="0.40"/>
<rect x="1793.3" y="300.1" width="26.0" height="3.5" rx="1.8" fill="#000" opacity="0.55"/>
</g>
<g filter="url(#blur1.6)">
<rect x="1542.6" y="312.0" width="26.0" height="3.0" rx="1.5" fill="#000" opacity="0.06"/>
<rect x="1578.4" y="312.0" width="26.0" height="3.0" rx="1.5" fill="#000" opacity="0.05"/>
<rect x="1613.9" y="312.0" width="26.0" height="3.0" rx="1.5" fill="#000" opacity="0.10"/>
<rect x="1649.0" y="312.0" width="26.0" height="3.0" rx="1.5" fill="#000" opacity="0.06"/>
<rect x="1684.9" y="312.0" width="26.0" height="3.0" rx="1.5" fill="#000" opacity="0.33"/>
<rect x="1720.5" y="312.0" width="26.0" height="3.0" rx="1.5" fill="#000" opacity="0.92"/>
<rect x="1756.4" y="312.0" width="26.0" height="3.0" rx="1.5" fill="#000" opacity="0.28"/>
<rect x="1793.3" y="312.0" width="26.0" height="3.0" rx="1.5" fill="#000" opacity="0.45"/>
</g>
<g filter="url(#blur2.5)">
<rect x="1542.6" y="322.5" width="26.0" height="5.0" rx="2.5" fill="#000" opacity="0.03"/>
<rect x="1578.4" y="322.5" width="26.0" height="5.0" rx="2.5" fill="#000" opacity="0.03"/>
<rect x="1613.9" y="322.5" width="26.0" height="5.0" rx="2.5" fill="#000" opacity="0.05"/>
<rect x="1649.0" y="322.5" width="26.0" height="5.0" rx="2.5" fill="#000" opacity="0.03"/>
<rect x="1684.9" y="322.5" width="26.0" height="5.0" rx="2.5" fill="#000" opacity="0.15"/>
<rect x="1720.5" y="322.5" width="26.0" height="5.0" rx="2.5" fill="#000" opacity="0.25"/>
<rect x="1756.4" y="322.5" width="26.0" height="5.0" rx="2.5" fill="#000" opacity="0.10"/>
<rect x="1793.3" y="322.5" width="26.0" height="5.0" rx="2.5" fill="#000" opacity="0.25"/>
</g>
<g filter="url(#blur1.8)">
<rect x="1542.6" y="333.1" width="26.0" height="4.5" rx="2.2" fill="#000" opacity="0.26"/>
<rect x="1578.4" y="333.1" width="26.0" height="4.5" rx="2.2" fill="#000" opacity="0.26"/>
<rect x="1613.9" y="333.1" width="26.0" height="4.5" rx="2.2" fill="#000" opacity="0.40"/>
<rect x="1649.0" y="333.1" width="26.0" height="4.5" rx="2.2" fill="#000" opacity="0.30"/>
<rect x="1684.9" y="333.1" width="26.0" height="4.5" rx="2.2" fill="#000" opacity="0.40"/>
<rect x="1720.5" y="332.4" width="26.0" height="6.0" rx="3.0" fill="#000" opacity="0.97"/>
<rect x="1756.4" y="333.1" width="26.0" height="4.5" rx="2.2" fill="#000" opacity="0.40"/>
<rect x="1793.3" y="331.9" width="26.0" height="7.0" rx="3.5" fill="#000" opacity="0.30"/>
</g>
<g filter="url(#blur3)">
<rect x="1540.1" y="351.0" width="31.0" height="12.0" rx="6.0" fill="#000" opacity="0.35"/>
<rect x="1575.9" y="351.0" width="31.0" height="12.0" rx="6.0" fill="#000" opacity="0.35"/>
<rect x="1611.4" y="351.0" width="31.0" height="12.0" rx="6.0" fill="#000" opacity="0.40"/>
<rect x="1646.5" y="351.0" width="31.0" height="12.0" rx="6.0" fill="#000" opacity="0.35"/>
<rect x="1682.4" y="351.0" width="31.0" height="12.0" rx="6.0" fill="#000" opacity="0.40"/>
<rect x="1718.0" y="351.0" width="31.0" height="12.0" rx="6.0" fill="#000" opacity="0.50"/>
<rect x="1753.9" y="351.0" width="31.0" height="12.0" rx="6.0" fill="#000" opacity="0.40"/>
<rect x="1790.8" y="351.0" width="31.0" height="12.0" rx="6.0" fill="#000" opacity="0.35"/>
</g>
<g filter="url(#blur1.8)">
<rect x="1539.6" y="354.4" width="32.0" height="8.5" rx="4.2" fill="#000" opacity="1.00"/>
<rect x="1574.9" y="353.9" width="33.0" height="9.5" rx="4.8" fill="#000" opacity="1.00"/>
<rect x="1610.9" y="354.9" width="32.0" height="8.5" rx="4.2" fill="#000" opacity="0.90"/>
<rect x="1646.0" y="354.4" width="32.0" height="8.5" rx="4.2" fill="#000" opacity="0.97"/>
<rect x="1681.4" y="354.4" width="33.0" height="8.5" rx="4.2" fill="#000" opacity="0.97"/>
<rect x="1716.5" y="353.1" width="34.0" height="11.0" rx="5.5" fill="#000" opacity="1.00"/>
<rect x="1753.4" y="354.9" width="32.0" height="8.5" rx="4.2" fill="#000" opacity="0.97"/>
<rect x="1790.3" y="354.9" width="32.0" height="7.5" rx="3.8" fill="#000" opacity="0.85"/>
</g>
<g filter="url(#blur2)">
<rect x="1543.1" y="391.3" width="25.0" height="6.0" rx="3.0" fill="#000" opacity="0.20"/>
<rect x="1578.9" y="391.3" width="25.0" height="6.0" rx="3.0" fill="#000" opacity="0.26"/>
<rect x="1614.4" y="391.3" width="25.0" height="6.0" rx="3.0" fill="#000" opacity="0.40"/>
<rect x="1649.5" y="391.3" width="25.0" height="6.0" rx="3.0" fill="#000" opacity="0.40"/>
<rect x="1683.9" y="391.1" width="28.0" height="6.5" rx="3.2" fill="#000" opacity="0.97"/>
<rect x="1718.0" y="389.3" width="31.0" height="10.0" rx="5.0" fill="#000" opacity="1.00"/>
<rect x="1756.4" y="391.6" width="26.0" height="5.5" rx="2.8" fill="#000" opacity="0.88"/>
<rect x="1791.3" y="390.3" width="30.0" height="8.0" rx="4.0" fill="#000" opacity="1.00"/>
</g>
<g filter="url(#blur2)">
<rect x="1578.9" y="399.0" width="25.0" height="4.0" rx="2.0" fill="#000" opacity="0.12"/>
<rect x="1614.4" y="399.0" width="25.0" height="4.0" rx="2.0" fill="#000" opacity="0.18"/>
<rect x="1649.5" y="399.0" width="25.0" height="4.0" rx="2.0" fill="#000" opacity="0.15"/>
<rect x="1685.4" y="399.0" width="25.0" height="4.0" rx="2.0" fill="#000" opacity="0.20"/>
<rect x="1721.0" y="399.0" width="25.0" height="4.0" rx="2.0" fill="#000" opacity="0.30"/>
<rect x="1756.9" y="399.0" width="25.0" height="4.0" rx="2.0" fill="#000" opacity="0.20"/>
<rect x="1793.8" y="399.0" width="25.0" height="4.0" rx="2.0" fill="#000" opacity="0.30"/>
</g>
<g filter="url(#blur1.6)">
<rect x="1684.4" y="410.8" width="27.0" height="3.0" rx="1.5" fill="#000" opacity="0.60"/>
<rect x="1720.0" y="410.8" width="27.0" height="3.0" rx="1.5" fill="#000" opacity="0.82"/>
<rect x="1755.9" y="410.8" width="27.0" height="3.0" rx="1.5" fill="#000" opacity="0.28"/>
<rect x="1792.8" y="410.8" width="27.0" height="3.0" rx="1.5" fill="#000" opacity="0.95"/>
</g>
<g filter="url(#blur1.8)">
<rect x="1543.1" y="415.8" width="25.0" height="4.0" rx="2.0" fill="#000" opacity="0.28"/>
<rect x="1578.9" y="415.8" width="25.0" height="4.0" rx="2.0" fill="#000" opacity="0.25"/>
<rect x="1614.4" y="415.6" width="25.0" height="4.5" rx="2.2" fill="#000" opacity="0.45"/>
<rect x="1649.5" y="415.8" width="25.0" height="4.0" rx="2.0" fill="#000" opacity="0.45"/>
<rect x="1683.9" y="415.3" width="28.0" height="5.0" rx="2.5" fill="#000" opacity="0.97"/>
<rect x="1719.0" y="414.6" width="29.0" height="6.5" rx="3.2" fill="#000" opacity="1.00"/>
<rect x="1756.4" y="415.7" width="26.0" height="4.2" rx="2.1" fill="#000" opacity="0.55"/>
<rect x="1792.3" y="415.3" width="28.0" height="5.0" rx="2.5" fill="#000" opacity="0.88"/>
</g>
<g filter="url(#blur1.8)">
<rect x="1543.6" y="441.9" width="24.0" height="3.5" rx="1.8" fill="#000" opacity="0.10"/>
<rect x="1614.9" y="441.9" width="24.0" height="3.5" rx="1.8" fill="#000" opacity="0.33"/>
<rect x="1685.9" y="441.9" width="24.0" height="3.5" rx="1.8" fill="#000" opacity="0.03"/>
</g>
<g filter="url(#blur3)">
<rect x="1684.9" y="448.5" width="26.0" height="6.0" rx="3.0" fill="#000" opacity="0.12"/>
<rect x="1720.5" y="448.5" width="26.0" height="6.0" rx="3.0" fill="#000" opacity="0.18"/>
<rect x="1756.4" y="448.5" width="26.0" height="6.0" rx="3.0" fill="#000" opacity="0.05"/>
<rect x="1793.3" y="448.5" width="26.0" height="6.0" rx="3.0" fill="#000" opacity="0.03"/>
</g>
<circle cx="1731.1" cy="452" r="3.4" fill="#eee" filter="url(#blur1)"/>
</g>
<rect x="1535.8" y="289.1" width="293.4" height="226.7" fill="none" stroke="#000" stroke-width="1.8"/>
<text x="1475.5" y="347.8" font-size="15">70kDa</text>
<line x1="1520.5" y1="350.3" x2="1538.0" y2="350.3" stroke="#000" stroke-width="1.8"/>
<text x="1524.0" y="400.0" font-size="21.5" text-anchor="middle" transform="rotate(-90 1524.0 400.0)">ADMA</text>
<polyline points="1905.0,238.0 1905.0,183.2 1934.1,183.2 1934.1,238.0" fill="none" stroke="#000" stroke-width="2.15"/>
<polyline points="1951.6,238.0 1951.6,127.5 1980.7,127.5 1980.7,238.0" fill="none" stroke="#ff0000" stroke-width="2.15"/>
<line x1="1888.1" y1="72.2" x2="1888.1" y2="239.0" stroke="#000" stroke-width="2"/>
<line x1="1887.1" y1="238.0" x2="1998.6" y2="238.0" stroke="#000" stroke-width="2"/>
<line x1="1880.1" y1="237.7" x2="1888.1" y2="237.7" stroke="#000" stroke-width="2"/>
<text x="1879.8" y="243.3" font-size="15.5" text-anchor="end">0</text>
<line x1="1880.1" y1="182.9" x2="1888.1" y2="182.9" stroke="#000" stroke-width="2"/>
<text x="1879.8" y="188.5" font-size="15.5" text-anchor="end">1</text>
<line x1="1880.1" y1="128.0" x2="1888.1" y2="128.0" stroke="#000" stroke-width="2"/>
<text x="1879.8" y="133.6" font-size="15.5" text-anchor="end">2</text>
<line x1="1880.1" y1="73.2" x2="1888.1" y2="73.2" stroke="#000" stroke-width="2"/>
<text x="1879.8" y="78.8" font-size="15.5" text-anchor="end">3</text>
<line x1="1918.9" y1="238.0" x2="1918.9" y2="245.0" stroke="#000" stroke-width="2"/>
<text x="1923.9" y="259.0" font-size="16" text-anchor="end" transform="rotate(-45 1923.9 259.0)">ND</text>
<line x1="1966.2" y1="238.0" x2="1966.2" y2="245.0" stroke="#000" stroke-width="2"/>
<text x="1971.2" y="259.0" font-size="16" text-anchor="end" transform="rotate(-45 1971.2 259.0)">HFD</text>
<text x="1861.0" y="153.8" font-size="18" text-anchor="middle" transform="rotate(-90 1861.0 153.8)">Relative amount of MMA</text>
<line x1="1919.5" y1="178.8" x2="1919.5" y2="187.4" stroke="#000" stroke-width="1.3"/>
<line x1="1913.0" y1="178.8" x2="1926.0" y2="178.8" stroke="#000" stroke-width="1.3"/>
<line x1="1913.0" y1="187.4" x2="1926.0" y2="187.4" stroke="#000" stroke-width="1.3"/>
<line x1="1966.6" y1="115.9" x2="1966.6" y2="138.7" stroke="#ff0000" stroke-width="1.3"/>
<line x1="1959.1" y1="115.9" x2="1974.1" y2="115.9" stroke="#ff0000" stroke-width="1.3"/>
<line x1="1959.1" y1="138.7" x2="1974.1" y2="138.7" stroke="#ff0000" stroke-width="1.3"/>
<circle cx="1913.0" cy="176.6" r="4" fill="#000"/>
<circle cx="1926.1" cy="176.0" r="4" fill="#000"/>
<circle cx="1912.4" cy="191.1" r="4" fill="#000"/>
<circle cx="1926.1" cy="190.0" r="4" fill="#000"/>
<rect x="1963.1" y="98.9" width="7.0" height="7.0" fill="#ff0000"/>
<rect x="1956.2" y="118.9" width="7.0" height="7.0" fill="#ff0000"/>
<rect x="1969.6" y="123.7" width="7.0" height="7.0" fill="#ff0000"/>
<rect x="1963.1" y="154.7" width="7.0" height="7.0" fill="#ff0000"/>
<text x="1908.1" y="83.4" font-size="13.9"><tspan font-style="italic">P</tspan>=0.0038</text>
<polyline points="1910.2,96.8 1910.2,88.8 1966.6,88.8 1966.6,96.8" fill="none" stroke="#000" stroke-width="2"/>
<polyline points="1905.2,486.0 1905.2,430.7 1934.3,430.7 1934.3,486.0" fill="none" stroke="#000" stroke-width="2.15"/>
<polyline points="1952.0,486.0 1952.0,388.6 1981.7,388.6 1981.7,486.0" fill="none" stroke="#ff0000" stroke-width="2.15"/>
<line x1="1888.3" y1="319.1" x2="1888.3" y2="487.0" stroke="#000" stroke-width="2"/>
<line x1="1887.3" y1="486.0" x2="1998.6" y2="486.0" stroke="#000" stroke-width="2"/>
<line x1="1880.3" y1="485.7" x2="1888.3" y2="485.7" stroke="#000" stroke-width="2"/>
<text x="1880.0" y="491.3" font-size="15.5" text-anchor="end">0</text>
<line x1="1880.3" y1="430.5" x2="1888.3" y2="430.5" stroke="#000" stroke-width="2"/>
<text x="1880.0" y="436.1" font-size="15.5" text-anchor="end">1</text>
<line x1="1880.3" y1="375.3" x2="1888.3" y2="375.3" stroke="#000" stroke-width="2"/>
<text x="1880.0" y="380.9" font-size="15.5" text-anchor="end">2</text>
<line x1="1880.3" y1="320.1" x2="1888.3" y2="320.1" stroke="#000" stroke-width="2"/>
<text x="1880.0" y="325.7" font-size="15.5" text-anchor="end">3</text>
<line x1="1919.4" y1="486.0" x2="1919.4" y2="493.0" stroke="#000" stroke-width="2"/>
<text x="1924.4" y="507.0" font-size="16" text-anchor="end" transform="rotate(-45 1924.4 507.0)">ND</text>
<line x1="1966.7" y1="486.0" x2="1966.7" y2="493.0" stroke="#000" stroke-width="2"/>
<text x="1971.7" y="507.0" font-size="16" text-anchor="end" transform="rotate(-45 1971.7 507.0)">HFD</text>
<text x="1861.5" y="400.8" font-size="18" text-anchor="middle" transform="rotate(-90 1861.5 400.8)">Relative amount of ADMA</text>
<line x1="1919.4" y1="425.7" x2="1919.4" y2="435.4" stroke="#000" stroke-width="1.3"/>
<line x1="1912.9" y1="425.7" x2="1925.9" y2="425.7" stroke="#000" stroke-width="1.3"/>
<line x1="1912.9" y1="435.4" x2="1925.9" y2="435.4" stroke="#000" stroke-width="1.3"/>
<line x1="1966.7" y1="380.3" x2="1966.7" y2="395.3" stroke="#ff0000" stroke-width="1.3"/>
<line x1="1959.2" y1="380.3" x2="1974.2" y2="380.3" stroke="#ff0000" stroke-width="1.3"/>
<line x1="1959.2" y1="395.3" x2="1974.2" y2="395.3" stroke="#ff0000" stroke-width="1.3"/>
<circle cx="1919.4" cy="425.0" r="3.6" fill="#000"/>
<circle cx="1932.0" cy="421.6" r="3.6" fill="#000"/>
<circle cx="1919.4" cy="433.5" r="3.6" fill="#000"/>
<circle cx="1919.4" cy="442.0" r="3.6" fill="#000"/>
<rect x="1963.7" y="362.7" width="7.0" height="7.0" fill="#ff0000"/>
<rect x="1975.4" y="387.0" width="7.0" height="7.0" fill="#ff0000"/>
<rect x="1963.7" y="389.9" width="7.0" height="7.0" fill="#ff0000"/>
<rect x="1963.2" y="398.4" width="7.0" height="7.0" fill="#ff0000"/>
<text x="1915.5" y="340.2" font-size="13.9"><tspan font-style="italic">P</tspan>=0.0029</text>
<polyline points="1919.4,352.1 1919.4,344.4 1966.7,344.4 1966.7,352.1" fill="none" stroke="#000" stroke-width="2"/>
<text x="768.6" y="565.5" font-size="26.5" font-weight="bold">f</text>
<line x1="844.6" y1="585.9" x2="844.6" y2="772.7" stroke="#000" stroke-width="2"/>
<line x1="843.6" y1="771.7" x2="1044.7" y2="771.7" stroke="#000" stroke-width="2.2"/>
<line x1="844.6" y1="771.7" x2="1043.7" y2="771.7" stroke="#fff" stroke-width="0.6" stroke-dasharray="1 3" opacity="0.5"/>
<line x1="844.6" y1="771.7" x2="844.6" y2="779.2" stroke="#000" stroke-width="2"/>
<text x="844.6" y="796.2" font-size="16.5" text-anchor="middle">20</text>
<line x1="894.4" y1="771.7" x2="894.4" y2="779.2" stroke="#000" stroke-width="2"/>
<text x="894.4" y="796.2" font-size="16.5" text-anchor="middle">23</text>
<line x1="944.2" y1="771.7" x2="944.2" y2="779.2" stroke="#000" stroke-width="2"/>
<text x="944.2" y="796.2" font-size="16.5" text-anchor="middle">26</text>
<line x1="993.9" y1="771.7" x2="993.9" y2="779.2" stroke="#000" stroke-width="2"/>
<text x="993.9" y="796.2" font-size="16.5" text-anchor="middle">29</text>
<line x1="1043.7" y1="771.7" x2="1043.7" y2="779.2" stroke="#000" stroke-width="2"/>
<text x="1043.7" y="796.2" font-size="16.5" text-anchor="middle">32</text>
<line x1="836.6" y1="771.7" x2="844.6" y2="771.7" stroke="#000" stroke-width="2"/>
<text x="835.1" y="777.3" font-size="15.5" text-anchor="end">0.0</text>
<line x1="836.6" y1="710.1" x2="844.6" y2="710.1" stroke="#000" stroke-width="2"/>
<text x="835.1" y="715.7" font-size="15.5" text-anchor="end">0.1</text>
<line x1="836.6" y1="648.5" x2="844.6" y2="648.5" stroke="#000" stroke-width="2"/>
<text x="835.1" y="654.1" font-size="15.5" text-anchor="end">0.2</text>
<line x1="836.6" y1="586.9" x2="844.6" y2="586.9" stroke="#000" stroke-width="2"/>
<text x="835.1" y="592.5" font-size="15.5" text-anchor="end">0.3</text>
<text x="804.5" y="677.3" font-size="18.2" text-anchor="middle" transform="rotate(-90 804.5 677.3)">Relative amount of MMA</text>
<text x="944.0" y="820.8" font-size="18.2" text-anchor="middle">BMI</text>
<text x="852.9" y="760.9" font-size="16"><tspan font-style="italic">P</tspan>=0.1656</text>
<line x1="886.2" y1="677.4" x2="1032.5" y2="637.3" stroke="#0000ff" stroke-width="3"/>
<circle cx="886.2" cy="718.8" r="3.6" fill="#ff0000"/>
<circle cx="892.2" cy="694.3" r="3.6" fill="#ff0000"/>
<circle cx="894.6" cy="658.4" r="3.6" fill="#ff0000"/>
<circle cx="923.2" cy="673.0" r="3.6" fill="#ff0000"/>
<circle cx="945.6" cy="629.5" r="3.6" fill="#ff0000"/>
<circle cx="947.9" cy="649.1" r="3.6" fill="#ff0000"/>
<circle cx="952.1" cy="654.5" r="3.6" fill="#ff0000"/>
<circle cx="956.3" cy="632.7" r="3.6" fill="#ff0000"/>
<circle cx="957.0" cy="678.0" r="3.6" fill="#ff0000"/>
<circle cx="964.1" cy="616.3" r="3.6" fill="#ff0000"/>
<circle cx="1006.2" cy="661.8" r="3.6" fill="#ff0000"/>
<circle cx="1032.5" cy="665.7" r="3.6" fill="#ff0000"/>
<text x="767.2" y="863.0" font-size="26.5" font-weight="bold">i</text>
<line x1="844.1" y1="876.7" x2="844.1" y2="1063.0" stroke="#000" stroke-width="2"/>
<line x1="843.1" y1="1062.0" x2="1044.2" y2="1062.0" stroke="#000" stroke-width="2.2"/>
<line x1="844.1" y1="1062" x2="1043.2" y2="1062" stroke="#fff" stroke-width="0.6" stroke-dasharray="1 3" opacity="0.5"/>
<line x1="844.1" y1="1062.0" x2="844.1" y2="1069.5" stroke="#000" stroke-width="2"/>
<text x="844.1" y="1086.0" font-size="16.5" text-anchor="middle">20</text>
<line x1="893.9" y1="1062.0" x2="893.9" y2="1069.5" stroke="#000" stroke-width="2"/>
<text x="893.9" y="1086.0" font-size="16.5" text-anchor="middle">23</text>
<line x1="943.7" y1="1062.0" x2="943.7" y2="1069.5" stroke="#000" stroke-width="2"/>
<text x="943.7" y="1086.0" font-size="16.5" text-anchor="middle">26</text>
<line x1="993.4" y1="1062.0" x2="993.4" y2="1069.5" stroke="#000" stroke-width="2"/>
<text x="993.4" y="1086.0" font-size="16.5" text-anchor="middle">29</text>
<line x1="1043.2" y1="1062.0" x2="1043.2" y2="1069.5" stroke="#000" stroke-width="2"/>
<text x="1043.2" y="1086.0" font-size="16.5" text-anchor="middle">32</text>
<line x1="836.1" y1="1062.0" x2="844.1" y2="1062.0" stroke="#000" stroke-width="2"/>
<text x="834.6" y="1067.6" font-size="15.5" text-anchor="end">0.0</text>
<line x1="836.1" y1="1015.9" x2="844.1" y2="1015.9" stroke="#000" stroke-width="2"/>
<text x="834.6" y="1021.5" font-size="15.5" text-anchor="end">0.2</text>
<line x1="836.1" y1="969.9" x2="844.1" y2="969.9" stroke="#000" stroke-width="2"/>
<text x="834.6" y="975.5" font-size="15.5" text-anchor="end">0.4</text>
<line x1="836.1" y1="923.8" x2="844.1" y2="923.8" stroke="#000" stroke-width="2"/>
<text x="834.6" y="929.4" font-size="15.5" text-anchor="end">0.6</text>
<line x1="836.1" y1="877.7" x2="844.1" y2="877.7" stroke="#000" stroke-width="2"/>
<text x="834.6" y="883.3" font-size="15.5" text-anchor="end">0.8</text>
<text x="803.5" y="967.5" font-size="18.2" text-anchor="middle" transform="rotate(-90 803.5 967.5)">Relative amount of ADMA</text>
<text x="943.5" y="1111.5" font-size="18.2" text-anchor="middle">BMI</text>
<text x="851.6" y="1051.3" font-size="16"><tspan font-style="italic">P</tspan>=0.0237</text>
<line x1="885.2" y1="960.0" x2="1032.0" y2="925.4" stroke="#0000ff" stroke-width="3"/>
<circle cx="885.2" cy="975.1" r="3.6" fill="#ff0000"/>
<circle cx="891.4" cy="969.4" r="3.6" fill="#ff0000"/>
<circle cx="893.8" cy="955.3" r="3.6" fill="#ff0000"/>
<circle cx="922.4" cy="959.5" r="3.6" fill="#ff0000"/>
<circle cx="945.1" cy="942.0" r="3.6" fill="#ff0000"/>
<circle cx="946.9" cy="923.3" r="3.6" fill="#ff0000"/>
<circle cx="951.3" cy="934.5" r="3.6" fill="#ff0000"/>
<circle cx="955.7" cy="925.4" r="3.6" fill="#ff0000"/>
<circle cx="956.0" cy="944.1" r="3.6" fill="#ff0000"/>
<circle cx="963.3" cy="943.3" r="3.6" fill="#ff0000"/>
<circle cx="1005.4" cy="939.7" r="3.6" fill="#ff0000"/>
<circle cx="1032.0" cy="940.7" r="3.6" fill="#ff0000"/>
<text x="1068.8" y="563.0" font-size="26.5" font-weight="bold">g</text>
<polyline points="1191.5,783.3 1191.5,722.0 1224.6,722.0 1224.6,783.3" fill="none" stroke="#000" stroke-width="2.15"/>
<polyline points="1244.8,783.3 1244.8,666.8 1277.5,666.8 1277.5,783.3" fill="none" stroke="#ff0000" stroke-width="2.15"/>
<line x1="1172.4" y1="596.2" x2="1172.4" y2="784.3" stroke="#000" stroke-width="2"/>
<line x1="1171.4" y1="783.3" x2="1297.3" y2="783.3" stroke="#000" stroke-width="2"/>
<line x1="1164.4" y1="783.3" x2="1172.4" y2="783.3" stroke="#000" stroke-width="2"/>
<text x="1162.4" y="789.6" font-size="17.5" text-anchor="end">0.5</text>
<line x1="1164.4" y1="721.3" x2="1172.4" y2="721.3" stroke="#000" stroke-width="2"/>
<text x="1162.4" y="727.6" font-size="17.5" text-anchor="end">1.0</text>
<line x1="1164.4" y1="659.2" x2="1172.4" y2="659.2" stroke="#000" stroke-width="2"/>
<text x="1162.4" y="665.5" font-size="17.5" text-anchor="end">1.5</text>
<line x1="1164.4" y1="597.2" x2="1172.4" y2="597.2" stroke="#000" stroke-width="2"/>
<text x="1162.4" y="603.5" font-size="17.5" text-anchor="end">2.0</text>
<line x1="1207.5" y1="783.3" x2="1207.5" y2="792.1" stroke="#000" stroke-width="2"/>
<text x="1214.5" y="807.3" font-size="18" text-anchor="end" transform="rotate(-45 1214.5 807.3)">BMI&lt;25</text>
<line x1="1260.9" y1="783.3" x2="1260.9" y2="792.1" stroke="#000" stroke-width="2"/>
<text x="1267.9" y="807.3" font-size="18" text-anchor="end" transform="rotate(-45 1267.9 807.3)">BMI&gt;25</text>
<text x="1126.0" y="687.5" font-size="20.2" text-anchor="middle" transform="rotate(-90 1126.0 687.5)">Relative amount of MMA</text>
<line x1="1207.8" y1="702.3" x2="1207.8" y2="740.3" stroke="#000" stroke-width="1.3"/>
<line x1="1199.0" y1="702.3" x2="1216.6" y2="702.3" stroke="#000" stroke-width="1.3"/>
<line x1="1199.0" y1="740.3" x2="1216.6" y2="740.3" stroke="#000" stroke-width="1.3"/>
<line x1="1260.9" y1="655.8" x2="1260.9" y2="677.6" stroke="#ff0000" stroke-width="1.3"/>
<line x1="1252.1" y1="655.8" x2="1269.8" y2="655.8" stroke="#ff0000" stroke-width="1.3"/>
<line x1="1252.1" y1="677.6" x2="1269.8" y2="677.6" stroke="#ff0000" stroke-width="1.3"/>
<circle cx="1207.8" cy="681.5" r="3.8" fill="#000"/>
<circle cx="1207.8" cy="702.6" r="3.8" fill="#000"/>
<circle cx="1207.8" cy="733.3" r="3.8" fill="#000"/>
<circle cx="1207.8" cy="768.7" r="3.8" fill="#000"/>
<rect x="1257.3" y="616.3" width="7.6" height="7.6" fill="#ff0000"/>
<rect x="1243.0" y="635.0" width="7.6" height="7.6" fill="#ff0000"/>
<rect x="1256.8" y="640.0" width="7.6" height="7.6" fill="#ff0000"/>
<rect x="1257.3" y="662.4" width="7.6" height="7.6" fill="#ff0000"/>
<rect x="1256.8" y="670.7" width="7.6" height="7.6" fill="#ff0000"/>
<rect x="1271.1" y="682.7" width="7.6" height="7.6" fill="#ff0000"/>
<rect x="1256.8" y="688.9" width="7.6" height="7.6" fill="#ff0000"/>
<rect x="1256.8" y="706.3" width="7.6" height="7.6" fill="#ff0000"/>
<text x="1203.9" y="590.7" font-size="15"><tspan font-style="italic">P</tspan>=0.0214</text>
<polyline points="1207.5,604.2 1207.5,596.4 1260.9,596.4 1260.9,604.2" fill="none" stroke="#000" stroke-width="2"/>
<text x="1074.0" y="866.5" font-size="26.5" font-weight="bold">j</text>
<polyline points="1191.3,1071.6 1191.3,1009.9 1224.2,1009.9 1224.2,1071.6" fill="none" stroke="#000" stroke-width="2.15"/>
<polyline points="1243.8,1071.6 1243.8,974.4 1277.1,974.4 1277.1,1071.6" fill="none" stroke="#ff0000" stroke-width="2.15"/>
<line x1="1172.5" y1="884.5" x2="1172.5" y2="1072.6" stroke="#000" stroke-width="2"/>
<line x1="1171.5" y1="1071.6" x2="1297.1" y2="1071.6" stroke="#000" stroke-width="2"/>
<line x1="1164.5" y1="1071.6" x2="1172.5" y2="1071.6" stroke="#000" stroke-width="2"/>
<text x="1162.5" y="1077.9" font-size="17.5" text-anchor="end">0.5</text>
<line x1="1164.5" y1="1009.6" x2="1172.5" y2="1009.6" stroke="#000" stroke-width="2"/>
<text x="1162.5" y="1015.9" font-size="17.5" text-anchor="end">1.0</text>
<line x1="1164.5" y1="947.5" x2="1172.5" y2="947.5" stroke="#000" stroke-width="2"/>
<text x="1162.5" y="953.8" font-size="17.5" text-anchor="end">1.5</text>
<line x1="1164.5" y1="885.5" x2="1172.5" y2="885.5" stroke="#000" stroke-width="2"/>
<text x="1162.5" y="891.8" font-size="17.5" text-anchor="end">2.0</text>
<line x1="1207.2" y1="1071.6" x2="1207.2" y2="1080.4" stroke="#000" stroke-width="2"/>
<text x="1214.2" y="1095.6" font-size="18" text-anchor="end" transform="rotate(-45 1214.2 1095.6)">BMI&lt;25</text>
<line x1="1260.3" y1="1071.6" x2="1260.3" y2="1080.4" stroke="#000" stroke-width="2"/>
<text x="1267.3" y="1095.6" font-size="18" text-anchor="end" transform="rotate(-45 1267.3 1095.6)">BMI&gt;25</text>
<text x="1128.0" y="976.8" font-size="20.2" text-anchor="middle" transform="rotate(-90 1128.0 976.8)">Relative amount of ADMA</text>
<line x1="1207.6" y1="1003.8" x2="1207.6" y2="1015.6" stroke="#000" stroke-width="1.3"/>
<line x1="1198.8" y1="1003.8" x2="1216.4" y2="1003.8" stroke="#000" stroke-width="1.3"/>
<line x1="1198.8" y1="1015.6" x2="1216.4" y2="1015.6" stroke="#000" stroke-width="1.3"/>
<line x1="1260.6" y1="970.4" x2="1260.6" y2="978.3" stroke="#ff0000" stroke-width="1.3"/>
<line x1="1251.8" y1="970.4" x2="1269.4" y2="970.4" stroke="#ff0000" stroke-width="1.3"/>
<line x1="1251.8" y1="978.3" x2="1269.4" y2="978.3" stroke="#ff0000" stroke-width="1.3"/>
<circle cx="1200.1" cy="1003.0" r="3.8" fill="#000"/>
<circle cx="1215.1" cy="998.5" r="3.8" fill="#000"/>
<circle cx="1215.1" cy="1015.6" r="3.8" fill="#000"/>
<circle cx="1200.1" cy="1023.0" r="3.8" fill="#000"/>
<rect x="1253.4" y="953.2" width="7.6" height="7.6" fill="#ff0000"/>
<rect x="1260.5" y="955.8" width="7.6" height="7.6" fill="#ff0000"/>
<rect x="1263.9" y="967.7" width="7.6" height="7.6" fill="#ff0000"/>
<rect x="1256.8" y="971.9" width="7.6" height="7.6" fill="#ff0000"/>
<rect x="1250.7" y="975.0" width="7.6" height="7.6" fill="#ff0000"/>
<rect x="1271.0" y="975.8" width="7.6" height="7.6" fill="#ff0000"/>
<rect x="1243.4" y="979.0" width="7.6" height="7.6" fill="#ff0000"/>
<rect x="1257.3" y="978.4" width="7.6" height="7.6" fill="#ff0000"/>
<rect x="1270.4" y="980.3" width="7.6" height="7.6" fill="#ff0000"/>
<text x="1203.8" y="919.7" font-size="15"><tspan font-style="italic">P</tspan>=0.0003</text>
<polyline points="1207.2,934.6 1207.2,926.2 1260.6,926.2 1260.6,934.6" fill="none" stroke="#000" stroke-width="2"/>
<text x="1191.0" y="1152.0" font-size="6" text-anchor="middle" fill="#333">A</text>
<text x="225.2" y="772.2" font-size="26.5" font-weight="bold">h</text>
<polygon points="299.6,812.7 668.7,793 668.7,812.7" fill="#000"/>
<text x="242.8" y="833.2" font-size="19" font-weight="bold">BMI</text>
<text x="313.6" y="832.4" font-size="12" text-anchor="middle">22.5</text>
<text x="348.7" y="832.4" font-size="12" text-anchor="middle">22.9</text>
<text x="378.1" y="832.4" font-size="12" text-anchor="middle">23</text>
<text x="411.4" y="832.4" font-size="12" text-anchor="middle">24.7</text>
<text x="440.8" y="832.4" font-size="12" text-anchor="middle">26.1</text>
<text x="469.4" y="832.4" font-size="12" text-anchor="middle">26.2</text>
<text x="499.2" y="832.4" font-size="12" text-anchor="middle">26.5</text>
<text x="531.4" y="832.4" font-size="12" text-anchor="middle">26.7</text>
<text x="562.6" y="832.4" font-size="12" text-anchor="middle">26.8</text>
<text x="595.2" y="832.4" font-size="12" text-anchor="middle">27.2</text>
<text x="624.9" y="832.4" font-size="12" text-anchor="middle">29.8</text>
<text x="656.8" y="832.4" font-size="12" text-anchor="middle">31.4</text>
<clipPath id="cp8"><rect x="297.2" y="840" width="376.59999999999997" height="235.79999999999995"/></clipPath>
<linearGradient id="bg8" x1="0" y1="0" x2="0" y2="1"><stop offset="0" stop-color="#e9e9e9"/><stop offset="1" stop-color="#efefef"/></linearGradient>
<rect x="297.2" y="840.0" width="376.6" height="235.8" fill="url(#bg8)"/>
<g clip-path="url(#cp8)">
<g filter="url(#blur3)">
<rect x="305.6" y="842.0" width="22.0" height="218.0" fill="#000" opacity="0.03"/>
<rect x="336.0" y="842.0" width="22.0" height="218.0" fill="#000" opacity="0.04"/>
<rect x="368.0" y="842.0" width="22.0" height="218.0" fill="#000" opacity="0.06"/>
<rect x="397.8" y="842.0" width="22.0" height="218.0" fill="#000" opacity="0.04"/>
<rect x="429.5" y="842.0" width="22.0" height="218.0" fill="#000" opacity="0.05"/>
<rect x="457.8" y="842.0" width="22.0" height="218.0" fill="#000" opacity="0.05"/>
<rect x="489.5" y="842.0" width="22.0" height="218.0" fill="#000" opacity="0.03"/>
<rect x="521.7" y="842.0" width="22.0" height="218.0" fill="#000" opacity="0.06"/>
<rect x="552.0" y="842.0" width="22.0" height="218.0" fill="#000" opacity="0.03"/>
<rect x="583.8" y="842.0" width="22.0" height="218.0" fill="#000" opacity="0.05"/>
<rect x="613.9" y="842.0" width="22.0" height="218.0" fill="#000" opacity="0.04"/>
<rect x="646.3" y="842.0" width="22.0" height="218.0" fill="#000" opacity="0.03"/>
</g>
<g filter="url(#blur3)">
<rect x="304.6" y="848.8" width="24.0" height="10.6" rx="4" fill="#000" opacity="0.16"/>
<rect x="520.7" y="860.5" width="24.0" height="11.0" rx="4" fill="#000" opacity="0.14"/>
<rect x="303.1" y="942.4" width="27.0" height="15.5" rx="4" fill="#000" opacity="0.14"/>
<rect x="333.5" y="943.1" width="27.0" height="15.0" rx="4" fill="#000" opacity="0.14"/>
<rect x="364.5" y="942.6" width="29.0" height="17.0" rx="4" fill="#000" opacity="0.16"/>
<rect x="394.8" y="942.4" width="28.0" height="16.5" rx="4" fill="#000" opacity="0.16"/>
<rect x="425.5" y="942.6" width="30.0" height="19.0" rx="4" fill="#000" opacity="0.16"/>
<rect x="453.8" y="942.1" width="30.0" height="19.0" rx="4" fill="#000" opacity="0.16"/>
<rect x="486.5" y="941.9" width="28.0" height="16.5" rx="4" fill="#000" opacity="0.14"/>
<rect x="517.7" y="941.4" width="30.0" height="18.5" rx="4" fill="#000" opacity="0.16"/>
<rect x="549.5" y="942.4" width="27.0" height="15.5" rx="4" fill="#000" opacity="0.15"/>
<rect x="579.8" y="941.9" width="30.0" height="18.5" rx="4" fill="#000" opacity="0.16"/>
<rect x="610.4" y="942.1" width="29.0" height="17.0" rx="4" fill="#000" opacity="0.16"/>
</g>
<g filter="url(#blur0.8)">
<rect x="305.6" y="852.3" width="22.0" height="2.6" rx="1.3" fill="#000" opacity="1.00"/>
<rect x="368.0" y="852.3" width="22.0" height="2.6" rx="1.3" fill="#000" opacity="0.05"/>
<rect x="397.8" y="852.3" width="22.0" height="2.6" rx="1.3" fill="#000" opacity="0.05"/>
<rect x="457.8" y="852.3" width="22.0" height="2.6" rx="1.3" fill="#000" opacity="0.05"/>
<rect x="521.7" y="852.3" width="22.0" height="2.6" rx="1.3" fill="#000" opacity="0.05"/>
<rect x="552.0" y="852.3" width="22.0" height="2.6" rx="1.3" fill="#000" opacity="0.45"/>
<rect x="613.9" y="852.3" width="22.0" height="2.6" rx="1.3" fill="#000" opacity="0.08"/>
</g>
<g filter="url(#blur1.4)">
<rect x="305.6" y="865.5" width="22.0" height="3.0" rx="1.5" fill="#000" opacity="0.05"/>
<rect x="336.0" y="865.5" width="22.0" height="3.0" rx="1.5" fill="#000" opacity="0.45"/>
<rect x="368.0" y="865.0" width="22.0" height="3.0" rx="1.5" fill="#000" opacity="0.52"/>
<rect x="397.8" y="865.0" width="22.0" height="3.0" rx="1.5" fill="#000" opacity="0.36"/>
<rect x="429.5" y="865.0" width="22.0" height="3.0" rx="1.5" fill="#000" opacity="0.36"/>
<rect x="457.8" y="864.5" width="22.0" height="3.0" rx="1.5" fill="#000" opacity="0.45"/>
<rect x="489.5" y="865.5" width="22.0" height="3.0" rx="1.5" fill="#000" opacity="0.15"/>
<rect x="521.7" y="864.0" width="22.0" height="3.0" rx="1.5" fill="#000" opacity="0.85"/>
<rect x="552.0" y="864.5" width="22.0" height="3.0" rx="1.5" fill="#000" opacity="0.42"/>
<rect x="583.8" y="865.5" width="22.0" height="3.0" rx="1.5" fill="#000" opacity="0.55"/>
<rect x="613.9" y="865.5" width="22.0" height="3.0" rx="1.5" fill="#000" opacity="0.40"/>
<rect x="646.3" y="866.0" width="22.0" height="3.0" rx="1.5" fill="#000" opacity="0.15"/>
</g>
<g filter="url(#blur3)">
<rect x="305.1" y="868.5" width="23.0" height="11.0" rx="5.5" fill="#000" opacity="0.06"/>
<rect x="335.5" y="868.5" width="23.0" height="11.0" rx="5.5" fill="#000" opacity="0.14"/>
<rect x="367.5" y="868.5" width="23.0" height="11.0" rx="5.5" fill="#000" opacity="0.17"/>
<rect x="397.3" y="868.5" width="23.0" height="11.0" rx="5.5" fill="#000" opacity="0.12"/>
<rect x="429.0" y="868.5" width="23.0" height="11.0" rx="5.5" fill="#000" opacity="0.12"/>
<rect x="457.3" y="868.5" width="23.0" height="11.0" rx="5.5" fill="#000" opacity="0.13"/>
<rect x="489.0" y="868.5" width="23.0" height="11.0" rx="5.5" fill="#000" opacity="0.07"/>
<rect x="521.2" y="868.5" width="23.0" height="11.0" rx="5.5" fill="#000" opacity="0.16"/>
<rect x="551.5" y="868.5" width="23.0" height="11.0" rx="5.5" fill="#000" opacity="0.11"/>
<rect x="583.3" y="868.5" width="23.0" height="11.0" rx="5.5" fill="#000" opacity="0.20"/>
<rect x="613.4" y="868.5" width="23.0" height="11.0" rx="5.5" fill="#000" opacity="0.13"/>
<rect x="645.8" y="868.5" width="23.0" height="11.0" rx="5.5" fill="#000" opacity="0.10"/>
</g>
<g filter="url(#blur3)">
<rect x="304.1" y="938.0" width="25.0" height="10.0" rx="5.0" fill="#000" opacity="0.18"/>
<rect x="334.5" y="938.0" width="25.0" height="10.0" rx="5.0" fill="#000" opacity="0.20"/>
<rect x="366.5" y="938.0" width="25.0" height="10.0" rx="5.0" fill="#000" opacity="0.25"/>
<rect x="396.3" y="938.0" width="25.0" height="10.0" rx="5.0" fill="#000" opacity="0.22"/>
<rect x="428.0" y="938.0" width="25.0" height="10.0" rx="5.0" fill="#000" opacity="0.30"/>
<rect x="456.3" y="938.0" width="25.0" height="10.0" rx="5.0" fill="#000" opacity="0.30"/>
<rect x="488.0" y="938.0" width="25.0" height="10.0" rx="5.0" fill="#000" opacity="0.22"/>
<rect x="520.2" y="938.0" width="25.0" height="10.0" rx="5.0" fill="#000" opacity="0.30"/>
<rect x="550.5" y="938.0" width="25.0" height="10.0" rx="5.0" fill="#000" opacity="0.22"/>
<rect x="582.3" y="938.0" width="25.0" height="10.0" rx="5.0" fill="#000" opacity="0.30"/>
<rect x="612.4" y="938.0" width="25.0" height="10.0" rx="5.0" fill="#000" opacity="0.25"/>
<rect x="644.8" y="938.0" width="25.0" height="10.0" rx="5.0" fill="#000" opacity="0.20"/>
</g>
<g filter="url(#blur2)">
<rect x="304.1" y="945.9" width="25.0" height="7.5" rx="3.8" fill="#000" opacity="0.90"/>
<rect x="334.5" y="946.6" width="25.0" height="7.0" rx="3.5" fill="#000" opacity="0.88"/>
<rect x="365.5" y="946.1" width="27.0" height="9.0" rx="4.5" fill="#000" opacity="1.00"/>
<rect x="395.8" y="945.9" width="26.0" height="8.5" rx="4.2" fill="#000" opacity="0.97"/>
<rect x="426.5" y="946.1" width="28.0" height="11.0" rx="5.5" fill="#000" opacity="1.00"/>
<rect x="454.8" y="945.6" width="28.0" height="11.0" rx="5.5" fill="#000" opacity="1.00"/>
<rect x="487.5" y="945.4" width="26.0" height="8.5" rx="4.2" fill="#000" opacity="0.90"/>
<rect x="518.7" y="944.9" width="28.0" height="10.5" rx="5.2" fill="#000" opacity="1.00"/>
<rect x="550.5" y="945.9" width="25.0" height="7.5" rx="3.8" fill="#000" opacity="0.93"/>
<rect x="580.8" y="945.4" width="28.0" height="10.5" rx="5.2" fill="#000" opacity="1.00"/>
<rect x="611.4" y="945.6" width="27.0" height="9.0" rx="4.5" fill="#000" opacity="1.00"/>
<rect x="643.8" y="945.9" width="27.0" height="7.5" rx="3.8" fill="#000" opacity="0.72"/>
</g>
<g filter="url(#blur1)">
<rect x="306.1" y="976.1" width="21.0" height="2.2" rx="1.1" fill="#000" opacity="0.03"/>
<rect x="336.5" y="976.1" width="21.0" height="2.2" rx="1.1" fill="#000" opacity="0.38"/>
<rect x="368.5" y="976.1" width="21.0" height="2.2" rx="1.1" fill="#000" opacity="0.65"/>
<rect x="398.3" y="976.1" width="21.0" height="2.2" rx="1.1" fill="#000" opacity="0.14"/>
<rect x="430.0" y="976.1" width="21.0" height="2.2" rx="1.1" fill="#000" opacity="0.14"/>
<rect x="458.3" y="976.1" width="21.0" height="2.2" rx="1.1" fill="#000" opacity="0.09"/>
<rect x="490.0" y="976.1" width="21.0" height="2.2" rx="1.1" fill="#000" opacity="0.10"/>
<rect x="522.2" y="976.1" width="21.0" height="2.2" rx="1.1" fill="#000" opacity="0.70"/>
<rect x="552.5" y="976.1" width="21.0" height="2.2" rx="1.1" fill="#000" opacity="0.20"/>
<rect x="584.3" y="976.1" width="21.0" height="2.2" rx="1.1" fill="#000" opacity="0.18"/>
<rect x="614.4" y="976.1" width="21.0" height="2.2" rx="1.1" fill="#000" opacity="0.09"/>
<rect x="646.8" y="976.1" width="21.0" height="2.2" rx="1.1" fill="#000" opacity="0.05"/>
</g>
<g filter="url(#blur3)">
<rect x="336.0" y="1002.5" width="22.0" height="5.0" rx="2.5" fill="#000" opacity="0.03"/>
<rect x="368.0" y="1002.5" width="22.0" height="5.0" rx="2.5" fill="#000" opacity="0.14"/>
<rect x="397.8" y="1002.5" width="22.0" height="5.0" rx="2.5" fill="#000" opacity="0.05"/>
<rect x="429.5" y="1002.5" width="22.0" height="5.0" rx="2.5" fill="#000" opacity="0.10"/>
<rect x="457.8" y="1002.5" width="22.0" height="5.0" rx="2.5" fill="#000" opacity="0.10"/>
<rect x="489.5" y="1002.5" width="22.0" height="5.0" rx="2.5" fill="#000" opacity="0.05"/>
<rect x="521.7" y="1002.5" width="22.0" height="5.0" rx="2.5" fill="#000" opacity="0.18"/>
<rect x="552.0" y="1002.5" width="22.0" height="5.0" rx="2.5" fill="#000" opacity="0.06"/>
<rect x="583.8" y="1002.5" width="22.0" height="5.0" rx="2.5" fill="#000" opacity="0.10"/>
<rect x="613.9" y="1002.5" width="22.0" height="5.0" rx="2.5" fill="#000" opacity="0.03"/>
</g>
<g filter="url(#blur3)">
<rect x="336.0" y="1030.8" width="22.0" height="6.0" rx="3.0" fill="#000" opacity="0.03"/>
<rect x="368.0" y="1030.8" width="22.0" height="6.0" rx="3.0" fill="#000" opacity="0.10"/>
<rect x="397.8" y="1030.8" width="22.0" height="6.0" rx="3.0" fill="#000" opacity="0.04"/>
<rect x="429.5" y="1030.8" width="22.0" height="6.0" rx="3.0" fill="#000" opacity="0.08"/>
<rect x="457.8" y="1030.8" width="22.0" height="6.0" rx="3.0" fill="#000" opacity="0.08"/>
<rect x="489.5" y="1030.8" width="22.0" height="6.0" rx="3.0" fill="#000" opacity="0.02"/>
<rect x="521.7" y="1030.8" width="22.0" height="6.0" rx="3.0" fill="#000" opacity="0.10"/>
<rect x="552.0" y="1030.8" width="22.0" height="6.0" rx="3.0" fill="#000" opacity="0.02"/>
<rect x="583.8" y="1030.8" width="22.0" height="6.0" rx="3.0" fill="#000" opacity="0.05"/>
<rect x="613.9" y="1030.8" width="22.0" height="6.0" rx="3.0" fill="#000" opacity="0.02"/>
</g>
</g>
<rect x="297.2" y="840.0" width="376.6" height="235.8" fill="none" stroke="#000" stroke-width="2.5"/>
<clipPath id="cp9"><rect x="298" y="1084.2" width="375" height="30.399999999999864"/></clipPath>
<linearGradient id="bg9" x1="0" y1="0" x2="0" y2="1"><stop offset="0" stop-color="#e4e4e4"/><stop offset="1" stop-color="#e0e0e0"/></linearGradient>
<rect x="298.0" y="1084.2" width="375.0" height="30.4" fill="url(#bg9)"/>
<g clip-path="url(#cp9)">
<g filter="url(#blur3)">
<rect x="299.6" y="1099.1" width="28.5" height="12.8" rx="4" fill="#000" opacity="0.16"/>
<rect x="333.0" y="1099.0" width="28.0" height="13.0" rx="4" fill="#000" opacity="0.16"/>
<rect x="363.6" y="1099.1" width="32.5" height="12.8" rx="4" fill="#000" opacity="0.16"/>
<rect x="398.9" y="1098.7" width="28.5" height="12.4" rx="4" fill="#000" opacity="0.16"/>
<rect x="431.1" y="1098.7" width="29.5" height="12.4" rx="4" fill="#000" opacity="0.16"/>
<rect x="464.9" y="1099.0" width="28.0" height="12.2" rx="4" fill="#000" opacity="0.16"/>
<rect x="497.4" y="1099.1" width="26.0" height="12.0" rx="4" fill="#000" opacity="0.16"/>
<rect x="528.0" y="1099.1" width="28.5" height="12.4" rx="4" fill="#000" opacity="0.16"/>
<rect x="559.8" y="1098.8" width="25.5" height="12.6" rx="4" fill="#000" opacity="0.16"/>
<rect x="588.1" y="1099.7" width="24.0" height="12.4" rx="4" fill="#000" opacity="0.16"/>
<rect x="615.0" y="1101.4" width="23.6" height="12.2" rx="4" fill="#000" opacity="0.16"/>
<rect x="642.5" y="1102.8" width="28.0" height="12.2" rx="4" fill="#000" opacity="0.16"/>
</g>
<g filter="url(#blur3)">
<rect x="301.8" y="1091.0" width="24.0" height="8.0" rx="4.0" fill="#000" opacity="0.05"/>
<rect x="335.0" y="1091.0" width="24.0" height="8.0" rx="4.0" fill="#000" opacity="0.05"/>
<rect x="367.8" y="1091.0" width="24.0" height="8.0" rx="4.0" fill="#000" opacity="0.05"/>
<rect x="401.2" y="1091.0" width="24.0" height="8.0" rx="4.0" fill="#000" opacity="0.05"/>
<rect x="433.8" y="1091.0" width="24.0" height="8.0" rx="4.0" fill="#000" opacity="0.05"/>
<rect x="466.9" y="1091.0" width="24.0" height="8.0" rx="4.0" fill="#000" opacity="0.05"/>
<rect x="498.4" y="1091.0" width="24.0" height="8.0" rx="4.0" fill="#000" opacity="0.05"/>
<rect x="530.2" y="1091.0" width="24.0" height="8.0" rx="4.0" fill="#000" opacity="0.05"/>
<rect x="560.5" y="1091.0" width="24.0" height="8.0" rx="4.0" fill="#000" opacity="0.05"/>
<rect x="588.1" y="1091.0" width="24.0" height="8.0" rx="4.0" fill="#000" opacity="0.05"/>
<rect x="614.8" y="1091.0" width="24.0" height="8.0" rx="4.0" fill="#000" opacity="0.05"/>
<rect x="644.5" y="1091.0" width="24.0" height="8.0" rx="4.0" fill="#000" opacity="0.20"/>
</g>
<g filter="url(#blur1.2)">
<rect x="300.6" y="1102.6" width="26.5" height="4.8" rx="2.4" fill="#000" opacity="0.97"/>
<rect x="334.0" y="1102.5" width="26.0" height="5.0" rx="2.5" fill="#000" opacity="0.97"/>
<rect x="364.6" y="1102.6" width="30.5" height="4.8" rx="2.4" fill="#000" opacity="0.97"/>
<rect x="399.9" y="1102.2" width="26.5" height="4.4" rx="2.2" fill="#000" opacity="0.97" transform="rotate(-2 413.2 1104.4)"/>
<rect x="432.1" y="1102.2" width="27.5" height="4.4" rx="2.2" fill="#000" opacity="0.97"/>
<rect x="465.9" y="1102.5" width="26.0" height="4.2" rx="2.1" fill="#000" opacity="0.97"/>
<rect x="498.4" y="1102.6" width="24.0" height="4.0" rx="2.0" fill="#000" opacity="0.97" transform="rotate(3 510.4 1104.6)"/>
<rect x="529.0" y="1102.6" width="26.5" height="4.4" rx="2.2" fill="#000" opacity="0.97"/>
<rect x="560.8" y="1102.3" width="23.5" height="4.6" rx="2.3" fill="#000" opacity="0.97"/>
<rect x="589.1" y="1103.2" width="22.0" height="4.4" rx="2.2" fill="#000" opacity="0.97" transform="rotate(6 600.1 1105.4)"/>
<rect x="616.0" y="1104.9" width="21.6" height="4.2" rx="2.1" fill="#000" opacity="0.97"/>
<rect x="643.5" y="1106.3" width="26.0" height="4.2" rx="2.1" fill="#000" opacity="0.97" transform="rotate(5 656.5 1108.4)"/>
</g>
<g filter="url(#blur1.6)">
<rect x="300.8" y="1110.5" width="26.0" height="3.0" rx="1.5" fill="#000" opacity="0.28"/>
<rect x="334.0" y="1110.5" width="26.0" height="3.0" rx="1.5" fill="#000" opacity="0.28"/>
<rect x="366.8" y="1110.5" width="26.0" height="3.0" rx="1.5" fill="#000" opacity="0.28"/>
<rect x="400.2" y="1110.5" width="26.0" height="3.0" rx="1.5" fill="#000" opacity="0.28"/>
<rect x="432.8" y="1110.5" width="26.0" height="3.0" rx="1.5" fill="#000" opacity="0.28"/>
<rect x="465.9" y="1110.5" width="26.0" height="3.0" rx="1.5" fill="#000" opacity="0.28"/>
<rect x="497.4" y="1110.5" width="26.0" height="3.0" rx="1.5" fill="#000" opacity="0.28"/>
<rect x="529.2" y="1110.5" width="26.0" height="3.0" rx="1.5" fill="#000" opacity="0.28"/>
<rect x="559.5" y="1110.5" width="26.0" height="3.0" rx="1.5" fill="#000" opacity="0.28"/>
<rect x="587.1" y="1110.5" width="26.0" height="3.0" rx="1.5" fill="#000" opacity="0.28"/>
<rect x="613.8" y="1110.5" width="26.0" height="3.0" rx="1.5" fill="#000" opacity="0.28"/>
<rect x="643.5" y="1110.5" width="26.0" height="3.0" rx="1.5" fill="#000" opacity="0.28"/>
</g>
</g>
<rect x="298.0" y="1084.2" width="375.0" height="30.4" fill="none" stroke="#000" stroke-width="2.4"/>
<text x="241.2" y="898.7" font-size="15">70kDa</text>
<line x1="285.3" y1="903.0" x2="302.0" y2="903.0" stroke="#000" stroke-width="1.8"/>
<text x="234.0" y="1098.3" font-size="15">100kDa</text>
<line x1="284.2" y1="1104.0" x2="302.0" y2="1104.0" stroke="#000" stroke-width="1.8"/>
<text x="681.9" y="957.8" font-size="22">ADMA</text>
<text x="687.3" y="1108.0" font-size="22">HSP90</text>
<text x="1325.2" y="562.0" font-size="26.5" font-weight="bold">k</text>
<g fill="#088408">
<circle cx="1547.8" cy="727.7" r="2.6"/>
<circle cx="1601.9" cy="718.0" r="2.6"/>
<circle cx="1633.2" cy="740.3" r="2.6"/>
<circle cx="1564.0" cy="791.9" r="2.6"/>
<circle cx="1591.7" cy="729.1" r="2.6"/>
<circle cx="1612.6" cy="760.2" r="2.6"/>
<circle cx="1539.4" cy="686.7" r="2.6"/>
<circle cx="1580.5" cy="728.7" r="2.6"/>
<circle cx="1573.5" cy="731.4" r="2.6"/>
<circle cx="1535.1" cy="764.5" r="2.6"/>
<circle cx="1528.7" cy="736.6" r="2.6"/>
<circle cx="1563.2" cy="754.6" r="2.6"/>
<circle cx="1520.1" cy="776.9" r="2.6"/>
<circle cx="1535.7" cy="732.3" r="2.6"/>
<circle cx="1499.1" cy="784.7" r="2.6"/>
<circle cx="1536.2" cy="748.6" r="2.6"/>
<circle cx="1525.6" cy="723.5" r="2.6"/>
<circle cx="1585.7" cy="716.8" r="2.6"/>
<circle cx="1580.3" cy="783.6" r="2.6"/>
<circle cx="1485.6" cy="781.2" r="2.6"/>
<circle cx="1540.0" cy="783.5" r="2.6"/>
<circle cx="1485.1" cy="737.6" r="2.6"/>
<circle cx="1500.3" cy="743.8" r="2.6"/>
<circle cx="1540.8" cy="786.8" r="2.6"/>
<circle cx="1572.0" cy="762.1" r="2.6"/>
<circle cx="1553.8" cy="748.2" r="2.6"/>
<circle cx="1633.6" cy="727.7" r="2.6"/>
<circle cx="1537.3" cy="793.2" r="2.6"/>
<circle cx="1608.6" cy="770.4" r="2.6"/>
<circle cx="1573.6" cy="713.4" r="2.6"/>
<circle cx="1486.4" cy="778.3" r="2.6"/>
<circle cx="1576.8" cy="721.8" r="2.6"/>
<circle cx="1552.0" cy="740.2" r="2.6"/>
<circle cx="1586.5" cy="757.4" r="2.6"/>
<circle cx="1580.3" cy="723.8" r="2.6"/>
<circle cx="1468.6" cy="787.0" r="2.6"/>
<circle cx="1503.4" cy="754.7" r="2.6"/>
<circle cx="1637.8" cy="707.0" r="2.6"/>
<circle cx="1607.7" cy="772.6" r="2.6"/>
<circle cx="1543.0" cy="735.7" r="2.6"/>
<circle cx="1571.6" cy="735.2" r="2.6"/>
<circle cx="1647.9" cy="709.6" r="2.6"/>
<circle cx="1557.9" cy="746.3" r="2.6"/>
<circle cx="1564.7" cy="753.8" r="2.6"/>
<circle cx="1543.2" cy="760.9" r="2.6"/>
<circle cx="1588.7" cy="680.4" r="2.6"/>
<circle cx="1456.6" cy="771.1" r="2.6"/>
<circle cx="1559.6" cy="754.7" r="2.6"/>
<circle cx="1583.8" cy="734.1" r="2.6"/>
<circle cx="1565.2" cy="757.6" r="2.6"/>
<circle cx="1554.0" cy="705.4" r="2.6"/>
<circle cx="1566.1" cy="709.5" r="2.6"/>
<circle cx="1511.7" cy="761.7" r="2.6"/>
<circle cx="1575.7" cy="791.1" r="2.6"/>
<circle cx="1544.0" cy="734.6" r="2.6"/>
<circle cx="1629.1" cy="696.9" r="2.6"/>
<circle cx="1500.7" cy="752.4" r="2.6"/>
<circle cx="1529.6" cy="750.9" r="2.6"/>
<circle cx="1609.4" cy="710.1" r="2.6"/>
<circle cx="1523.0" cy="819.3" r="2.6"/>
<circle cx="1539.5" cy="728.5" r="2.6"/>
<circle cx="1566.7" cy="720.8" r="2.6"/>
<circle cx="1619.2" cy="766.3" r="2.6"/>
<circle cx="1517.4" cy="793.5" r="2.6"/>
<circle cx="1511.8" cy="806.2" r="2.6"/>
<circle cx="1558.0" cy="776.8" r="2.6"/>
<circle cx="1566.6" cy="767.1" r="2.6"/>
<circle cx="1596.9" cy="740.9" r="2.6"/>
<circle cx="1617.9" cy="748.3" r="2.6"/>
<circle cx="1573.7" cy="726.7" r="2.6"/>
<circle cx="1565.6" cy="756.7" r="2.6"/>
<circle cx="1615.3" cy="738.0" r="2.6"/>
<circle cx="1608.7" cy="689.9" r="2.6"/>
<circle cx="1547.5" cy="713.6" r="2.6"/>
<circle cx="1540.8" cy="734.8" r="2.6"/>
<circle cx="1533.8" cy="751.8" r="2.6"/>
<circle cx="1586.2" cy="739.1" r="2.6"/>
<circle cx="1599.0" cy="710.9" r="2.6"/>
<circle cx="1538.1" cy="802.5" r="2.6"/>
<circle cx="1515.1" cy="717.2" r="2.6"/>
<circle cx="1534.9" cy="751.4" r="2.6"/>
<circle cx="1556.8" cy="740.9" r="2.6"/>
<circle cx="1561.1" cy="725.0" r="2.6"/>
<circle cx="1597.4" cy="760.9" r="2.6"/>
<circle cx="1545.7" cy="794.3" r="2.6"/>
<circle cx="1534.3" cy="767.2" r="2.6"/>
<circle cx="1546.9" cy="738.5" r="2.6"/>
<circle cx="1511.3" cy="745.1" r="2.6"/>
<circle cx="1470.9" cy="783.6" r="2.6"/>
<circle cx="1527.5" cy="758.6" r="2.6"/>
<circle cx="1517.3" cy="820.8" r="2.6"/>
<circle cx="1570.9" cy="687.4" r="2.6"/>
<circle cx="1491.9" cy="820.9" r="2.6"/>
<circle cx="1523.3" cy="737.2" r="2.6"/>
<circle cx="1573.2" cy="718.9" r="2.6"/>
<circle cx="1570.8" cy="765.7" r="2.6"/>
<circle cx="1497.4" cy="724.1" r="2.6"/>
<circle cx="1609.6" cy="693.8" r="2.6"/>
<circle cx="1621.9" cy="717.0" r="2.6"/>
<circle cx="1567.5" cy="723.0" r="2.6"/>
<circle cx="1593.6" cy="746.8" r="2.6"/>
<circle cx="1580.0" cy="739.3" r="2.6"/>
<circle cx="1550.2" cy="748.5" r="2.6"/>
<circle cx="1560.7" cy="767.5" r="2.6"/>
<circle cx="1524.7" cy="693.3" r="2.6"/>
<circle cx="1551.4" cy="723.8" r="2.6"/>
<circle cx="1621.4" cy="755.5" r="2.6"/>
<circle cx="1586.3" cy="713.8" r="2.6"/>
<circle cx="1570.7" cy="761.2" r="2.6"/>
<circle cx="1602.8" cy="753.9" r="2.6"/>
<circle cx="1569.4" cy="734.3" r="2.6"/>
<circle cx="1544.3" cy="738.6" r="2.6"/>
<circle cx="1510.7" cy="790.7" r="2.6"/>
<circle cx="1567.0" cy="749.3" r="2.6"/>
<circle cx="1523.5" cy="739.4" r="2.6"/>
<circle cx="1585.9" cy="748.0" r="2.6"/>
<circle cx="1529.2" cy="750.2" r="2.6"/>
<circle cx="1564.6" cy="732.3" r="2.6"/>
<circle cx="1545.1" cy="719.6" r="2.6"/>
<circle cx="1546.4" cy="708.7" r="2.6"/>
<circle cx="1553.6" cy="737.7" r="2.6"/>
<circle cx="1621.8" cy="726.6" r="2.6"/>
<circle cx="1574.6" cy="706.8" r="2.6"/>
<circle cx="1615.3" cy="697.4" r="2.6"/>
<circle cx="1483.0" cy="752.1" r="2.6"/>
<circle cx="1497.7" cy="753.5" r="2.6"/>
<circle cx="1516.8" cy="700.0" r="2.6"/>
<circle cx="1531.5" cy="769.6" r="2.6"/>
<circle cx="1577.5" cy="733.2" r="2.6"/>
<circle cx="1556.2" cy="765.6" r="2.6"/>
<circle cx="1623.3" cy="701.4" r="2.6"/>
<circle cx="1542.5" cy="766.2" r="2.6"/>
<circle cx="1546.2" cy="710.9" r="2.6"/>
<circle cx="1528.8" cy="738.5" r="2.6"/>
<circle cx="1606.9" cy="740.5" r="2.6"/>
<circle cx="1591.1" cy="742.1" r="2.6"/>
<circle cx="1596.6" cy="735.3" r="2.6"/>
<circle cx="1531.5" cy="746.4" r="2.6"/>
<circle cx="1588.8" cy="736.0" r="2.6"/>
<circle cx="1622.6" cy="738.8" r="2.6"/>
<circle cx="1585.0" cy="787.7" r="2.6"/>
<circle cx="1545.9" cy="757.1" r="2.6"/>
<circle cx="1478.5" cy="795.5" r="2.6"/>
<circle cx="1513.1" cy="784.8" r="2.6"/>
<circle cx="1588.7" cy="708.1" r="2.6"/>
<circle cx="1594.2" cy="783.6" r="2.6"/>
<circle cx="1485.8" cy="786.1" r="2.6"/>
<circle cx="1587.0" cy="717.6" r="2.6"/>
<circle cx="1585.6" cy="717.2" r="2.6"/>
<circle cx="1514.6" cy="781.3" r="2.6"/>
<circle cx="1515.4" cy="693.8" r="2.6"/>
<circle cx="1559.4" cy="779.5" r="2.6"/>
<circle cx="1557.0" cy="696.1" r="2.6"/>
<circle cx="1583.9" cy="716.1" r="2.6"/>
<circle cx="1571.9" cy="725.5" r="2.6"/>
<circle cx="1620.2" cy="761.8" r="2.6"/>
<circle cx="1559.4" cy="762.7" r="2.6"/>
<circle cx="1496.3" cy="759.5" r="2.6"/>
<circle cx="1545.5" cy="745.0" r="2.6"/>
<circle cx="1623.0" cy="735.7" r="2.6"/>
<circle cx="1555.3" cy="747.6" r="2.6"/>
<circle cx="1616.5" cy="743.8" r="2.6"/>
<circle cx="1528.7" cy="780.1" r="2.6"/>
<circle cx="1567.7" cy="724.2" r="2.6"/>
<circle cx="1541.6" cy="739.1" r="2.6"/>
<circle cx="1555.0" cy="708.0" r="2.6"/>
<circle cx="1464.0" cy="759.4" r="2.6"/>
<circle cx="1584.8" cy="727.5" r="2.6"/>
<circle cx="1608.5" cy="808.5" r="2.6"/>
<circle cx="1543.2" cy="728.5" r="2.6"/>
<circle cx="1515.3" cy="755.1" r="2.6"/>
<circle cx="1530.5" cy="753.1" r="2.6"/>
<circle cx="1569.6" cy="738.1" r="2.6"/>
<circle cx="1550.9" cy="726.9" r="2.6"/>
<circle cx="1482.4" cy="710.6" r="2.6"/>
<circle cx="1530.1" cy="753.6" r="2.6"/>
<circle cx="1594.8" cy="694.9" r="2.6"/>
<circle cx="1557.5" cy="764.0" r="2.6"/>
<circle cx="1537.4" cy="675.1" r="2.6"/>
<circle cx="1553.3" cy="706.0" r="2.6"/>
<circle cx="1488.8" cy="698.2" r="2.6"/>
<circle cx="1579.1" cy="778.4" r="2.6"/>
<circle cx="1604.4" cy="748.4" r="2.6"/>
<circle cx="1619.0" cy="716.7" r="2.6"/>
<circle cx="1558.9" cy="785.7" r="2.6"/>
<circle cx="1644.0" cy="706.6" r="2.6"/>
<circle cx="1522.2" cy="742.7" r="2.6"/>
<circle cx="1550.5" cy="826.7" r="2.6"/>
<circle cx="1539.3" cy="766.4" r="2.6"/>
<circle cx="1539.1" cy="733.4" r="2.6"/>
<circle cx="1580.4" cy="673.8" r="2.6"/>
<circle cx="1574.0" cy="673.6" r="2.6"/>
<circle cx="1537.3" cy="739.9" r="2.6"/>
<circle cx="1588.3" cy="721.7" r="2.6"/>
<circle cx="1560.0" cy="717.8" r="2.6"/>
<circle cx="1607.8" cy="766.9" r="2.6"/>
<circle cx="1516.6" cy="729.2" r="2.6"/>
<circle cx="1550.5" cy="733.7" r="2.6"/>
<circle cx="1578.0" cy="741.7" r="2.6"/>
<circle cx="1503.9" cy="795.0" r="2.6"/>
<circle cx="1554.0" cy="719.4" r="2.6"/>
<circle cx="1465.5" cy="731.3" r="2.6"/>
<circle cx="1609.1" cy="749.9" r="2.6"/>
<circle cx="1476.6" cy="755.4" r="2.6"/>
<circle cx="1557.5" cy="690.5" r="2.6"/>
<circle cx="1525.2" cy="724.3" r="2.6"/>
<circle cx="1552.7" cy="721.5" r="2.6"/>
<circle cx="1597.5" cy="689.6" r="2.6"/>
<circle cx="1535.2" cy="742.3" r="2.6"/>
<circle cx="1514.4" cy="696.9" r="2.6"/>
<circle cx="1574.9" cy="700.3" r="2.6"/>
<circle cx="1530.5" cy="730.0" r="2.6"/>
<circle cx="1579.6" cy="743.0" r="2.6"/>
<circle cx="1539.6" cy="784.8" r="2.6"/>
<circle cx="1549.9" cy="736.2" r="2.6"/>
<circle cx="1600.6" cy="702.6" r="2.6"/>
<circle cx="1612.9" cy="744.2" r="2.6"/>
<circle cx="1529.4" cy="742.9" r="2.6"/>
<circle cx="1617.7" cy="743.8" r="2.6"/>
<circle cx="1603.9" cy="729.4" r="2.6"/>
<circle cx="1531.2" cy="734.7" r="2.6"/>
<circle cx="1601.8" cy="751.5" r="2.6"/>
<circle cx="1593.0" cy="718.5" r="2.6"/>
<circle cx="1624.8" cy="751.8" r="2.6"/>
<circle cx="1557.1" cy="763.4" r="2.6"/>
<circle cx="1625.6" cy="721.6" r="2.6"/>
<circle cx="1623.6" cy="696.9" r="2.6"/>
<circle cx="1544.2" cy="738.7" r="2.6"/>
<circle cx="1598.4" cy="718.9" r="2.6"/>
<circle cx="1550.9" cy="723.8" r="2.6"/>
<circle cx="1562.4" cy="690.0" r="2.6"/>
<circle cx="1509.0" cy="678.7" r="2.6"/>
<circle cx="1556.5" cy="713.7" r="2.6"/>
<circle cx="1643.0" cy="683.6" r="2.6"/>
<circle cx="1569.5" cy="759.2" r="2.6"/>
<circle cx="1583.2" cy="712.8" r="2.6"/>
<circle cx="1558.5" cy="726.5" r="2.6"/>
<circle cx="1552.3" cy="735.1" r="2.6"/>
<circle cx="1593.7" cy="721.7" r="2.6"/>
<circle cx="1575.5" cy="734.0" r="2.6"/>
<circle cx="1580.5" cy="747.9" r="2.6"/>
<circle cx="1565.7" cy="745.1" r="2.6"/>
<circle cx="1549.2" cy="732.4" r="2.6"/>
<circle cx="1561.0" cy="743.5" r="2.6"/>
<circle cx="1623.4" cy="744.2" r="2.6"/>
<circle cx="1584.6" cy="755.2" r="2.6"/>
<circle cx="1537.3" cy="755.1" r="2.6"/>
<circle cx="1618.7" cy="800.3" r="2.6"/>
<circle cx="1540.5" cy="741.1" r="2.6"/>
<circle cx="1602.5" cy="705.5" r="2.6"/>
<circle cx="1546.8" cy="776.0" r="2.6"/>
<circle cx="1577.6" cy="716.0" r="2.6"/>
<circle cx="1622.9" cy="708.0" r="2.6"/>
<circle cx="1496.9" cy="764.3" r="2.6"/>
<circle cx="1588.5" cy="734.3" r="2.6"/>
<circle cx="1542.2" cy="743.9" r="2.6"/>
<circle cx="1528.1" cy="708.6" r="2.6"/>
<circle cx="1568.5" cy="677.0" r="2.6"/>
<circle cx="1547.8" cy="744.6" r="2.6"/>
<circle cx="1574.4" cy="787.4" r="2.6"/>
<circle cx="1558.5" cy="738.5" r="2.6"/>
<circle cx="1598.7" cy="758.6" r="2.6"/>
<circle cx="1499.6" cy="759.2" r="2.6"/>
<circle cx="1540.7" cy="755.4" r="2.6"/>
<circle cx="1607.1" cy="735.4" r="2.6"/>
<circle cx="1531.7" cy="745.5" r="2.6"/>
<circle cx="1580.7" cy="762.1" r="2.6"/>
<circle cx="1541.3" cy="708.0" r="2.6"/>
<circle cx="1555.7" cy="726.1" r="2.6"/>
<circle cx="1504.2" cy="722.6" r="2.6"/>
<circle cx="1584.8" cy="700.8" r="2.6"/>
<circle cx="1609.7" cy="718.5" r="2.6"/>
<circle cx="1597.3" cy="658.8" r="2.6"/>
<circle cx="1592.4" cy="748.8" r="2.6"/>
<circle cx="1528.8" cy="739.0" r="2.6"/>
<circle cx="1575.5" cy="743.8" r="2.6"/>
<circle cx="1537.7" cy="759.8" r="2.6"/>
<circle cx="1574.7" cy="723.0" r="2.6"/>
<circle cx="1511.4" cy="775.4" r="2.6"/>
<circle cx="1593.0" cy="734.2" r="2.6"/>
<circle cx="1571.5" cy="715.2" r="2.6"/>
<circle cx="1571.9" cy="776.6" r="2.6"/>
<circle cx="1589.8" cy="718.3" r="2.6"/>
<circle cx="1546.8" cy="753.9" r="2.6"/>
<circle cx="1544.3" cy="773.7" r="2.6"/>
<circle cx="1523.3" cy="676.4" r="2.6"/>
<circle cx="1524.0" cy="759.0" r="2.6"/>
<circle cx="1645.6" cy="805.6" r="2.6"/>
<circle cx="1578.7" cy="691.6" r="2.6"/>
<circle cx="1642.9" cy="725.6" r="2.6"/>
<circle cx="1575.2" cy="767.3" r="2.6"/>
<circle cx="1621.4" cy="773.1" r="2.6"/>
<circle cx="1539.9" cy="708.4" r="2.6"/>
<circle cx="1587.2" cy="754.3" r="2.6"/>
<circle cx="1557.3" cy="811.2" r="2.6"/>
<circle cx="1546.0" cy="799.1" r="2.6"/>
<circle cx="1562.2" cy="735.9" r="2.6"/>
<circle cx="1577.4" cy="703.8" r="2.6"/>
<circle cx="1603.2" cy="758.6" r="2.6"/>
<circle cx="1595.0" cy="690.3" r="2.6"/>
<circle cx="1494.8" cy="718.5" r="2.6"/>
<circle cx="1569.2" cy="720.3" r="2.6"/>
<circle cx="1519.3" cy="751.4" r="2.6"/>
<circle cx="1559.1" cy="692.3" r="2.6"/>
<circle cx="1607.0" cy="723.8" r="2.6"/>
<circle cx="1631.2" cy="716.0" r="2.6"/>
<circle cx="1517.4" cy="771.0" r="2.6"/>
<circle cx="1543.6" cy="714.0" r="2.6"/>
<circle cx="1506.2" cy="729.9" r="2.6"/>
<circle cx="1550.0" cy="740.6" r="2.6"/>
<circle cx="1529.0" cy="745.0" r="2.6"/>
<circle cx="1566.1" cy="773.8" r="2.6"/>
<circle cx="1539.4" cy="742.3" r="2.6"/>
<circle cx="1542.2" cy="738.6" r="2.6"/>
<circle cx="1546.5" cy="744.2" r="2.6"/>
<circle cx="1613.8" cy="708.1" r="2.6"/>
<circle cx="1544.8" cy="744.7" r="2.6"/>
<circle cx="1488.1" cy="700.8" r="2.6"/>
<circle cx="1640.0" cy="808.5" r="2.6"/>
<circle cx="1568.2" cy="758.6" r="2.6"/>
<circle cx="1459.1" cy="753.9" r="2.6"/>
<circle cx="1593.3" cy="689.5" r="2.6"/>
<circle cx="1591.6" cy="724.9" r="2.6"/>
<circle cx="1603.6" cy="679.5" r="2.6"/>
<circle cx="1566.7" cy="756.0" r="2.6"/>
<circle cx="1581.6" cy="748.1" r="2.6"/>
<circle cx="1614.0" cy="725.2" r="2.6"/>
<circle cx="1579.2" cy="766.2" r="2.6"/>
<circle cx="1482.0" cy="750.8" r="2.6"/>
<circle cx="1538.8" cy="763.9" r="2.6"/>
<circle cx="1529.7" cy="784.4" r="2.6"/>
<circle cx="1540.2" cy="668.2" r="2.6"/>
<circle cx="1633.9" cy="772.7" r="2.6"/>
<circle cx="1601.5" cy="694.5" r="2.6"/>
<circle cx="1554.8" cy="739.2" r="2.6"/>
<circle cx="1515.4" cy="749.1" r="2.6"/>
<circle cx="1545.5" cy="744.8" r="2.6"/>
<circle cx="1614.3" cy="771.5" r="2.6"/>
<circle cx="1528.0" cy="738.6" r="2.6"/>
<circle cx="1558.0" cy="766.1" r="2.6"/>
<circle cx="1529.9" cy="733.4" r="2.6"/>
<circle cx="1545.1" cy="747.6" r="2.6"/>
<circle cx="1603.2" cy="723.0" r="2.6"/>
<circle cx="1540.4" cy="727.5" r="2.6"/>
<circle cx="1535.3" cy="756.5" r="2.6"/>
<circle cx="1536.9" cy="742.6" r="2.6"/>
<circle cx="1558.8" cy="724.2" r="2.6"/>
<circle cx="1506.2" cy="797.6" r="2.6"/>
<circle cx="1634.3" cy="753.6" r="2.6"/>
<circle cx="1517.8" cy="768.5" r="2.6"/>
<circle cx="1524.0" cy="749.7" r="2.6"/>
<circle cx="1528.2" cy="710.2" r="2.6"/>
<circle cx="1571.2" cy="738.8" r="2.6"/>
<circle cx="1571.6" cy="700.9" r="2.6"/>
<circle cx="1561.8" cy="728.3" r="2.6"/>
<circle cx="1578.5" cy="782.4" r="2.6"/>
<circle cx="1555.4" cy="730.1" r="2.6"/>
<circle cx="1588.2" cy="675.5" r="2.6"/>
<circle cx="1582.8" cy="738.5" r="2.6"/>
<circle cx="1553.6" cy="743.5" r="2.6"/>
<circle cx="1513.7" cy="769.9" r="2.6"/>
<circle cx="1566.2" cy="739.5" r="2.6"/>
<circle cx="1569.0" cy="740.1" r="2.6"/>
<circle cx="1497.0" cy="757.4" r="2.6"/>
<circle cx="1527.7" cy="796.4" r="2.6"/>
<circle cx="1585.1" cy="741.6" r="2.6"/>
<circle cx="1614.3" cy="719.7" r="2.6"/>
<circle cx="1613.4" cy="710.3" r="2.6"/>
<circle cx="1554.3" cy="816.1" r="2.6"/>
<circle cx="1520.1" cy="691.9" r="2.6"/>
<circle cx="1563.8" cy="674.0" r="2.6"/>
<circle cx="1537.4" cy="787.6" r="2.6"/>
<circle cx="1483.7" cy="742.6" r="2.6"/>
<circle cx="1584.4" cy="763.2" r="2.6"/>
<circle cx="1527.3" cy="758.0" r="2.6"/>
<circle cx="1546.5" cy="752.2" r="2.6"/>
<circle cx="1563.6" cy="735.2" r="2.6"/>
<circle cx="1590.7" cy="748.7" r="2.6"/>
<circle cx="1569.3" cy="738.3" r="2.6"/>
<circle cx="1517.2" cy="783.7" r="2.6"/>
<circle cx="1606.3" cy="717.5" r="2.6"/>
<circle cx="1588.0" cy="788.6" r="2.6"/>
<circle cx="1630.7" cy="705.2" r="2.6"/>
<circle cx="1575.6" cy="743.9" r="2.6"/>
<circle cx="1565.9" cy="735.2" r="2.6"/>
<circle cx="1579.2" cy="778.6" r="2.6"/>
<circle cx="1535.9" cy="763.9" r="2.6"/>
<circle cx="1612.2" cy="703.2" r="2.6"/>
<circle cx="1590.1" cy="754.8" r="2.6"/>
<circle cx="1583.5" cy="797.5" r="2.6"/>
<circle cx="1556.1" cy="711.0" r="2.6"/>
<circle cx="1565.8" cy="736.4" r="2.6"/>
<circle cx="1521.8" cy="768.5" r="2.6"/>
<circle cx="1551.4" cy="695.1" r="2.6"/>
<circle cx="1597.5" cy="714.8" r="2.6"/>
<circle cx="1558.1" cy="738.9" r="2.6"/>
<circle cx="1557.4" cy="796.6" r="2.6"/>
<circle cx="1561.7" cy="769.5" r="2.6"/>
<circle cx="1559.2" cy="746.5" r="2.6"/>
<circle cx="1617.7" cy="698.5" r="2.6"/>
<circle cx="1593.7" cy="724.8" r="2.6"/>
<circle cx="1498.6" cy="771.3" r="2.6"/>
<circle cx="1531.2" cy="797.0" r="2.6"/>
<circle cx="1609.0" cy="728.2" r="2.6"/>
<circle cx="1552.2" cy="748.2" r="2.6"/>
<circle cx="1642.6" cy="774.3" r="2.6"/>
<circle cx="1614.3" cy="769.3" r="2.6"/>
<circle cx="1569.7" cy="739.0" r="2.6"/>
<circle cx="1501.0" cy="759.3" r="2.6"/>
<circle cx="1578.3" cy="765.0" r="2.6"/>
<circle cx="1502.6" cy="799.8" r="2.6"/>
<circle cx="1583.5" cy="713.7" r="2.6"/>
<circle cx="1589.2" cy="735.2" r="2.6"/>
<circle cx="1583.6" cy="754.8" r="2.6"/>
<circle cx="1485.1" cy="740.7" r="2.6"/>
<circle cx="1582.7" cy="755.8" r="2.6"/>
<circle cx="1554.7" cy="711.3" r="2.6"/>
<circle cx="1618.3" cy="797.8" r="2.6"/>
<circle cx="1633.4" cy="733.0" r="2.6"/>
<circle cx="1515.9" cy="758.0" r="2.6"/>
<circle cx="1543.6" cy="750.3" r="2.6"/>
<circle cx="1564.6" cy="728.7" r="2.6"/>
<circle cx="1499.2" cy="774.3" r="2.6"/>
<circle cx="1525.3" cy="771.9" r="2.6"/>
<circle cx="1533.5" cy="718.5" r="2.6"/>
<circle cx="1535.0" cy="745.7" r="2.6"/>
<circle cx="1516.6" cy="759.4" r="2.6"/>
<circle cx="1477.8" cy="773.3" r="2.6"/>
<circle cx="1484.4" cy="774.9" r="2.6"/>
<circle cx="1524.2" cy="756.9" r="2.6"/>
<circle cx="1545.0" cy="734.1" r="2.6"/>
<circle cx="1496.8" cy="751.7" r="2.6"/>
<circle cx="1599.4" cy="757.8" r="2.6"/>
<circle cx="1529.9" cy="728.7" r="2.6"/>
<circle cx="1547.2" cy="738.2" r="2.6"/>
<circle cx="1519.3" cy="739.6" r="2.6"/>
<circle cx="1556.2" cy="713.6" r="2.6"/>
<circle cx="1616.3" cy="746.4" r="2.6"/>
<circle cx="1555.7" cy="789.3" r="2.6"/>
<circle cx="1541.9" cy="781.3" r="2.6"/>
<circle cx="1500.9" cy="814.1" r="2.6"/>
<circle cx="1609.2" cy="745.8" r="2.6"/>
<circle cx="1521.8" cy="684.0" r="2.6"/>
<circle cx="1637.2" cy="705.9" r="2.6"/>
<circle cx="1568.9" cy="708.2" r="2.6"/>
<circle cx="1561.4" cy="750.4" r="2.6"/>
<circle cx="1523.0" cy="739.4" r="2.6"/>
<circle cx="1622.1" cy="752.7" r="2.6"/>
<circle cx="1553.2" cy="759.0" r="2.6"/>
<circle cx="1575.0" cy="729.7" r="2.6"/>
<circle cx="1487.0" cy="792.0" r="2.6"/>
<circle cx="1567.7" cy="712.3" r="2.6"/>
<circle cx="1549.6" cy="719.5" r="2.6"/>
<circle cx="1491.9" cy="763.1" r="2.6"/>
<circle cx="1605.8" cy="719.6" r="2.6"/>
<circle cx="1525.9" cy="750.2" r="2.6"/>
<circle cx="1596.1" cy="753.2" r="2.6"/>
<circle cx="1609.4" cy="758.0" r="2.6"/>
<circle cx="1559.0" cy="715.6" r="2.6"/>
<circle cx="1507.2" cy="731.0" r="2.6"/>
<circle cx="1499.0" cy="697.7" r="2.6"/>
<circle cx="1627.3" cy="710.4" r="2.6"/>
<circle cx="1562.5" cy="757.5" r="2.6"/>
<circle cx="1610.0" cy="690.6" r="2.6"/>
<circle cx="1540.7" cy="730.9" r="2.6"/>
<circle cx="1571.0" cy="735.0" r="2.6"/>
<circle cx="1522.0" cy="702.8" r="2.6"/>
<circle cx="1518.2" cy="715.6" r="2.6"/>
<circle cx="1523.7" cy="779.2" r="2.6"/>
<circle cx="1485.0" cy="742.8" r="2.6"/>
<circle cx="1535.7" cy="794.9" r="2.6"/>
<circle cx="1545.4" cy="714.9" r="2.6"/>
<circle cx="1524.1" cy="745.6" r="2.6"/>
<circle cx="1579.5" cy="706.2" r="2.6"/>
<circle cx="1573.8" cy="775.2" r="2.6"/>
<circle cx="1560.4" cy="739.1" r="2.6"/>
<circle cx="1554.5" cy="781.0" r="2.6"/>
<circle cx="1568.1" cy="724.1" r="2.6"/>
<circle cx="1525.6" cy="735.2" r="2.6"/>
<circle cx="1554.1" cy="747.2" r="2.6"/>
<circle cx="1550.7" cy="772.1" r="2.6"/>
<circle cx="1474.5" cy="718.8" r="2.6"/>
<circle cx="1552.5" cy="736.2" r="2.6"/>
<circle cx="1551.7" cy="762.5" r="2.6"/>
<circle cx="1532.5" cy="769.1" r="2.6"/>
<circle cx="1591.3" cy="733.7" r="2.6"/>
<circle cx="1531.0" cy="780.6" r="2.6"/>
<circle cx="1581.4" cy="753.3" r="2.6"/>
<circle cx="1629.3" cy="754.6" r="2.6"/>
<circle cx="1557.2" cy="697.7" r="2.6"/>
<circle cx="1548.9" cy="756.3" r="2.6"/>
<circle cx="1588.1" cy="774.2" r="2.6"/>
<circle cx="1528.9" cy="698.9" r="2.6"/>
<circle cx="1573.7" cy="748.6" r="2.6"/>
<circle cx="1554.4" cy="722.5" r="2.6"/>
<circle cx="1558.9" cy="776.5" r="2.6"/>
<circle cx="1521.4" cy="712.1" r="2.6"/>
<circle cx="1528.7" cy="779.6" r="2.6"/>
<circle cx="1514.3" cy="757.8" r="2.6"/>
<circle cx="1533.1" cy="796.0" r="2.6"/>
<circle cx="1575.4" cy="735.4" r="2.6"/>
<circle cx="1567.8" cy="701.8" r="2.6"/>
<circle cx="1528.3" cy="722.8" r="2.6"/>
<circle cx="1495.6" cy="753.2" r="2.6"/>
<circle cx="1591.4" cy="750.0" r="2.6"/>
<circle cx="1596.0" cy="726.2" r="2.6"/>
<circle cx="1552.6" cy="727.7" r="2.6"/>
<circle cx="1562.8" cy="802.2" r="2.6"/>
<circle cx="1517.6" cy="718.1" r="2.6"/>
<circle cx="1561.4" cy="661.5" r="2.6"/>
<circle cx="1515.6" cy="760.8" r="2.6"/>
<circle cx="1567.5" cy="736.1" r="2.6"/>
<circle cx="1632.2" cy="674.5" r="2.6"/>
<circle cx="1599.3" cy="739.5" r="2.6"/>
<circle cx="1529.0" cy="742.7" r="2.6"/>
<circle cx="1569.6" cy="753.6" r="2.6"/>
<circle cx="1482.2" cy="716.8" r="2.6"/>
<circle cx="1586.0" cy="806.3" r="2.6"/>
<circle cx="1580.4" cy="690.6" r="2.6"/>
<circle cx="1564.5" cy="752.1" r="2.6"/>
<circle cx="1554.8" cy="760.6" r="2.6"/>
<circle cx="1544.1" cy="743.1" r="2.6"/>
<circle cx="1520.1" cy="762.9" r="2.6"/>
<circle cx="1601.2" cy="691.5" r="2.6"/>
<circle cx="1523.8" cy="781.5" r="2.6"/>
<circle cx="1505.6" cy="714.8" r="2.6"/>
<circle cx="1568.9" cy="778.7" r="2.6"/>
<circle cx="1574.5" cy="763.5" r="2.6"/>
<circle cx="1631.7" cy="738.0" r="2.6"/>
<circle cx="1542.9" cy="713.9" r="2.6"/>
<circle cx="1515.0" cy="716.1" r="2.6"/>
<circle cx="1614.9" cy="766.4" r="2.6"/>
<circle cx="1588.8" cy="736.5" r="2.6"/>
<circle cx="1495.7" cy="781.1" r="2.6"/>
<circle cx="1630.1" cy="714.9" r="2.6"/>
<circle cx="1592.5" cy="765.8" r="2.6"/>
<circle cx="1600.5" cy="779.7" r="2.6"/>
<circle cx="1589.2" cy="751.3" r="2.6"/>
<circle cx="1491.3" cy="770.7" r="2.6"/>
<circle cx="1558.0" cy="812.9" r="2.6"/>
<circle cx="1511.4" cy="778.0" r="2.6"/>
<circle cx="1566.1" cy="717.8" r="2.6"/>
<circle cx="1569.3" cy="772.8" r="2.6"/>
<circle cx="1581.6" cy="787.4" r="2.6"/>
<circle cx="1484.0" cy="785.1" r="2.6"/>
<circle cx="1513.4" cy="753.8" r="2.6"/>
<circle cx="1567.5" cy="721.6" r="2.6"/>
<circle cx="1546.6" cy="771.4" r="2.6"/>
<circle cx="1518.9" cy="726.8" r="2.6"/>
<circle cx="1601.9" cy="707.8" r="2.6"/>
<circle cx="1587.5" cy="702.6" r="2.6"/>
<circle cx="1614.3" cy="671.2" r="2.6"/>
<circle cx="1553.1" cy="764.4" r="2.6"/>
<circle cx="1545.3" cy="810.2" r="2.6"/>
<circle cx="1600.8" cy="701.8" r="2.6"/>
<circle cx="1465.6" cy="736.7" r="2.6"/>
<circle cx="1564.2" cy="732.2" r="2.6"/>
<circle cx="1564.3" cy="717.4" r="2.6"/>
<circle cx="1526.2" cy="737.5" r="2.6"/>
<circle cx="1550.2" cy="755.4" r="2.6"/>
<circle cx="1569.9" cy="741.6" r="2.6"/>
<circle cx="1608.8" cy="689.6" r="2.6"/>
<circle cx="1542.0" cy="761.5" r="2.6"/>
<circle cx="1565.3" cy="718.9" r="2.6"/>
<circle cx="1613.9" cy="704.2" r="2.6"/>
<circle cx="1628.1" cy="768.6" r="2.6"/>
<circle cx="1624.3" cy="715.3" r="2.6"/>
<circle cx="1518.3" cy="716.6" r="2.6"/>
<circle cx="1610.2" cy="744.8" r="2.6"/>
<circle cx="1528.1" cy="745.9" r="2.6"/>
<circle cx="1539.3" cy="745.5" r="2.6"/>
<circle cx="1578.2" cy="727.4" r="2.6"/>
<circle cx="1583.3" cy="739.8" r="2.6"/>
<circle cx="1552.3" cy="739.9" r="2.6"/>
<circle cx="1568.0" cy="727.0" r="2.6"/>
<circle cx="1648.5" cy="714.2" r="2.6"/>
<circle cx="1544.0" cy="686.2" r="2.6"/>
<circle cx="1609.9" cy="756.7" r="2.6"/>
<circle cx="1526.6" cy="731.4" r="2.6"/>
<circle cx="1517.6" cy="734.8" r="2.6"/>
<circle cx="1603.4" cy="772.4" r="2.6"/>
<circle cx="1607.0" cy="684.9" r="2.6"/>
<circle cx="1538.4" cy="735.6" r="2.6"/>
<circle cx="1576.9" cy="762.1" r="2.6"/>
<circle cx="1523.4" cy="745.9" r="2.6"/>
<circle cx="1522.0" cy="772.5" r="2.6"/>
<circle cx="1562.5" cy="732.3" r="2.6"/>
<circle cx="1593.8" cy="666.1" r="2.6"/>
<circle cx="1556.8" cy="758.0" r="2.6"/>
<circle cx="1610.2" cy="758.6" r="2.6"/>
<circle cx="1565.0" cy="741.4" r="2.6"/>
<circle cx="1634.8" cy="710.8" r="2.6"/>
<circle cx="1515.9" cy="810.7" r="2.6"/>
<circle cx="1592.4" cy="751.3" r="2.6"/>
<circle cx="1548.6" cy="737.1" r="2.6"/>
<circle cx="1496.1" cy="740.3" r="2.6"/>
<circle cx="1566.0" cy="765.0" r="2.6"/>
<circle cx="1558.8" cy="778.2" r="2.6"/>
<circle cx="1517.7" cy="766.2" r="2.6"/>
<circle cx="1544.7" cy="747.3" r="2.6"/>
<circle cx="1517.7" cy="695.7" r="2.6"/>
<circle cx="1582.5" cy="704.3" r="2.6"/>
<circle cx="1491.7" cy="685.5" r="2.6"/>
<circle cx="1566.3" cy="723.7" r="2.6"/>
<circle cx="1535.5" cy="731.0" r="2.6"/>
<circle cx="1525.0" cy="775.6" r="2.6"/>
<circle cx="1570.2" cy="743.9" r="2.6"/>
<circle cx="1538.0" cy="746.5" r="2.6"/>
<circle cx="1590.0" cy="792.7" r="2.6"/>
<circle cx="1548.6" cy="772.5" r="2.6"/>
<circle cx="1632.3" cy="706.4" r="2.6"/>
<circle cx="1510.5" cy="748.3" r="2.6"/>
<circle cx="1550.1" cy="744.5" r="2.6"/>
<circle cx="1562.0" cy="721.9" r="2.6"/>
<circle cx="1592.8" cy="694.9" r="2.6"/>
<circle cx="1563.8" cy="788.1" r="2.6"/>
<circle cx="1549.1" cy="709.9" r="2.6"/>
<circle cx="1650.4" cy="701.8" r="2.6"/>
<circle cx="1525.9" cy="747.1" r="2.6"/>
<circle cx="1540.1" cy="735.4" r="2.6"/>
<circle cx="1572.2" cy="752.7" r="2.6"/>
<circle cx="1557.4" cy="760.2" r="2.6"/>
<circle cx="1594.1" cy="747.6" r="2.6"/>
<circle cx="1583.7" cy="769.3" r="2.6"/>
<circle cx="1621.7" cy="750.6" r="2.6"/>
<circle cx="1560.1" cy="713.8" r="2.6"/>
<circle cx="1628.8" cy="736.8" r="2.6"/>
<circle cx="1540.8" cy="821.3" r="2.6"/>
<circle cx="1547.1" cy="743.4" r="2.6"/>
<circle cx="1599.3" cy="759.9" r="2.6"/>
<circle cx="1594.5" cy="769.1" r="2.6"/>
<circle cx="1573.4" cy="810.4" r="2.6"/>
<circle cx="1587.8" cy="796.3" r="2.6"/>
<circle cx="1613.2" cy="723.4" r="2.6"/>
<circle cx="1544.2" cy="766.1" r="2.6"/>
<circle cx="1606.9" cy="753.4" r="2.6"/>
<circle cx="1516.1" cy="752.7" r="2.6"/>
<circle cx="1550.0" cy="717.6" r="2.6"/>
<circle cx="1596.5" cy="707.3" r="2.6"/>
<circle cx="1526.8" cy="748.9" r="2.6"/>
<circle cx="1536.0" cy="749.0" r="2.6"/>
<circle cx="1580.3" cy="719.4" r="2.6"/>
<circle cx="1550.9" cy="720.7" r="2.6"/>
<circle cx="1485.5" cy="770.4" r="2.6"/>
<circle cx="1506.1" cy="769.2" r="2.6"/>
<circle cx="1547.1" cy="776.6" r="2.6"/>
<circle cx="1524.2" cy="769.7" r="2.6"/>
<circle cx="1559.3" cy="719.9" r="2.6"/>
<circle cx="1620.7" cy="765.1" r="2.6"/>
<circle cx="1541.9" cy="718.8" r="2.6"/>
<circle cx="1555.3" cy="736.0" r="2.6"/>
<circle cx="1570.2" cy="750.0" r="2.6"/>
<circle cx="1563.1" cy="787.4" r="2.6"/>
<circle cx="1581.7" cy="725.9" r="2.6"/>
<circle cx="1587.5" cy="756.2" r="2.6"/>
<circle cx="1509.1" cy="733.7" r="2.6"/>
<circle cx="1514.9" cy="750.9" r="2.6"/>
<circle cx="1491.3" cy="742.1" r="2.6"/>
<circle cx="1497.4" cy="708.3" r="2.6"/>
<circle cx="1620.9" cy="772.1" r="2.6"/>
<circle cx="1456.6" cy="757.1" r="2.6"/>
<circle cx="1497.8" cy="725.0" r="2.6"/>
<circle cx="1527.8" cy="765.4" r="2.6"/>
<circle cx="1496.8" cy="738.8" r="2.6"/>
<circle cx="1519.0" cy="723.3" r="2.6"/>
<circle cx="1527.5" cy="698.2" r="2.6"/>
<circle cx="1515.1" cy="748.6" r="2.6"/>
<circle cx="1550.6" cy="726.8" r="2.6"/>
<circle cx="1543.1" cy="750.6" r="2.6"/>
<circle cx="1523.9" cy="694.5" r="2.6"/>
<circle cx="1583.7" cy="742.9" r="2.6"/>
<circle cx="1612.1" cy="766.0" r="2.6"/>
<circle cx="1539.5" cy="739.2" r="2.6"/>
<circle cx="1509.3" cy="786.5" r="2.6"/>
<circle cx="1552.7" cy="764.8" r="2.6"/>
<circle cx="1581.7" cy="782.2" r="2.6"/>
<circle cx="1635.2" cy="743.1" r="2.6"/>
<circle cx="1555.1" cy="774.2" r="2.6"/>
<circle cx="1587.5" cy="679.3" r="2.6"/>
<circle cx="1488.0" cy="793.1" r="2.6"/>
<circle cx="1578.2" cy="759.4" r="2.6"/>
<circle cx="1598.4" cy="722.4" r="2.6"/>
<circle cx="1588.3" cy="720.0" r="2.6"/>
<circle cx="1515.9" cy="711.6" r="2.6"/>
<circle cx="1520.7" cy="683.7" r="2.6"/>
<circle cx="1552.9" cy="728.5" r="2.6"/>
<circle cx="1585.1" cy="757.2" r="2.6"/>
<circle cx="1557.1" cy="770.4" r="2.6"/>
<circle cx="1518.7" cy="704.5" r="2.6"/>
<circle cx="1552.8" cy="714.1" r="2.6"/>
<circle cx="1629.4" cy="740.2" r="2.6"/>
<circle cx="1535.2" cy="768.3" r="2.6"/>
<circle cx="1531.4" cy="759.3" r="2.6"/>
<circle cx="1568.6" cy="739.2" r="2.6"/>
<circle cx="1539.2" cy="727.0" r="2.6"/>
<circle cx="1600.1" cy="777.1" r="2.6"/>
<circle cx="1511.2" cy="696.9" r="2.6"/>
<circle cx="1563.2" cy="747.1" r="2.6"/>
<circle cx="1521.9" cy="749.1" r="2.6"/>
<circle cx="1575.9" cy="763.6" r="2.6"/>
<circle cx="1547.1" cy="617.8" r="2.6"/>
<circle cx="1700.4" cy="784.2" r="2.6"/>
<circle cx="1711.2" cy="718.0" r="2.6"/>
<circle cx="1707.6" cy="734.1" r="2.6"/>
<circle cx="1502.8" cy="829.4" r="2.6"/>
<circle cx="1613.0" cy="814.0" r="2.6"/>
<circle cx="1572.3" cy="819.7" r="2.6"/>
<circle cx="1561.5" cy="817.3" r="2.6"/>
<circle cx="1482.5" cy="667.9" r="2.6"/>
<circle cx="1456.2" cy="771.2" r="2.6"/>
<circle cx="1599.8" cy="638.8" r="2.6"/>
<circle cx="1604.6" cy="643.7" r="2.6"/>
<circle cx="1622.6" cy="655.8" r="2.6"/>
<circle cx="1635.7" cy="676.0" r="2.6"/>
<circle cx="1654.9" cy="708.3" r="2.6"/>
<circle cx="1665.7" cy="739.8" r="2.6"/>
<circle cx="1678.8" cy="745.4" r="2.6"/>
<circle cx="1669.3" cy="746.2" r="2.6"/>
<circle cx="1670.5" cy="728.4" r="2.6"/>
<circle cx="1647.7" cy="714.7" r="2.6"/>
</g>
<line x1="1435.8" y1="611.8" x2="1435.8" y2="856.4" stroke="#000" stroke-width="2.5"/>
<line x1="1434.6" y1="855.2" x2="1736.3" y2="855.2" stroke="#000" stroke-width="2.5"/>
<line x1="1425.8" y1="855.2" x2="1435.8" y2="855.2" stroke="#000" stroke-width="2.5"/>
<text x="1423.8" y="863.7" font-size="24" text-anchor="end">150</text>
<line x1="1425.8" y1="814.8" x2="1435.8" y2="814.8" stroke="#000" stroke-width="2.5"/>
<text x="1423.8" y="823.3" font-size="24" text-anchor="end">200</text>
<line x1="1425.8" y1="774.5" x2="1435.8" y2="774.5" stroke="#000" stroke-width="2.5"/>
<text x="1423.8" y="783.0" font-size="24" text-anchor="end">250</text>
<line x1="1425.8" y1="734.1" x2="1435.8" y2="734.1" stroke="#000" stroke-width="2.5"/>
<text x="1423.8" y="742.6" font-size="24" text-anchor="end">300</text>
<line x1="1425.8" y1="693.7" x2="1435.8" y2="693.7" stroke="#000" stroke-width="2.5"/>
<text x="1423.8" y="702.2" font-size="24" text-anchor="end">350</text>
<line x1="1425.8" y1="653.4" x2="1435.8" y2="653.4" stroke="#000" stroke-width="2.5"/>
<text x="1423.8" y="661.9" font-size="24" text-anchor="end">400</text>
<line x1="1425.8" y1="613.0" x2="1435.8" y2="613.0" stroke="#000" stroke-width="2.5"/>
<text x="1423.8" y="621.5" font-size="24" text-anchor="end">450</text>
<line x1="1435.8" y1="855.2" x2="1435.8" y2="865.2" stroke="#000" stroke-width="2.5"/>
<text x="1435.8" y="890.5" font-size="24" text-anchor="middle">15</text>
<line x1="1495.7" y1="855.2" x2="1495.7" y2="865.2" stroke="#000" stroke-width="2.5"/>
<text x="1495.7" y="890.5" font-size="24" text-anchor="middle">20</text>
<line x1="1555.5" y1="855.2" x2="1555.5" y2="865.2" stroke="#000" stroke-width="2.5"/>
<text x="1555.5" y="890.5" font-size="24" text-anchor="middle">25</text>
<line x1="1615.4" y1="855.2" x2="1615.4" y2="865.2" stroke="#000" stroke-width="2.5"/>
<text x="1615.4" y="890.5" font-size="24" text-anchor="middle">30</text>
<line x1="1675.2" y1="855.2" x2="1675.2" y2="865.2" stroke="#000" stroke-width="2.5"/>
<text x="1675.2" y="890.5" font-size="24" text-anchor="middle">35</text>
<line x1="1735.1" y1="855.2" x2="1735.1" y2="865.2" stroke="#000" stroke-width="2.5"/>
<text x="1735.1" y="890.5" font-size="24" text-anchor="middle">40</text>
<text x="1584.7" y="927.0" font-size="25.5" text-anchor="middle">BMI</text>
<text x="1369.5" y="730.5" font-size="27" text-anchor="middle" transform="rotate(-90 1369.5 730.5)">Serum ADMA (nM)</text>
<text x="1447.5" y="611.9" font-size="23.3"><tspan font-style="italic">y</tspan>=230+2.4<tspan font-style="italic">x</tspan></text>
<text x="1655.8" y="610.3" font-size="23"><tspan font-style="italic">P</tspan>=0.00002</text>
<text x="1655.6" y="638.3" font-size="23">R<tspan font-size="17" dy="-8.5">2</tspan><tspan dy="8.5">=0.04</tspan></text>
<line x1="1455.5" y1="758.7" x2="1711.5" y2="718.3" stroke="#1010e8" stroke-width="4.5"/>
</svg></body></html>
